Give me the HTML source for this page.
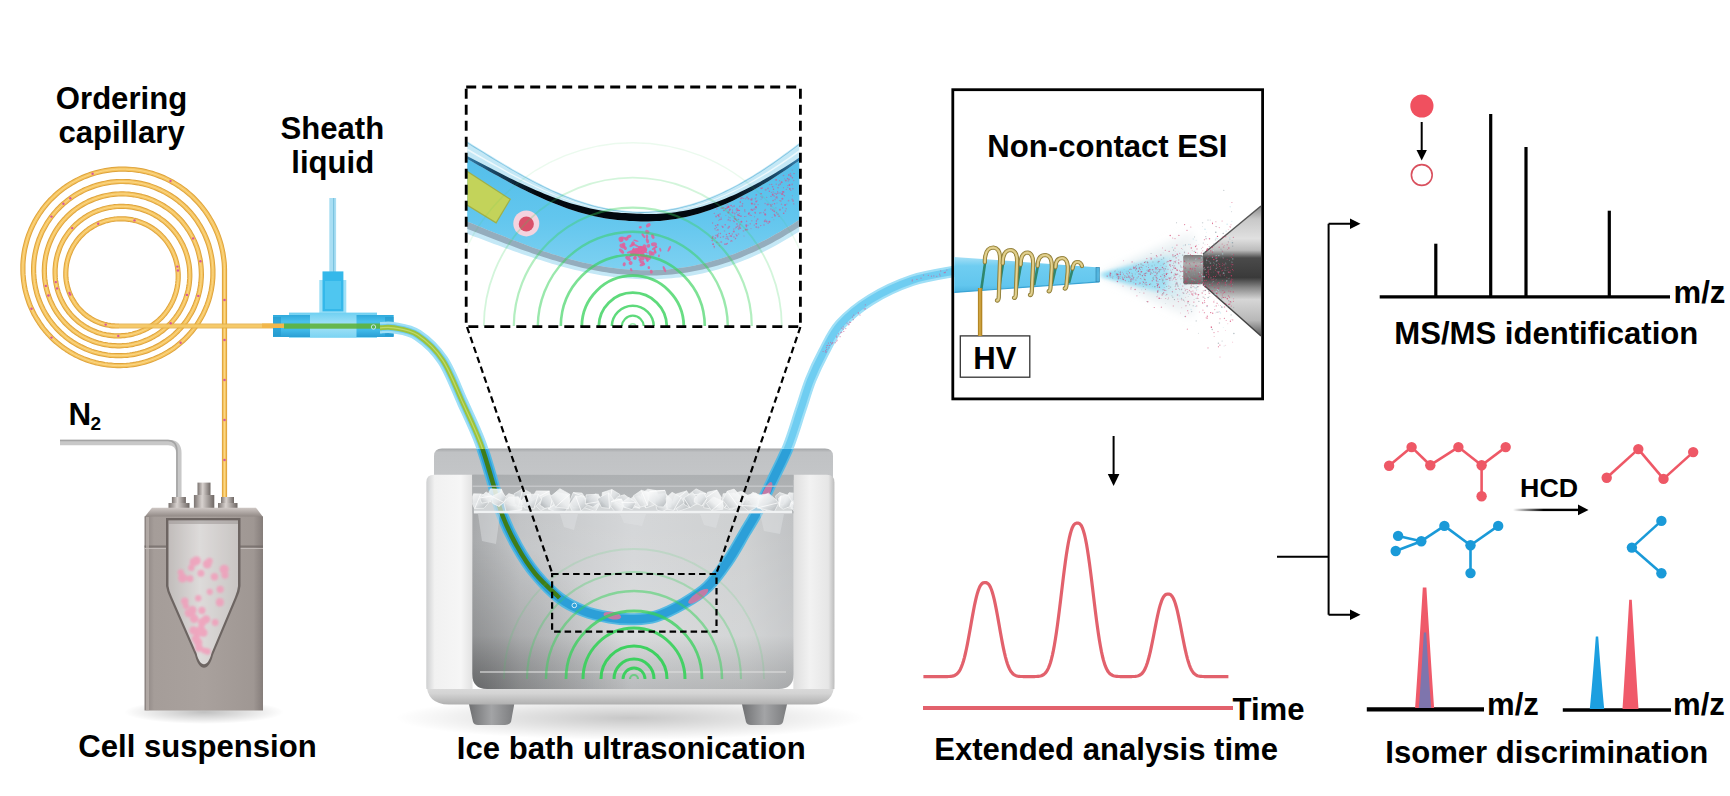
<!DOCTYPE html>
<html><head><meta charset="utf-8"><style>
html,body{margin:0;padding:0;background:#fff;}
svg{display:block;}
</style></head><body>
<svg width="1730" height="796" viewBox="0 0 1730 796">
<rect width="1730" height="796" fill="#fff"/>
<g fill="none" stroke-linejoin="round"><path d="M224.5,505.0 L224.5,300.0 L224.5,269.5 L224.4,266.1 L224.2,262.7 L223.8,259.3 L223.3,255.9 L222.8,252.5 L222.1,249.2 L221.3,245.8 L220.4,242.5 L219.4,239.3 L218.3,236.1 L217.1,232.9 L215.7,229.7 L214.3,226.7 L212.8,223.6 L211.1,220.6 L209.4,217.7 L207.6,214.8 L205.7,212.0 L203.7,209.3 L201.6,206.6 L199.4,204.0 L197.1,201.5 L194.8,199.1 L192.4,196.7 L189.9,194.4 L187.3,192.3 L184.7,190.1 L181.9,188.1 L179.2,186.2 L176.3,184.4 L173.4,182.6 L170.5,181.0 L167.5,179.5 L164.5,178.0 L161.4,176.7 L158.2,175.5 L155.1,174.4 L151.9,173.3 L148.6,172.4 L145.4,171.6 L142.1,170.9 L138.8,170.3 L135.5,169.9 L132.2,169.5 L128.8,169.3 L125.5,169.1 L122.1,169.1 L118.8,169.2 L115.5,169.4 L112.1,169.7 L108.8,170.1 L105.5,170.6 L102.2,171.2 L99.0,172.0 L95.8,172.8 L92.6,173.7 L89.4,174.8 L86.3,176.0 L83.2,177.2 L80.2,178.6 L77.2,180.0 L74.3,181.6 L71.4,183.2 L68.6,185.0 L65.8,186.8 L63.1,188.7 L60.5,190.8 L58.0,192.8 L55.5,195.0 L53.1,197.3 L50.7,199.6 L48.5,202.0 L46.3,204.5 L44.2,207.1 L42.2,209.7 L40.3,212.4 L38.5,215.1 L36.8,217.9 L35.1,220.8 L33.6,223.7 L32.2,226.6 L30.8,229.6 L29.6,232.6 L28.4,235.7 L27.4,238.8 L26.5,242.0 L25.7,245.1 L24.9,248.3 L24.3,251.5 L23.8,254.7 L23.4,258.0 L23.1,261.2 L22.9,264.5 L22.9,267.7 L22.9,271.0 L23.0,274.2 L23.3,277.5 L23.6,280.7 L24.1,283.9 L24.6,287.1 L25.3,290.3 L26.1,293.4 L27.0,296.6 L28.0,299.6 L29.0,302.7 L30.2,305.7 L31.5,308.7 L32.9,311.6 L34.3,314.5 L35.9,317.3 L37.6,320.0 L39.3,322.7 L41.1,325.4 L43.0,328.0 L45.0,330.5 L47.1,332.9 L49.3,335.3 L51.5,337.6 L53.8,339.8 L56.2,342.0 L58.7,344.0 L61.2,346.0 L63.7,347.9 L66.4,349.7 L69.1,351.4 L71.8,353.0 L74.6,354.6 L77.4,356.0 L80.3,357.3 L83.3,358.6 L86.2,359.7 L89.2,360.8 L92.3,361.7 L95.3,362.6 L98.4,363.3 L101.5,363.9 L104.6,364.5 L107.7,364.9 L110.9,365.2 L114.0,365.5 L117.2,365.6 L120.4,365.6 L123.5,365.5 L126.6,365.3 L129.8,365.0 L132.9,364.6 L136.0,364.1 L139.1,363.5 L142.1,362.8 L145.2,361.9 L148.2,361.0 L151.1,360.0 L154.1,358.9 L156.9,357.7 L159.8,356.4 L162.6,355.0 L165.3,353.5 L168.0,352.0 L170.7,350.3 L173.3,348.6 L175.8,346.7 L178.2,344.8 L180.6,342.8 L182.9,340.8 L185.2,338.6 L187.4,336.4 L189.5,334.1 L191.5,331.8 L193.4,329.4 L195.3,326.9 L197.1,324.4 L198.7,321.8 L200.3,319.1 L201.9,316.4 L203.3,313.7 L204.6,310.9 L205.8,308.1 L207.0,305.2 L208.0,302.3 L209.0,299.4 L209.8,296.5 L210.5,293.5 L211.2,290.5 L211.7,287.5 L212.2,284.4 L212.5,281.4 L212.8,278.3 L212.9,275.3 L212.9,272.2 L212.9,269.2 L212.7,266.1 L212.4,263.1 L212.1,260.0 L211.6,257.0 L211.0,254.0 L210.4,251.1 L209.6,248.1 L208.8,245.2 L207.8,242.3 L206.7,239.5 L205.6,236.7 L204.4,233.9 L203.0,231.2 L201.6,228.5 L200.1,225.8 L198.5,223.3 L196.9,220.7 L195.1,218.3 L193.3,215.9 L191.4,213.5 L189.4,211.3 L187.3,209.1 L185.2,206.9 L183.0,204.9 L180.7,202.9 L178.4,201.0 L176.0,199.2 L173.5,197.4 L171.0,195.8 L168.5,194.2 L165.9,192.7 L163.2,191.3 L160.5,190.0 L157.8,188.8 L155.0,187.6 L152.2,186.6 L149.4,185.6 L146.5,184.8 L143.6,184.0 L140.7,183.4 L137.8,182.8 L134.8,182.4 L131.9,182.0 L128.9,181.7 L126.0,181.6 L123.0,181.5 L120.0,181.5 L117.0,181.7 L114.1,181.9 L111.1,182.2 L108.2,182.6 L105.3,183.2 L102.4,183.8 L99.5,184.5 L96.7,185.3 L93.8,186.2 L91.1,187.2 L88.3,188.3 L85.6,189.4 L82.9,190.7 L80.3,192.1 L77.7,193.5 L75.2,195.0 L72.7,196.6 L70.3,198.3 L68.0,200.0 L65.7,201.9 L63.4,203.8 L61.3,205.7 L59.2,207.8 L57.1,209.9 L55.2,212.1 L53.3,214.3 L51.5,216.6 L49.8,219.0 L48.1,221.4 L46.5,223.9 L45.1,226.4 L43.7,228.9 L42.3,231.5 L41.1,234.2 L40.0,236.9 L38.9,239.6 L38.0,242.3 L37.1,245.1 L36.4,247.9 L35.7,250.7 L35.1,253.5 L34.6,256.4 L34.2,259.3 L33.9,262.1 L33.7,265.0 L33.6,267.9 L33.6,270.8 L33.7,273.7 L33.9,276.5 L34.1,279.4 L34.5,282.3 L35.0,285.1 L35.5,287.9 L36.2,290.7 L36.9,293.5 L37.7,296.2 L38.7,299.0 L39.7,301.6 L40.8,304.3 L42.0,306.9 L43.2,309.4 L44.6,311.9 L46.0,314.4 L47.5,316.8 L49.1,319.2 L50.8,321.5 L52.5,323.8 L54.3,325.9 L56.2,328.1 L58.2,330.1 L60.2,332.1 L62.2,334.0 L64.4,335.9 L66.6,337.7 L68.8,339.4 L71.1,341.0 L73.5,342.6 L75.9,344.0 L78.4,345.4 L80.9,346.7 L83.4,347.9 L86.0,349.1 L88.6,350.1 L91.2,351.1 L93.9,352.0 L96.6,352.7 L99.3,353.4 L102.0,354.0 L104.8,354.5 L107.5,355.0 L110.3,355.3 L113.1,355.5 L115.9,355.7 L118.7,355.7 L121.4,355.7 L124.2,355.5 L127.0,355.3 L129.7,355.0 L132.5,354.6 L135.2,354.1 L137.9,353.5 L140.6,352.8 L143.3,352.0 L145.9,351.2 L148.5,350.2 L151.0,349.2 L153.6,348.1 L156.0,346.9 L158.5,345.6 L160.9,344.3 L163.2,342.8 L165.5,341.3 L167.8,339.7 L170.0,338.1 L172.1,336.4 L174.2,334.6 L176.2,332.7 L178.1,330.8 L180.0,328.8 L181.8,326.7 L183.5,324.6 L185.2,322.5 L186.8,320.3 L188.3,318.0 L189.7,315.7 L191.1,313.4 L192.4,311.0 L193.6,308.5 L194.7,306.1 L195.7,303.5 L196.7,301.0 L197.5,298.4 L198.3,295.9 L199.0,293.2 L199.6,290.6 L200.1,288.0 L200.6,285.3 L200.9,282.6 L201.1,279.9 L201.3,277.3 L201.4,274.6 L201.3,271.9 L201.2,269.2 L201.0,266.5 L200.7,263.9 L200.4,261.2 L199.9,258.6 L199.3,256.0 L198.7,253.4 L198.0,250.8 L197.2,248.2 L196.3,245.7 L195.3,243.2 L194.3,240.8 L193.1,238.4 L191.9,236.0 L190.6,233.7 L189.3,231.4 L187.8,229.2 L186.3,227.0 L184.7,224.9 L183.1,222.8 L181.4,220.8 L179.6,218.8 L177.7,216.9 L175.8,215.1 L173.9,213.3 L171.8,211.6 L169.8,210.0 L167.6,208.4 L165.4,207.0 L163.2,205.5 L161.0,204.2 L158.7,203.0 L156.3,201.8 L153.9,200.7 L151.5,199.6 L149.1,198.7 L146.6,197.8 L144.1,197.1 L141.5,196.4 L139.0,195.8 L136.4,195.3 L133.9,194.8 L131.3,194.5 L128.7,194.2 L126.1,194.0 L123.5,193.9 L120.9,193.9 L118.3,194.0 L115.7,194.2 L113.1,194.4 L110.5,194.8 L108.0,195.2 L105.4,195.7 L102.9,196.3 L100.4,197.0 L97.9,197.7 L95.5,198.6 L93.0,199.5 L90.7,200.5 L88.3,201.5 L86.0,202.7 L83.7,203.9 L81.5,205.2 L79.3,206.6 L77.2,208.0 L75.1,209.5 L73.1,211.1 L71.1,212.8 L69.2,214.5 L67.3,216.2 L65.6,218.1 L63.8,219.9 L62.1,221.9 L60.5,223.9 L59.0,225.9 L57.5,228.0 L56.1,230.1 L54.8,232.3 L53.6,234.5 L52.4,236.8 L51.3,239.1 L50.3,241.4 L49.3,243.8 L48.5,246.1 L47.7,248.5 L47.0,251.0 L46.4,253.4 L45.8,255.9 L45.4,258.4 L45.0,260.9 L44.7,263.4 L44.5,265.9 L44.4,268.4 L44.3,270.9 L44.4,273.5 L44.5,276.0 L44.7,278.5 L45.0,281.0 L45.4,283.4 L45.8,285.9 L46.3,288.3 L47.0,290.8 L47.7,293.2 L48.4,295.5 L49.3,297.9 L50.2,300.2 L51.2,302.5 L52.3,304.7 L53.4,306.9 L54.6,309.1 L55.9,311.2 L57.3,313.3 L58.7,315.3 L60.2,317.3 L61.8,319.2 L63.4,321.1 L65.0,322.9 L66.8,324.7 L68.6,326.4 L70.4,328.0 L72.3,329.6 L74.2,331.1 L76.2,332.5 L78.2,333.9 L80.3,335.2 L82.4,336.4 L84.6,337.6 L86.8,338.7 L89.0,339.7 L91.3,340.6 L93.5,341.5 L95.8,342.3 L98.2,343.0 L100.5,343.6 L102.9,344.2 L105.3,344.6 L107.7,345.0 L110.1,345.3 L112.5,345.6 L114.9,345.7 L117.3,345.8 L119.7,345.8 L122.1,345.7 L124.5,345.5 L126.9,345.3 L129.3,345.0 L131.7,344.6 L134.0,344.1 L136.4,343.5 L138.7,342.9 L141.0,342.2 L143.2,341.4 L145.4,340.5 L147.6,339.6 L149.8,338.6 L151.9,337.5 L154.0,336.4 L156.1,335.1 L158.1,333.9 L160.0,332.5 L161.9,331.1 L163.8,329.6 L165.6,328.1 L167.4,326.5 L169.1,324.9 L170.7,323.2 L172.3,321.4 L173.8,319.6 L175.3,317.8 L176.7,315.9 L178.0,314.0 L179.3,312.0 L180.5,310.0 L181.6,307.9 L182.7,305.8 L183.7,303.7 L184.6,301.5 L185.5,299.4 L186.2,297.1 L186.9,294.9 L187.5,292.7 L188.1,290.4 L188.6,288.1 L189.0,285.8 L189.3,283.5 L189.5,281.2 L189.7,278.9 L189.8,276.6 L189.8,274.3 L189.7,271.9 L189.6,269.6 L189.4,267.3 L189.1,265.0 L188.7,262.8 L188.2,260.5 L187.7,258.3 L187.1,256.0 L186.4,253.8 L185.7,251.7 L184.9,249.5 L184.0,247.4 L183.1,245.3 L182.0,243.3 L180.9,241.2 L179.8,239.3 L178.6,237.3 L177.3,235.4 L176.0,233.6 L174.6,231.8 L173.1,230.0 L171.6,228.3 L170.0,226.7 L168.4,225.1 L166.7,223.5 L165.0,222.1 L163.2,220.6 L161.4,219.3 L159.6,218.0 L157.7,216.7 L155.7,215.6 L153.8,214.5 L151.7,213.4 L149.7,212.5 L147.6,211.6 L145.5,210.7 L143.4,210.0 L141.3,209.3 L139.1,208.6 L136.9,208.1 L134.7,207.6 L132.5,207.2 L130.3,206.9 L128.1,206.7 L125.9,206.5 L123.6,206.4 L121.4,206.3 L119.2,206.4 L116.9,206.5 L114.7,206.7 L112.5,207.0 L110.3,207.3 L108.1,207.7 L105.9,208.2 L103.8,208.7 L101.7,209.4 L99.6,210.1 L97.5,210.8 L95.4,211.7 L93.4,212.5 L91.4,213.5 L89.5,214.5 L87.5,215.6 L85.7,216.8 L83.8,218.0 L82.0,219.3 L80.3,220.6 L78.6,222.0 L76.9,223.4 L75.3,224.9 L73.7,226.5 L72.2,228.1 L70.8,229.7 L69.4,231.4 L68.1,233.1 L66.8,234.9 L65.6,236.7 L64.4,238.5 L63.3,240.4 L62.3,242.3 L61.3,244.3 L60.4,246.3 L59.6,248.3 L58.9,250.3 L58.2,252.4 L57.5,254.4 L57.0,256.5 L56.5,258.6 L56.1,260.7 L55.7,262.9 L55.5,265.0 L55.3,267.1 L55.1,269.3 L55.1,271.4 L55.1,273.6 L55.2,275.7 L55.3,277.9 L55.5,280.0 L55.8,282.1 L56.2,284.2 L56.6,286.3 L57.1,288.4 L57.7,290.4 L58.3,292.5 L59.0,294.5 L59.8,296.4 L60.6,298.4 L61.5,300.3 L62.5,302.2 L63.5,304.1 L64.5,305.9 L65.7,307.7 L66.9,309.4 L68.1,311.1 L69.4,312.8 L70.8,314.4 L72.2,315.9 L73.6,317.4 L75.1,318.9 L76.7,320.3 L78.3,321.7 L79.9,323.0 L81.6,324.2 L83.3,325.4 L85.0,326.5 L86.8,327.6 L88.6,328.6 L90.5,329.5 L92.4,330.4 L94.3,331.2 L96.2,332.0 L98.1,332.7 L100.1,333.3 L102.1,333.9 L104.1,334.4 L106.1,334.8 L108.1,335.1 L110.2,335.4 L112.2,335.7 L114.3,335.8 L116.3,335.9 L118.3,335.9 L120.4,335.9 L122.4,335.7 L124.5,335.6 L126.5,335.3 L128.5,335.0 L130.5,334.6 L132.5,334.2 L134.4,333.6 L136.4,333.1 L138.3,332.4 L140.2,331.7 L142.0,330.9 L143.9,330.1 L145.7,329.2 L147.5,328.3 L149.2,327.3 L150.9,326.2 L152.6,325.1 L154.2,323.9 L155.8,322.7 L157.3,321.4 L158.8,320.1 L160.3,318.7 L161.7,317.3 L163.0,315.9 L164.4,314.3 L165.6,312.8 L166.8,311.2 L167.9,309.6 L169.0,307.9 L170.1,306.3 L171.0,304.5 L172.0,302.8 L172.8,301.0 L173.6,299.2 L174.3,297.4 L175.0,295.5 L175.6,293.6 L176.2,291.8 L176.6,289.9 L177.1,287.9 L177.4,286.0 L177.7,284.1 L177.9,282.1 L178.1,280.2 L178.2,278.2 L178.2,276.3 L178.2,274.3 L178.1,272.4 L177.9,270.5 L177.7,268.5 L177.4,266.6 L177.0,264.7 L176.6,262.8 L176.1,261.0 L175.6,259.1 L175.0,257.3 L174.3,255.5 L173.6,253.7 L172.8,251.9 L172.0,250.2 L171.1,248.5 L170.1,246.8 L169.1,245.2 L168.1,243.6 L167.0,242.0 L165.8,240.5 L164.6,239.0 L163.3,237.6 L162.0,236.2 L160.7,234.8 L159.3,233.5 L157.9,232.3 L156.4,231.1 L154.9,229.9 L153.4,228.8 L151.8,227.8 L150.2,226.8 L148.5,225.8 L146.9,224.9 L145.2,224.1 L143.4,223.3 L141.7,222.6 L139.9,222.0 L138.2,221.4 L136.4,220.8 L134.5,220.4 L132.7,219.9 L130.9,219.6 L129.0,219.3 L127.2,219.1 L125.3,218.9 L123.4,218.8 L121.6,218.8 L119.7,218.8 L117.8,218.9 L116.0,219.0 L114.1,219.2 L112.3,219.5 L110.5,219.8 L108.7,220.2 L106.9,220.6 L105.1,221.1 L103.3,221.7 L101.6,222.3 L99.9,223.0 L98.2,223.7 L96.5,224.5 L94.9,225.3 L93.3,226.2 L91.7,227.2 L90.1,228.2 L88.6,229.2 L87.2,230.3 L85.7,231.4 L84.3,232.6 L83.0,233.8 L81.7,235.1 L80.4,236.4 L79.2,237.8 L78.0,239.2 L76.9,240.6 L75.8,242.1 L74.8,243.6 L73.8,245.1 L72.9,246.6 L72.1,248.2 L71.2,249.8 L70.5,251.5 L69.8,253.1 L69.1,254.8 L68.5,256.5 L68.0,258.2 L67.5,259.9 L67.1,261.7 L66.7,263.4 L66.4,265.2 L66.2,267.0 L66.0,268.7 L65.9,270.5 L65.8,272.3 L65.8,274.1 L65.8,275.8 L65.9,277.6 L66.1,279.4 L66.3,281.1 L66.6,282.9 L67.0,284.6 L67.4,286.3 L67.8,288.0 L68.3,289.7 L68.9,291.4 L69.5,293.0 L70.2,294.6 L70.9,296.2 L71.6,297.8 L72.5,299.3 L73.3,300.8 L74.3,302.3 L75.2,303.8 L76.2,305.2 L77.3,306.6 L78.4,307.9 L79.6,309.2 L80.7,310.4 L82.0,311.7 L83.2,312.8 L84.5,314.0 L85.9,315.1 L87.2,316.1 L88.6,317.1 L90.1,318.0 L91.5,318.9 L93.0,319.8 L94.5,320.6 L96.1,321.3 L97.6,322.0 L99.2,322.6 L100.8,323.2 L102.4,323.7 L104.0,324.2 L105.7,324.6 L107.3,325.0 L109.0,325.3 L110.6,325.6 L112.3,325.8 L114.0,325.9 L115.6,326.0 L117.3,326.0 L119.0,326.0" stroke="#dea33c" stroke-width="5.2"/>
<path d="M224.5,505.0 L224.5,300.0 L224.5,269.5 L224.4,266.1 L224.2,262.7 L223.8,259.3 L223.3,255.9 L222.8,252.5 L222.1,249.2 L221.3,245.8 L220.4,242.5 L219.4,239.3 L218.3,236.1 L217.1,232.9 L215.7,229.7 L214.3,226.7 L212.8,223.6 L211.1,220.6 L209.4,217.7 L207.6,214.8 L205.7,212.0 L203.7,209.3 L201.6,206.6 L199.4,204.0 L197.1,201.5 L194.8,199.1 L192.4,196.7 L189.9,194.4 L187.3,192.3 L184.7,190.1 L181.9,188.1 L179.2,186.2 L176.3,184.4 L173.4,182.6 L170.5,181.0 L167.5,179.5 L164.5,178.0 L161.4,176.7 L158.2,175.5 L155.1,174.4 L151.9,173.3 L148.6,172.4 L145.4,171.6 L142.1,170.9 L138.8,170.3 L135.5,169.9 L132.2,169.5 L128.8,169.3 L125.5,169.1 L122.1,169.1 L118.8,169.2 L115.5,169.4 L112.1,169.7 L108.8,170.1 L105.5,170.6 L102.2,171.2 L99.0,172.0 L95.8,172.8 L92.6,173.7 L89.4,174.8 L86.3,176.0 L83.2,177.2 L80.2,178.6 L77.2,180.0 L74.3,181.6 L71.4,183.2 L68.6,185.0 L65.8,186.8 L63.1,188.7 L60.5,190.8 L58.0,192.8 L55.5,195.0 L53.1,197.3 L50.7,199.6 L48.5,202.0 L46.3,204.5 L44.2,207.1 L42.2,209.7 L40.3,212.4 L38.5,215.1 L36.8,217.9 L35.1,220.8 L33.6,223.7 L32.2,226.6 L30.8,229.6 L29.6,232.6 L28.4,235.7 L27.4,238.8 L26.5,242.0 L25.7,245.1 L24.9,248.3 L24.3,251.5 L23.8,254.7 L23.4,258.0 L23.1,261.2 L22.9,264.5 L22.9,267.7 L22.9,271.0 L23.0,274.2 L23.3,277.5 L23.6,280.7 L24.1,283.9 L24.6,287.1 L25.3,290.3 L26.1,293.4 L27.0,296.6 L28.0,299.6 L29.0,302.7 L30.2,305.7 L31.5,308.7 L32.9,311.6 L34.3,314.5 L35.9,317.3 L37.6,320.0 L39.3,322.7 L41.1,325.4 L43.0,328.0 L45.0,330.5 L47.1,332.9 L49.3,335.3 L51.5,337.6 L53.8,339.8 L56.2,342.0 L58.7,344.0 L61.2,346.0 L63.7,347.9 L66.4,349.7 L69.1,351.4 L71.8,353.0 L74.6,354.6 L77.4,356.0 L80.3,357.3 L83.3,358.6 L86.2,359.7 L89.2,360.8 L92.3,361.7 L95.3,362.6 L98.4,363.3 L101.5,363.9 L104.6,364.5 L107.7,364.9 L110.9,365.2 L114.0,365.5 L117.2,365.6 L120.4,365.6 L123.5,365.5 L126.6,365.3 L129.8,365.0 L132.9,364.6 L136.0,364.1 L139.1,363.5 L142.1,362.8 L145.2,361.9 L148.2,361.0 L151.1,360.0 L154.1,358.9 L156.9,357.7 L159.8,356.4 L162.6,355.0 L165.3,353.5 L168.0,352.0 L170.7,350.3 L173.3,348.6 L175.8,346.7 L178.2,344.8 L180.6,342.8 L182.9,340.8 L185.2,338.6 L187.4,336.4 L189.5,334.1 L191.5,331.8 L193.4,329.4 L195.3,326.9 L197.1,324.4 L198.7,321.8 L200.3,319.1 L201.9,316.4 L203.3,313.7 L204.6,310.9 L205.8,308.1 L207.0,305.2 L208.0,302.3 L209.0,299.4 L209.8,296.5 L210.5,293.5 L211.2,290.5 L211.7,287.5 L212.2,284.4 L212.5,281.4 L212.8,278.3 L212.9,275.3 L212.9,272.2 L212.9,269.2 L212.7,266.1 L212.4,263.1 L212.1,260.0 L211.6,257.0 L211.0,254.0 L210.4,251.1 L209.6,248.1 L208.8,245.2 L207.8,242.3 L206.7,239.5 L205.6,236.7 L204.4,233.9 L203.0,231.2 L201.6,228.5 L200.1,225.8 L198.5,223.3 L196.9,220.7 L195.1,218.3 L193.3,215.9 L191.4,213.5 L189.4,211.3 L187.3,209.1 L185.2,206.9 L183.0,204.9 L180.7,202.9 L178.4,201.0 L176.0,199.2 L173.5,197.4 L171.0,195.8 L168.5,194.2 L165.9,192.7 L163.2,191.3 L160.5,190.0 L157.8,188.8 L155.0,187.6 L152.2,186.6 L149.4,185.6 L146.5,184.8 L143.6,184.0 L140.7,183.4 L137.8,182.8 L134.8,182.4 L131.9,182.0 L128.9,181.7 L126.0,181.6 L123.0,181.5 L120.0,181.5 L117.0,181.7 L114.1,181.9 L111.1,182.2 L108.2,182.6 L105.3,183.2 L102.4,183.8 L99.5,184.5 L96.7,185.3 L93.8,186.2 L91.1,187.2 L88.3,188.3 L85.6,189.4 L82.9,190.7 L80.3,192.1 L77.7,193.5 L75.2,195.0 L72.7,196.6 L70.3,198.3 L68.0,200.0 L65.7,201.9 L63.4,203.8 L61.3,205.7 L59.2,207.8 L57.1,209.9 L55.2,212.1 L53.3,214.3 L51.5,216.6 L49.8,219.0 L48.1,221.4 L46.5,223.9 L45.1,226.4 L43.7,228.9 L42.3,231.5 L41.1,234.2 L40.0,236.9 L38.9,239.6 L38.0,242.3 L37.1,245.1 L36.4,247.9 L35.7,250.7 L35.1,253.5 L34.6,256.4 L34.2,259.3 L33.9,262.1 L33.7,265.0 L33.6,267.9 L33.6,270.8 L33.7,273.7 L33.9,276.5 L34.1,279.4 L34.5,282.3 L35.0,285.1 L35.5,287.9 L36.2,290.7 L36.9,293.5 L37.7,296.2 L38.7,299.0 L39.7,301.6 L40.8,304.3 L42.0,306.9 L43.2,309.4 L44.6,311.9 L46.0,314.4 L47.5,316.8 L49.1,319.2 L50.8,321.5 L52.5,323.8 L54.3,325.9 L56.2,328.1 L58.2,330.1 L60.2,332.1 L62.2,334.0 L64.4,335.9 L66.6,337.7 L68.8,339.4 L71.1,341.0 L73.5,342.6 L75.9,344.0 L78.4,345.4 L80.9,346.7 L83.4,347.9 L86.0,349.1 L88.6,350.1 L91.2,351.1 L93.9,352.0 L96.6,352.7 L99.3,353.4 L102.0,354.0 L104.8,354.5 L107.5,355.0 L110.3,355.3 L113.1,355.5 L115.9,355.7 L118.7,355.7 L121.4,355.7 L124.2,355.5 L127.0,355.3 L129.7,355.0 L132.5,354.6 L135.2,354.1 L137.9,353.5 L140.6,352.8 L143.3,352.0 L145.9,351.2 L148.5,350.2 L151.0,349.2 L153.6,348.1 L156.0,346.9 L158.5,345.6 L160.9,344.3 L163.2,342.8 L165.5,341.3 L167.8,339.7 L170.0,338.1 L172.1,336.4 L174.2,334.6 L176.2,332.7 L178.1,330.8 L180.0,328.8 L181.8,326.7 L183.5,324.6 L185.2,322.5 L186.8,320.3 L188.3,318.0 L189.7,315.7 L191.1,313.4 L192.4,311.0 L193.6,308.5 L194.7,306.1 L195.7,303.5 L196.7,301.0 L197.5,298.4 L198.3,295.9 L199.0,293.2 L199.6,290.6 L200.1,288.0 L200.6,285.3 L200.9,282.6 L201.1,279.9 L201.3,277.3 L201.4,274.6 L201.3,271.9 L201.2,269.2 L201.0,266.5 L200.7,263.9 L200.4,261.2 L199.9,258.6 L199.3,256.0 L198.7,253.4 L198.0,250.8 L197.2,248.2 L196.3,245.7 L195.3,243.2 L194.3,240.8 L193.1,238.4 L191.9,236.0 L190.6,233.7 L189.3,231.4 L187.8,229.2 L186.3,227.0 L184.7,224.9 L183.1,222.8 L181.4,220.8 L179.6,218.8 L177.7,216.9 L175.8,215.1 L173.9,213.3 L171.8,211.6 L169.8,210.0 L167.6,208.4 L165.4,207.0 L163.2,205.5 L161.0,204.2 L158.7,203.0 L156.3,201.8 L153.9,200.7 L151.5,199.6 L149.1,198.7 L146.6,197.8 L144.1,197.1 L141.5,196.4 L139.0,195.8 L136.4,195.3 L133.9,194.8 L131.3,194.5 L128.7,194.2 L126.1,194.0 L123.5,193.9 L120.9,193.9 L118.3,194.0 L115.7,194.2 L113.1,194.4 L110.5,194.8 L108.0,195.2 L105.4,195.7 L102.9,196.3 L100.4,197.0 L97.9,197.7 L95.5,198.6 L93.0,199.5 L90.7,200.5 L88.3,201.5 L86.0,202.7 L83.7,203.9 L81.5,205.2 L79.3,206.6 L77.2,208.0 L75.1,209.5 L73.1,211.1 L71.1,212.8 L69.2,214.5 L67.3,216.2 L65.6,218.1 L63.8,219.9 L62.1,221.9 L60.5,223.9 L59.0,225.9 L57.5,228.0 L56.1,230.1 L54.8,232.3 L53.6,234.5 L52.4,236.8 L51.3,239.1 L50.3,241.4 L49.3,243.8 L48.5,246.1 L47.7,248.5 L47.0,251.0 L46.4,253.4 L45.8,255.9 L45.4,258.4 L45.0,260.9 L44.7,263.4 L44.5,265.9 L44.4,268.4 L44.3,270.9 L44.4,273.5 L44.5,276.0 L44.7,278.5 L45.0,281.0 L45.4,283.4 L45.8,285.9 L46.3,288.3 L47.0,290.8 L47.7,293.2 L48.4,295.5 L49.3,297.9 L50.2,300.2 L51.2,302.5 L52.3,304.7 L53.4,306.9 L54.6,309.1 L55.9,311.2 L57.3,313.3 L58.7,315.3 L60.2,317.3 L61.8,319.2 L63.4,321.1 L65.0,322.9 L66.8,324.7 L68.6,326.4 L70.4,328.0 L72.3,329.6 L74.2,331.1 L76.2,332.5 L78.2,333.9 L80.3,335.2 L82.4,336.4 L84.6,337.6 L86.8,338.7 L89.0,339.7 L91.3,340.6 L93.5,341.5 L95.8,342.3 L98.2,343.0 L100.5,343.6 L102.9,344.2 L105.3,344.6 L107.7,345.0 L110.1,345.3 L112.5,345.6 L114.9,345.7 L117.3,345.8 L119.7,345.8 L122.1,345.7 L124.5,345.5 L126.9,345.3 L129.3,345.0 L131.7,344.6 L134.0,344.1 L136.4,343.5 L138.7,342.9 L141.0,342.2 L143.2,341.4 L145.4,340.5 L147.6,339.6 L149.8,338.6 L151.9,337.5 L154.0,336.4 L156.1,335.1 L158.1,333.9 L160.0,332.5 L161.9,331.1 L163.8,329.6 L165.6,328.1 L167.4,326.5 L169.1,324.9 L170.7,323.2 L172.3,321.4 L173.8,319.6 L175.3,317.8 L176.7,315.9 L178.0,314.0 L179.3,312.0 L180.5,310.0 L181.6,307.9 L182.7,305.8 L183.7,303.7 L184.6,301.5 L185.5,299.4 L186.2,297.1 L186.9,294.9 L187.5,292.7 L188.1,290.4 L188.6,288.1 L189.0,285.8 L189.3,283.5 L189.5,281.2 L189.7,278.9 L189.8,276.6 L189.8,274.3 L189.7,271.9 L189.6,269.6 L189.4,267.3 L189.1,265.0 L188.7,262.8 L188.2,260.5 L187.7,258.3 L187.1,256.0 L186.4,253.8 L185.7,251.7 L184.9,249.5 L184.0,247.4 L183.1,245.3 L182.0,243.3 L180.9,241.2 L179.8,239.3 L178.6,237.3 L177.3,235.4 L176.0,233.6 L174.6,231.8 L173.1,230.0 L171.6,228.3 L170.0,226.7 L168.4,225.1 L166.7,223.5 L165.0,222.1 L163.2,220.6 L161.4,219.3 L159.6,218.0 L157.7,216.7 L155.7,215.6 L153.8,214.5 L151.7,213.4 L149.7,212.5 L147.6,211.6 L145.5,210.7 L143.4,210.0 L141.3,209.3 L139.1,208.6 L136.9,208.1 L134.7,207.6 L132.5,207.2 L130.3,206.9 L128.1,206.7 L125.9,206.5 L123.6,206.4 L121.4,206.3 L119.2,206.4 L116.9,206.5 L114.7,206.7 L112.5,207.0 L110.3,207.3 L108.1,207.7 L105.9,208.2 L103.8,208.7 L101.7,209.4 L99.6,210.1 L97.5,210.8 L95.4,211.7 L93.4,212.5 L91.4,213.5 L89.5,214.5 L87.5,215.6 L85.7,216.8 L83.8,218.0 L82.0,219.3 L80.3,220.6 L78.6,222.0 L76.9,223.4 L75.3,224.9 L73.7,226.5 L72.2,228.1 L70.8,229.7 L69.4,231.4 L68.1,233.1 L66.8,234.9 L65.6,236.7 L64.4,238.5 L63.3,240.4 L62.3,242.3 L61.3,244.3 L60.4,246.3 L59.6,248.3 L58.9,250.3 L58.2,252.4 L57.5,254.4 L57.0,256.5 L56.5,258.6 L56.1,260.7 L55.7,262.9 L55.5,265.0 L55.3,267.1 L55.1,269.3 L55.1,271.4 L55.1,273.6 L55.2,275.7 L55.3,277.9 L55.5,280.0 L55.8,282.1 L56.2,284.2 L56.6,286.3 L57.1,288.4 L57.7,290.4 L58.3,292.5 L59.0,294.5 L59.8,296.4 L60.6,298.4 L61.5,300.3 L62.5,302.2 L63.5,304.1 L64.5,305.9 L65.7,307.7 L66.9,309.4 L68.1,311.1 L69.4,312.8 L70.8,314.4 L72.2,315.9 L73.6,317.4 L75.1,318.9 L76.7,320.3 L78.3,321.7 L79.9,323.0 L81.6,324.2 L83.3,325.4 L85.0,326.5 L86.8,327.6 L88.6,328.6 L90.5,329.5 L92.4,330.4 L94.3,331.2 L96.2,332.0 L98.1,332.7 L100.1,333.3 L102.1,333.9 L104.1,334.4 L106.1,334.8 L108.1,335.1 L110.2,335.4 L112.2,335.7 L114.3,335.8 L116.3,335.9 L118.3,335.9 L120.4,335.9 L122.4,335.7 L124.5,335.6 L126.5,335.3 L128.5,335.0 L130.5,334.6 L132.5,334.2 L134.4,333.6 L136.4,333.1 L138.3,332.4 L140.2,331.7 L142.0,330.9 L143.9,330.1 L145.7,329.2 L147.5,328.3 L149.2,327.3 L150.9,326.2 L152.6,325.1 L154.2,323.9 L155.8,322.7 L157.3,321.4 L158.8,320.1 L160.3,318.7 L161.7,317.3 L163.0,315.9 L164.4,314.3 L165.6,312.8 L166.8,311.2 L167.9,309.6 L169.0,307.9 L170.1,306.3 L171.0,304.5 L172.0,302.8 L172.8,301.0 L173.6,299.2 L174.3,297.4 L175.0,295.5 L175.6,293.6 L176.2,291.8 L176.6,289.9 L177.1,287.9 L177.4,286.0 L177.7,284.1 L177.9,282.1 L178.1,280.2 L178.2,278.2 L178.2,276.3 L178.2,274.3 L178.1,272.4 L177.9,270.5 L177.7,268.5 L177.4,266.6 L177.0,264.7 L176.6,262.8 L176.1,261.0 L175.6,259.1 L175.0,257.3 L174.3,255.5 L173.6,253.7 L172.8,251.9 L172.0,250.2 L171.1,248.5 L170.1,246.8 L169.1,245.2 L168.1,243.6 L167.0,242.0 L165.8,240.5 L164.6,239.0 L163.3,237.6 L162.0,236.2 L160.7,234.8 L159.3,233.5 L157.9,232.3 L156.4,231.1 L154.9,229.9 L153.4,228.8 L151.8,227.8 L150.2,226.8 L148.5,225.8 L146.9,224.9 L145.2,224.1 L143.4,223.3 L141.7,222.6 L139.9,222.0 L138.2,221.4 L136.4,220.8 L134.5,220.4 L132.7,219.9 L130.9,219.6 L129.0,219.3 L127.2,219.1 L125.3,218.9 L123.4,218.8 L121.6,218.8 L119.7,218.8 L117.8,218.9 L116.0,219.0 L114.1,219.2 L112.3,219.5 L110.5,219.8 L108.7,220.2 L106.9,220.6 L105.1,221.1 L103.3,221.7 L101.6,222.3 L99.9,223.0 L98.2,223.7 L96.5,224.5 L94.9,225.3 L93.3,226.2 L91.7,227.2 L90.1,228.2 L88.6,229.2 L87.2,230.3 L85.7,231.4 L84.3,232.6 L83.0,233.8 L81.7,235.1 L80.4,236.4 L79.2,237.8 L78.0,239.2 L76.9,240.6 L75.8,242.1 L74.8,243.6 L73.8,245.1 L72.9,246.6 L72.1,248.2 L71.2,249.8 L70.5,251.5 L69.8,253.1 L69.1,254.8 L68.5,256.5 L68.0,258.2 L67.5,259.9 L67.1,261.7 L66.7,263.4 L66.4,265.2 L66.2,267.0 L66.0,268.7 L65.9,270.5 L65.8,272.3 L65.8,274.1 L65.8,275.8 L65.9,277.6 L66.1,279.4 L66.3,281.1 L66.6,282.9 L67.0,284.6 L67.4,286.3 L67.8,288.0 L68.3,289.7 L68.9,291.4 L69.5,293.0 L70.2,294.6 L70.9,296.2 L71.6,297.8 L72.5,299.3 L73.3,300.8 L74.3,302.3 L75.2,303.8 L76.2,305.2 L77.3,306.6 L78.4,307.9 L79.6,309.2 L80.7,310.4 L82.0,311.7 L83.2,312.8 L84.5,314.0 L85.9,315.1 L87.2,316.1 L88.6,317.1 L90.1,318.0 L91.5,318.9 L93.0,319.8 L94.5,320.6 L96.1,321.3 L97.6,322.0 L99.2,322.6 L100.8,323.2 L102.4,323.7 L104.0,324.2 L105.7,324.6 L107.3,325.0 L109.0,325.3 L110.6,325.6 L112.3,325.8 L114.0,325.9 L115.6,326.0 L117.3,326.0 L119.0,326.0" stroke="#f6c560" stroke-width="3.3"/>
<path d="M224.5,505.0 L224.5,300.0 L224.5,269.5 L224.4,266.1 L224.2,262.7 L223.8,259.3 L223.3,255.9 L222.8,252.5 L222.1,249.2 L221.3,245.8 L220.4,242.5 L219.4,239.3 L218.3,236.1 L217.1,232.9 L215.7,229.7 L214.3,226.7 L212.8,223.6 L211.1,220.6 L209.4,217.7 L207.6,214.8 L205.7,212.0 L203.7,209.3 L201.6,206.6 L199.4,204.0 L197.1,201.5 L194.8,199.1 L192.4,196.7 L189.9,194.4 L187.3,192.3 L184.7,190.1 L181.9,188.1 L179.2,186.2 L176.3,184.4 L173.4,182.6 L170.5,181.0 L167.5,179.5 L164.5,178.0 L161.4,176.7 L158.2,175.5 L155.1,174.4 L151.9,173.3 L148.6,172.4 L145.4,171.6 L142.1,170.9 L138.8,170.3 L135.5,169.9 L132.2,169.5 L128.8,169.3 L125.5,169.1 L122.1,169.1 L118.8,169.2 L115.5,169.4 L112.1,169.7 L108.8,170.1 L105.5,170.6 L102.2,171.2 L99.0,172.0 L95.8,172.8 L92.6,173.7 L89.4,174.8 L86.3,176.0 L83.2,177.2 L80.2,178.6 L77.2,180.0 L74.3,181.6 L71.4,183.2 L68.6,185.0 L65.8,186.8 L63.1,188.7 L60.5,190.8 L58.0,192.8 L55.5,195.0 L53.1,197.3 L50.7,199.6 L48.5,202.0 L46.3,204.5 L44.2,207.1 L42.2,209.7 L40.3,212.4 L38.5,215.1 L36.8,217.9 L35.1,220.8 L33.6,223.7 L32.2,226.6 L30.8,229.6 L29.6,232.6 L28.4,235.7 L27.4,238.8 L26.5,242.0 L25.7,245.1 L24.9,248.3 L24.3,251.5 L23.8,254.7 L23.4,258.0 L23.1,261.2 L22.9,264.5 L22.9,267.7 L22.9,271.0 L23.0,274.2 L23.3,277.5 L23.6,280.7 L24.1,283.9 L24.6,287.1 L25.3,290.3 L26.1,293.4 L27.0,296.6 L28.0,299.6 L29.0,302.7 L30.2,305.7 L31.5,308.7 L32.9,311.6 L34.3,314.5 L35.9,317.3 L37.6,320.0 L39.3,322.7 L41.1,325.4 L43.0,328.0 L45.0,330.5 L47.1,332.9 L49.3,335.3 L51.5,337.6 L53.8,339.8 L56.2,342.0 L58.7,344.0 L61.2,346.0 L63.7,347.9 L66.4,349.7 L69.1,351.4 L71.8,353.0 L74.6,354.6 L77.4,356.0 L80.3,357.3 L83.3,358.6 L86.2,359.7 L89.2,360.8 L92.3,361.7 L95.3,362.6 L98.4,363.3 L101.5,363.9 L104.6,364.5 L107.7,364.9 L110.9,365.2 L114.0,365.5 L117.2,365.6 L120.4,365.6 L123.5,365.5 L126.6,365.3 L129.8,365.0 L132.9,364.6 L136.0,364.1 L139.1,363.5 L142.1,362.8 L145.2,361.9 L148.2,361.0 L151.1,360.0 L154.1,358.9 L156.9,357.7 L159.8,356.4 L162.6,355.0 L165.3,353.5 L168.0,352.0 L170.7,350.3 L173.3,348.6 L175.8,346.7 L178.2,344.8 L180.6,342.8 L182.9,340.8 L185.2,338.6 L187.4,336.4 L189.5,334.1 L191.5,331.8 L193.4,329.4 L195.3,326.9 L197.1,324.4 L198.7,321.8 L200.3,319.1 L201.9,316.4 L203.3,313.7 L204.6,310.9 L205.8,308.1 L207.0,305.2 L208.0,302.3 L209.0,299.4 L209.8,296.5 L210.5,293.5 L211.2,290.5 L211.7,287.5 L212.2,284.4 L212.5,281.4 L212.8,278.3 L212.9,275.3 L212.9,272.2 L212.9,269.2 L212.7,266.1 L212.4,263.1 L212.1,260.0 L211.6,257.0 L211.0,254.0 L210.4,251.1 L209.6,248.1 L208.8,245.2 L207.8,242.3 L206.7,239.5 L205.6,236.7 L204.4,233.9 L203.0,231.2 L201.6,228.5 L200.1,225.8 L198.5,223.3 L196.9,220.7 L195.1,218.3 L193.3,215.9 L191.4,213.5 L189.4,211.3 L187.3,209.1 L185.2,206.9 L183.0,204.9 L180.7,202.9 L178.4,201.0 L176.0,199.2 L173.5,197.4 L171.0,195.8 L168.5,194.2 L165.9,192.7 L163.2,191.3 L160.5,190.0 L157.8,188.8 L155.0,187.6 L152.2,186.6 L149.4,185.6 L146.5,184.8 L143.6,184.0 L140.7,183.4 L137.8,182.8 L134.8,182.4 L131.9,182.0 L128.9,181.7 L126.0,181.6 L123.0,181.5 L120.0,181.5 L117.0,181.7 L114.1,181.9 L111.1,182.2 L108.2,182.6 L105.3,183.2 L102.4,183.8 L99.5,184.5 L96.7,185.3 L93.8,186.2 L91.1,187.2 L88.3,188.3 L85.6,189.4 L82.9,190.7 L80.3,192.1 L77.7,193.5 L75.2,195.0 L72.7,196.6 L70.3,198.3 L68.0,200.0 L65.7,201.9 L63.4,203.8 L61.3,205.7 L59.2,207.8 L57.1,209.9 L55.2,212.1 L53.3,214.3 L51.5,216.6 L49.8,219.0 L48.1,221.4 L46.5,223.9 L45.1,226.4 L43.7,228.9 L42.3,231.5 L41.1,234.2 L40.0,236.9 L38.9,239.6 L38.0,242.3 L37.1,245.1 L36.4,247.9 L35.7,250.7 L35.1,253.5 L34.6,256.4 L34.2,259.3 L33.9,262.1 L33.7,265.0 L33.6,267.9 L33.6,270.8 L33.7,273.7 L33.9,276.5 L34.1,279.4 L34.5,282.3 L35.0,285.1 L35.5,287.9 L36.2,290.7 L36.9,293.5 L37.7,296.2 L38.7,299.0 L39.7,301.6 L40.8,304.3 L42.0,306.9 L43.2,309.4 L44.6,311.9 L46.0,314.4 L47.5,316.8 L49.1,319.2 L50.8,321.5 L52.5,323.8 L54.3,325.9 L56.2,328.1 L58.2,330.1 L60.2,332.1 L62.2,334.0 L64.4,335.9 L66.6,337.7 L68.8,339.4 L71.1,341.0 L73.5,342.6 L75.9,344.0 L78.4,345.4 L80.9,346.7 L83.4,347.9 L86.0,349.1 L88.6,350.1 L91.2,351.1 L93.9,352.0 L96.6,352.7 L99.3,353.4 L102.0,354.0 L104.8,354.5 L107.5,355.0 L110.3,355.3 L113.1,355.5 L115.9,355.7 L118.7,355.7 L121.4,355.7 L124.2,355.5 L127.0,355.3 L129.7,355.0 L132.5,354.6 L135.2,354.1 L137.9,353.5 L140.6,352.8 L143.3,352.0 L145.9,351.2 L148.5,350.2 L151.0,349.2 L153.6,348.1 L156.0,346.9 L158.5,345.6 L160.9,344.3 L163.2,342.8 L165.5,341.3 L167.8,339.7 L170.0,338.1 L172.1,336.4 L174.2,334.6 L176.2,332.7 L178.1,330.8 L180.0,328.8 L181.8,326.7 L183.5,324.6 L185.2,322.5 L186.8,320.3 L188.3,318.0 L189.7,315.7 L191.1,313.4 L192.4,311.0 L193.6,308.5 L194.7,306.1 L195.7,303.5 L196.7,301.0 L197.5,298.4 L198.3,295.9 L199.0,293.2 L199.6,290.6 L200.1,288.0 L200.6,285.3 L200.9,282.6 L201.1,279.9 L201.3,277.3 L201.4,274.6 L201.3,271.9 L201.2,269.2 L201.0,266.5 L200.7,263.9 L200.4,261.2 L199.9,258.6 L199.3,256.0 L198.7,253.4 L198.0,250.8 L197.2,248.2 L196.3,245.7 L195.3,243.2 L194.3,240.8 L193.1,238.4 L191.9,236.0 L190.6,233.7 L189.3,231.4 L187.8,229.2 L186.3,227.0 L184.7,224.9 L183.1,222.8 L181.4,220.8 L179.6,218.8 L177.7,216.9 L175.8,215.1 L173.9,213.3 L171.8,211.6 L169.8,210.0 L167.6,208.4 L165.4,207.0 L163.2,205.5 L161.0,204.2 L158.7,203.0 L156.3,201.8 L153.9,200.7 L151.5,199.6 L149.1,198.7 L146.6,197.8 L144.1,197.1 L141.5,196.4 L139.0,195.8 L136.4,195.3 L133.9,194.8 L131.3,194.5 L128.7,194.2 L126.1,194.0 L123.5,193.9 L120.9,193.9 L118.3,194.0 L115.7,194.2 L113.1,194.4 L110.5,194.8 L108.0,195.2 L105.4,195.7 L102.9,196.3 L100.4,197.0 L97.9,197.7 L95.5,198.6 L93.0,199.5 L90.7,200.5 L88.3,201.5 L86.0,202.7 L83.7,203.9 L81.5,205.2 L79.3,206.6 L77.2,208.0 L75.1,209.5 L73.1,211.1 L71.1,212.8 L69.2,214.5 L67.3,216.2 L65.6,218.1 L63.8,219.9 L62.1,221.9 L60.5,223.9 L59.0,225.9 L57.5,228.0 L56.1,230.1 L54.8,232.3 L53.6,234.5 L52.4,236.8 L51.3,239.1 L50.3,241.4 L49.3,243.8 L48.5,246.1 L47.7,248.5 L47.0,251.0 L46.4,253.4 L45.8,255.9 L45.4,258.4 L45.0,260.9 L44.7,263.4 L44.5,265.9 L44.4,268.4 L44.3,270.9 L44.4,273.5 L44.5,276.0 L44.7,278.5 L45.0,281.0 L45.4,283.4 L45.8,285.9 L46.3,288.3 L47.0,290.8 L47.7,293.2 L48.4,295.5 L49.3,297.9 L50.2,300.2 L51.2,302.5 L52.3,304.7 L53.4,306.9 L54.6,309.1 L55.9,311.2 L57.3,313.3 L58.7,315.3 L60.2,317.3 L61.8,319.2 L63.4,321.1 L65.0,322.9 L66.8,324.7 L68.6,326.4 L70.4,328.0 L72.3,329.6 L74.2,331.1 L76.2,332.5 L78.2,333.9 L80.3,335.2 L82.4,336.4 L84.6,337.6 L86.8,338.7 L89.0,339.7 L91.3,340.6 L93.5,341.5 L95.8,342.3 L98.2,343.0 L100.5,343.6 L102.9,344.2 L105.3,344.6 L107.7,345.0 L110.1,345.3 L112.5,345.6 L114.9,345.7 L117.3,345.8 L119.7,345.8 L122.1,345.7 L124.5,345.5 L126.9,345.3 L129.3,345.0 L131.7,344.6 L134.0,344.1 L136.4,343.5 L138.7,342.9 L141.0,342.2 L143.2,341.4 L145.4,340.5 L147.6,339.6 L149.8,338.6 L151.9,337.5 L154.0,336.4 L156.1,335.1 L158.1,333.9 L160.0,332.5 L161.9,331.1 L163.8,329.6 L165.6,328.1 L167.4,326.5 L169.1,324.9 L170.7,323.2 L172.3,321.4 L173.8,319.6 L175.3,317.8 L176.7,315.9 L178.0,314.0 L179.3,312.0 L180.5,310.0 L181.6,307.9 L182.7,305.8 L183.7,303.7 L184.6,301.5 L185.5,299.4 L186.2,297.1 L186.9,294.9 L187.5,292.7 L188.1,290.4 L188.6,288.1 L189.0,285.8 L189.3,283.5 L189.5,281.2 L189.7,278.9 L189.8,276.6 L189.8,274.3 L189.7,271.9 L189.6,269.6 L189.4,267.3 L189.1,265.0 L188.7,262.8 L188.2,260.5 L187.7,258.3 L187.1,256.0 L186.4,253.8 L185.7,251.7 L184.9,249.5 L184.0,247.4 L183.1,245.3 L182.0,243.3 L180.9,241.2 L179.8,239.3 L178.6,237.3 L177.3,235.4 L176.0,233.6 L174.6,231.8 L173.1,230.0 L171.6,228.3 L170.0,226.7 L168.4,225.1 L166.7,223.5 L165.0,222.1 L163.2,220.6 L161.4,219.3 L159.6,218.0 L157.7,216.7 L155.7,215.6 L153.8,214.5 L151.7,213.4 L149.7,212.5 L147.6,211.6 L145.5,210.7 L143.4,210.0 L141.3,209.3 L139.1,208.6 L136.9,208.1 L134.7,207.6 L132.5,207.2 L130.3,206.9 L128.1,206.7 L125.9,206.5 L123.6,206.4 L121.4,206.3 L119.2,206.4 L116.9,206.5 L114.7,206.7 L112.5,207.0 L110.3,207.3 L108.1,207.7 L105.9,208.2 L103.8,208.7 L101.7,209.4 L99.6,210.1 L97.5,210.8 L95.4,211.7 L93.4,212.5 L91.4,213.5 L89.5,214.5 L87.5,215.6 L85.7,216.8 L83.8,218.0 L82.0,219.3 L80.3,220.6 L78.6,222.0 L76.9,223.4 L75.3,224.9 L73.7,226.5 L72.2,228.1 L70.8,229.7 L69.4,231.4 L68.1,233.1 L66.8,234.9 L65.6,236.7 L64.4,238.5 L63.3,240.4 L62.3,242.3 L61.3,244.3 L60.4,246.3 L59.6,248.3 L58.9,250.3 L58.2,252.4 L57.5,254.4 L57.0,256.5 L56.5,258.6 L56.1,260.7 L55.7,262.9 L55.5,265.0 L55.3,267.1 L55.1,269.3 L55.1,271.4 L55.1,273.6 L55.2,275.7 L55.3,277.9 L55.5,280.0 L55.8,282.1 L56.2,284.2 L56.6,286.3 L57.1,288.4 L57.7,290.4 L58.3,292.5 L59.0,294.5 L59.8,296.4 L60.6,298.4 L61.5,300.3 L62.5,302.2 L63.5,304.1 L64.5,305.9 L65.7,307.7 L66.9,309.4 L68.1,311.1 L69.4,312.8 L70.8,314.4 L72.2,315.9 L73.6,317.4 L75.1,318.9 L76.7,320.3 L78.3,321.7 L79.9,323.0 L81.6,324.2 L83.3,325.4 L85.0,326.5 L86.8,327.6 L88.6,328.6 L90.5,329.5 L92.4,330.4 L94.3,331.2 L96.2,332.0 L98.1,332.7 L100.1,333.3 L102.1,333.9 L104.1,334.4 L106.1,334.8 L108.1,335.1 L110.2,335.4 L112.2,335.7 L114.3,335.8 L116.3,335.9 L118.3,335.9 L120.4,335.9 L122.4,335.7 L124.5,335.6 L126.5,335.3 L128.5,335.0 L130.5,334.6 L132.5,334.2 L134.4,333.6 L136.4,333.1 L138.3,332.4 L140.2,331.7 L142.0,330.9 L143.9,330.1 L145.7,329.2 L147.5,328.3 L149.2,327.3 L150.9,326.2 L152.6,325.1 L154.2,323.9 L155.8,322.7 L157.3,321.4 L158.8,320.1 L160.3,318.7 L161.7,317.3 L163.0,315.9 L164.4,314.3 L165.6,312.8 L166.8,311.2 L167.9,309.6 L169.0,307.9 L170.1,306.3 L171.0,304.5 L172.0,302.8 L172.8,301.0 L173.6,299.2 L174.3,297.4 L175.0,295.5 L175.6,293.6 L176.2,291.8 L176.6,289.9 L177.1,287.9 L177.4,286.0 L177.7,284.1 L177.9,282.1 L178.1,280.2 L178.2,278.2 L178.2,276.3 L178.2,274.3 L178.1,272.4 L177.9,270.5 L177.7,268.5 L177.4,266.6 L177.0,264.7 L176.6,262.8 L176.1,261.0 L175.6,259.1 L175.0,257.3 L174.3,255.5 L173.6,253.7 L172.8,251.9 L172.0,250.2 L171.1,248.5 L170.1,246.8 L169.1,245.2 L168.1,243.6 L167.0,242.0 L165.8,240.5 L164.6,239.0 L163.3,237.6 L162.0,236.2 L160.7,234.8 L159.3,233.5 L157.9,232.3 L156.4,231.1 L154.9,229.9 L153.4,228.8 L151.8,227.8 L150.2,226.8 L148.5,225.8 L146.9,224.9 L145.2,224.1 L143.4,223.3 L141.7,222.6 L139.9,222.0 L138.2,221.4 L136.4,220.8 L134.5,220.4 L132.7,219.9 L130.9,219.6 L129.0,219.3 L127.2,219.1 L125.3,218.9 L123.4,218.8 L121.6,218.8 L119.7,218.8 L117.8,218.9 L116.0,219.0 L114.1,219.2 L112.3,219.5 L110.5,219.8 L108.7,220.2 L106.9,220.6 L105.1,221.1 L103.3,221.7 L101.6,222.3 L99.9,223.0 L98.2,223.7 L96.5,224.5 L94.9,225.3 L93.3,226.2 L91.7,227.2 L90.1,228.2 L88.6,229.2 L87.2,230.3 L85.7,231.4 L84.3,232.6 L83.0,233.8 L81.7,235.1 L80.4,236.4 L79.2,237.8 L78.0,239.2 L76.9,240.6 L75.8,242.1 L74.8,243.6 L73.8,245.1 L72.9,246.6 L72.1,248.2 L71.2,249.8 L70.5,251.5 L69.8,253.1 L69.1,254.8 L68.5,256.5 L68.0,258.2 L67.5,259.9 L67.1,261.7 L66.7,263.4 L66.4,265.2 L66.2,267.0 L66.0,268.7 L65.9,270.5 L65.8,272.3 L65.8,274.1 L65.8,275.8 L65.9,277.6 L66.1,279.4 L66.3,281.1 L66.6,282.9 L67.0,284.6 L67.4,286.3 L67.8,288.0 L68.3,289.7 L68.9,291.4 L69.5,293.0 L70.2,294.6 L70.9,296.2 L71.6,297.8 L72.5,299.3 L73.3,300.8 L74.3,302.3 L75.2,303.8 L76.2,305.2 L77.3,306.6 L78.4,307.9 L79.6,309.2 L80.7,310.4 L82.0,311.7 L83.2,312.8 L84.5,314.0 L85.9,315.1 L87.2,316.1 L88.6,317.1 L90.1,318.0 L91.5,318.9 L93.0,319.8 L94.5,320.6 L96.1,321.3 L97.6,322.0 L99.2,322.6 L100.8,323.2 L102.4,323.7 L104.0,324.2 L105.7,324.6 L107.3,325.0 L109.0,325.3 L110.6,325.6 L112.3,325.8 L114.0,325.9 L115.6,326.0 L117.3,326.0 L119.0,326.0" stroke="#fde3a2" stroke-width="1" opacity="0.6"/>
<path d="M119.0,326.0 L149.0,326.0 L290.0,326.0" stroke="#e2ae48" stroke-width="5" opacity="0.85"/>
<path d="M119.0,326.0 L149.0,326.0 L290.0,326.0" stroke="#f8cc6a" stroke-width="3.2" opacity="0.85"/></g>
<circle cx="170.5" cy="181.0" r="1.2" fill="#d8589a"/>
<circle cx="92.6" cy="173.7" r="1.2" fill="#d8589a"/>
<circle cx="31.5" cy="308.7" r="1.2" fill="#d8589a"/>
<circle cx="51.5" cy="337.6" r="1.2" fill="#d8589a"/>
<circle cx="180.6" cy="342.8" r="1.2" fill="#d8589a"/>
<circle cx="70.3" cy="198.3" r="1.2" fill="#d8589a"/>
<circle cx="63.4" cy="203.8" r="1.2" fill="#d8589a"/>
<circle cx="51.5" cy="216.6" r="1.2" fill="#d8589a"/>
<circle cx="198.3" cy="295.9" r="1.2" fill="#d8589a"/>
<circle cx="200.4" cy="261.2" r="1.2" fill="#d8589a"/>
<circle cx="193.1" cy="238.4" r="1.2" fill="#d8589a"/>
<circle cx="45.8" cy="285.9" r="1.2" fill="#d8589a"/>
<circle cx="48.4" cy="295.5" r="1.2" fill="#d8589a"/>
<circle cx="170.7" cy="323.2" r="1.2" fill="#d8589a"/>
<circle cx="186.9" cy="294.9" r="1.2" fill="#d8589a"/>
<circle cx="72.2" cy="228.1" r="1.2" fill="#d8589a"/>
<circle cx="55.8" cy="282.1" r="1.2" fill="#d8589a"/>
<circle cx="57.1" cy="288.4" r="1.2" fill="#d8589a"/>
<circle cx="118.3" cy="335.9" r="1.2" fill="#d8589a"/>
<circle cx="177.9" cy="270.5" r="1.2" fill="#d8589a"/>
<circle cx="177.4" cy="266.6" r="1.2" fill="#d8589a"/>
<circle cx="134.5" cy="220.4" r="1.2" fill="#d8589a"/>
<circle cx="98.2" cy="223.7" r="1.2" fill="#d8589a"/>
<circle cx="69.5" cy="293.0" r="1.2" fill="#d8589a"/>
<circle cx="70.2" cy="294.6" r="1.2" fill="#d8589a"/>
<circle cx="105.7" cy="324.6" r="1.2" fill="#d8589a"/>
<circle cx="224.5" cy="300" r="1.3" fill="#d85a9a"/>
<circle cx="224.5" cy="340" r="1.3" fill="#d85a9a"/>
<circle cx="224.5" cy="380" r="1.3" fill="#d85a9a"/>
<circle cx="224.5" cy="420" r="1.3" fill="#d85a9a"/>
<circle cx="224.5" cy="460" r="1.3" fill="#d85a9a"/>
<circle cx="224.5" cy="500" r="1.3" fill="#d85a9a"/>
<defs><linearGradient id="teeh" x1="0" y1="0" x2="0" y2="1"><stop offset="0" stop-color="#6fd0f2"/><stop offset="0.5" stop-color="#a6e3f7"/><stop offset="1" stop-color="#7ad3f2"/></linearGradient>
<linearGradient id="teeend" x1="0" y1="0" x2="0" y2="1"><stop offset="0" stop-color="#2fa9dc"/><stop offset="0.3" stop-color="#49c0ec"/><stop offset="0.7" stop-color="#3fb8e8"/><stop offset="1" stop-color="#2a9fd4"/></linearGradient></defs>
<rect x="329.3" y="198" width="6.8" height="76" fill="#a9def3"/>
<rect x="333" y="198" width="1.2" height="76" fill="#7cc4e0"/>
<rect x="319.3" y="280" width="27" height="34" fill="#9ee0f7"/>
<rect x="322.5" y="271.4" width="20.9" height="40" fill="#35b8ea"/>
<rect x="325" y="281" width="16" height="28" fill="#4fc6f0"/>
<rect x="289" y="312.6" width="88" height="25.2" fill="url(#teeh)"/>
<rect x="273" y="315" width="37" height="22" fill="url(#teeend)"/>
<rect x="356.5" y="315" width="37.2" height="22" fill="url(#teeend)"/>
<rect x="273" y="317" width="8" height="19" fill="#1f96cc" opacity="0.6"/>
<rect x="385" y="317" width="8.7" height="19" fill="#1f96cc" opacity="0.6"/>
<rect x="262" y="323.5" width="22" height="4.5" fill="#f2b74a"/>
<rect x="284" y="323.5" width="110" height="5.2" fill="#5fb33a" opacity="0.9"/>
<circle cx="373.5" cy="327" r="2.2" fill="none" stroke="#cfeaf5" stroke-width="0.9"/>
<defs><linearGradient id="vblk" x1="0" y1="0" x2="1" y2="0"><stop offset="0" stop-color="#8a827f"/><stop offset="0.08" stop-color="#a59d99"/><stop offset="0.5" stop-color="#a9a19d"/><stop offset="0.92" stop-color="#9f9793"/><stop offset="1" stop-color="#857d7a"/></linearGradient>
<linearGradient id="vtop" x1="0" y1="0" x2="0" y2="1"><stop offset="0" stop-color="#cfc8c5"/><stop offset="1" stop-color="#8e8682"/></linearGradient>
<linearGradient id="vwin" x1="0" y1="0" x2="1" y2="0"><stop offset="0" stop-color="#b9b4b2"/><stop offset="0.45" stop-color="#d9d6d5"/><stop offset="1" stop-color="#c2bebc"/></linearGradient>
<radialGradient id="vsh" cx="0.5" cy="0.5" r="0.5"><stop offset="0" stop-color="#000" stop-opacity="0.25"/><stop offset="1" stop-color="#000" stop-opacity="0"/></radialGradient>
<linearGradient id="fit" x1="0" y1="0" x2="1" y2="0"><stop offset="0" stop-color="#7a7370"/><stop offset="0.4" stop-color="#d8d2cf"/><stop offset="1" stop-color="#6e6764"/></linearGradient>
<linearGradient id="n2g" x1="0" y1="0" x2="0" y2="1"><stop offset="0" stop-color="#a3a3a3"/><stop offset="1" stop-color="#d6d6d6"/></linearGradient></defs>
<ellipse cx="204" cy="712" rx="80" ry="12" fill="url(#vsh)"/>
<path d="M60,442.5 H168 Q178.8,442.5 178.8,453 V505" fill="none" stroke="#c8c8c8" stroke-width="5.5"/>
<path d="M60,440.5 H168 Q177,440.5 177,452 V505" fill="none" stroke="#a4a4a4" stroke-width="1.6"/>
<rect x="171.9" y="497" width="14" height="12" fill="url(#fit)"/>
<rect x="168.5" y="503" width="21" height="6" fill="url(#fit)"/>
<rect x="197.5" y="482.6" width="13" height="16" fill="url(#fit)"/>
<rect x="193.9" y="495" width="20.4" height="14" fill="url(#fit)"/>
<rect x="221" y="497" width="13" height="12" fill="url(#fit)"/>
<rect x="218" y="503" width="19.5" height="6" fill="url(#fit)"/>
<polygon points="144.5,517 152,507.7 256,507.7 263,517" fill="url(#vtop)"/>
<rect x="144.5" y="516.5" width="118.5" height="194" fill="url(#vblk)"/>
<rect x="144.5" y="545.5" width="118.5" height="2" fill="#6f6865" opacity="0.7"/>
<rect x="144.5" y="548" width="118.5" height="1" fill="#c8c2bf" opacity="0.8"/>
<path d="M166,518 H240.5 V586 Q240,592 237,598 L213,655 C209,672 199,672 195,655 L170,598 Q167,592 166,586 Z" fill="#6d6562"/>
<path d="M168.5,520.5 H238 V586 Q237.5,591 235,597 L211.5,653 C208,668 200,668 196.5,653 L172,597 Q169,591 168.5,586 Z" fill="url(#vwin)"/>
<rect x="168.5" y="520.5" width="69.5" height="3.5" fill="#8f8987" opacity="0.55"/>
<defs><filter id="pblur" x="-50%" y="-50%" width="200%" height="200%"><feGaussianBlur stdDeviation="0.9"/></filter></defs>
<g fill="#f28db0" opacity="0.8" filter="url(#pblur)">
<circle cx="198.3" cy="598.3" r="3.2"/>
<circle cx="195.7" cy="638.7" r="3.8"/>
<circle cx="197.7" cy="641.8" r="3.9"/>
<circle cx="189.0" cy="613.7" r="3.6"/>
<circle cx="202.2" cy="622.3" r="4.2"/>
<circle cx="191.3" cy="567.7" r="3.2"/>
<circle cx="219.8" cy="602.6" r="3.9"/>
<circle cx="201.0" cy="629.4" r="4.2"/>
<circle cx="193.8" cy="562.2" r="4.1"/>
<circle cx="201.6" cy="624.6" r="3.1"/>
<circle cx="190.0" cy="578.7" r="3.4"/>
<circle cx="197.6" cy="633.0" r="4.4"/>
<circle cx="196.8" cy="639.9" r="3.6"/>
<circle cx="184.7" cy="601.2" r="3.7"/>
<circle cx="198.3" cy="642.6" r="4.0"/>
<circle cx="207.2" cy="564.1" r="4.4"/>
<circle cx="180.7" cy="572.3" r="3.1"/>
<circle cx="185.9" cy="606.0" r="3.1"/>
<circle cx="219.9" cy="601.7" r="3.7"/>
<circle cx="209.8" cy="591.8" r="3.1"/>
<circle cx="192.4" cy="610.0" r="4.0"/>
<circle cx="199.0" cy="647.8" r="3.9"/>
<circle cx="192.2" cy="612.6" r="3.4"/>
<circle cx="207.4" cy="651.5" r="3.2"/>
<circle cx="215.2" cy="622.5" r="3.4"/>
<circle cx="188.9" cy="613.1" r="3.6"/>
<circle cx="206.0" cy="619.4" r="4.2"/>
<circle cx="196.4" cy="560.7" r="4.4"/>
<circle cx="201.9" cy="610.4" r="3.6"/>
<circle cx="204.1" cy="650.6" r="3.0"/>
<circle cx="200.1" cy="631.9" r="3.7"/>
<circle cx="200.9" cy="573.3" r="3.5"/>
<circle cx="209.5" cy="560.9" r="3.2"/>
<circle cx="193.5" cy="630.4" r="4.2"/>
<circle cx="203.4" cy="632.8" r="4.1"/>
<circle cx="214.5" cy="576.8" r="3.7"/>
<circle cx="225.0" cy="575.1" r="3.6"/>
<circle cx="220.2" cy="589.3" r="3.6"/>
<circle cx="194.2" cy="618.8" r="4.3"/>
<circle cx="182.6" cy="577.9" r="4.6"/>
<circle cx="224.2" cy="569.3" r="4.6"/>
<circle cx="187.8" cy="612.7" r="3.1"/>
</g>
<path d="M168.5,520.5 H238 V586 Q237.5,591 235,597 L211.5,653 C208,668 200,668 196.5,653 L172,597 Q169,591 168.5,586 Z" fill="#ffffff" opacity="0.12"/>
<rect x="146" y="517" width="3" height="193" fill="#c4bcb8" opacity="0.6"/>
<defs>
<radialGradient id="bshadow" cx="0.5" cy="0.5" r="0.5"><stop offset="0" stop-color="#000" stop-opacity="0.22"/><stop offset="1" stop-color="#000" stop-opacity="0"/></radialGradient>
<linearGradient id="backrim" x1="0" y1="0" x2="0" y2="1"><stop offset="0" stop-color="#a4a6a8"/><stop offset="0.12" stop-color="#c0c2c4"/><stop offset="1" stop-color="#c4c6c8"/></linearGradient>
<linearGradient id="basinH" x1="0" y1="0" x2="1" y2="0"><stop offset="0" stop-color="#a2a4a6"/><stop offset="0.15" stop-color="#c0c2c4"/><stop offset="0.5" stop-color="#d3d5d7"/><stop offset="0.85" stop-color="#cccecf"/><stop offset="1" stop-color="#bec0c2"/></linearGradient><radialGradient id="blc" cx="480" cy="690" r="150" gradientUnits="userSpaceOnUse"><stop offset="0" stop-color="#000" stop-opacity="0.28"/><stop offset="1" stop-color="#000" stop-opacity="0"/></radialGradient>
<linearGradient id="basinV" x1="0" y1="0" x2="0" y2="1"><stop offset="0" stop-color="#fff" stop-opacity="0"/><stop offset="0.75" stop-color="#fff" stop-opacity="0.15"/><stop offset="1" stop-color="#000" stop-opacity="0.12"/></linearGradient>
<linearGradient id="wallL" x1="0" y1="0" x2="1" y2="0"><stop offset="0" stop-color="#cfd0d1"/><stop offset="0.18" stop-color="#f1f1f1"/><stop offset="0.75" stop-color="#f6f6f6"/><stop offset="1" stop-color="#e2e2e2"/></linearGradient>
<linearGradient id="wallR" x1="0" y1="0" x2="1" y2="0"><stop offset="0" stop-color="#dedede"/><stop offset="0.4" stop-color="#f2f2f2"/><stop offset="0.85" stop-color="#e6e6e6"/><stop offset="1" stop-color="#bdbdbd"/></linearGradient>
<linearGradient id="lip" x1="0" y1="0" x2="0" y2="1"><stop offset="0" stop-color="#f4f4f4"/><stop offset="0.85" stop-color="#ededed"/><stop offset="0.95" stop-color="#d4d4d4"/><stop offset="1" stop-color="#b0b0b0"/></linearGradient>
<linearGradient id="foot" x1="0" y1="0" x2="1" y2="0"><stop offset="0" stop-color="#6d6e70"/><stop offset="0.5" stop-color="#a3a4a6"/><stop offset="1" stop-color="#7a7b7d"/></linearGradient>
<linearGradient id="abovew" x1="0" y1="0" x2="0" y2="1"><stop offset="0" stop-color="#a9acae"/><stop offset="1" stop-color="#b4b7b9"/></linearGradient>
</defs>
<ellipse cx="630" cy="718" rx="235" ry="22" fill="url(#bshadow)"/>
<path d="M468,700 L515,700 L511,722 Q509,725 505,725 L478,725 Q474,725 473,722 Z" fill="url(#foot)"/>
<path d="M741,700 L788,700 L783,722 Q782,725 778,725 L751,725 Q747,725 746,722 Z" fill="url(#foot)"/>
<path d="M434,456 Q434,448.5 442,448.5 L825,448.5 Q833,448.5 833,456 L833,480 L434,480 Z" fill="url(#backrim)"/>
<path d="M426.4,482 L472.3,482 L472.3,689 L793.6,689 L793.6,482 L834.4,482 L834.4,682 Q834.4,704.5 812,704.5 L449,704.5 Q426.4,704.5 426.4,682 Z" fill="url(#lip)"/>
<path d="M434,474.8 L472.3,474.8 L472.3,689 L426.4,689 L426.4,482 Q426.4,474.8 434,474.8 Z" fill="url(#wallL)"/>
<path d="M793.6,474.8 L827,474.8 Q834.4,474.8 834.4,482 L834.4,689 L793.6,689 Z" fill="url(#wallR)"/>
<path d="M472.3,474.8 L793.6,474.8 L793.6,674 Q793.6,689 778.6,689 L487.3,689 Q472.3,689 472.3,674 Z" fill="url(#basinH)"/>
<path d="M472.3,474.8 L793.6,474.8 L793.6,674 Q793.6,689 778.6,689 L487.3,689 Q472.3,689 472.3,674 Z" fill="url(#basinV)"/>
<path d="M472.3,474.8 L793.6,474.8 L793.6,674 Q793.6,689 778.6,689 L487.3,689 Q472.3,689 472.3,674 Z" fill="url(#blc)"/>
<rect x="472.3" y="474.8" width="321.3" height="38.5" fill="url(#abovew)" opacity="0.9"/>
<path d="M480,672 L786,672" stroke="#dcdcdc" stroke-width="2" opacity="0.6"/>
<defs><clipPath id="water"><rect x="434" y="449" width="399" height="240"/></clipPath>
<clipPath id="air"><path d="M0,0 H1730 V449 H0 Z M0,689 H1730 V796 H0 Z M0,0 H434 V796 H0 Z M833,0 H1730 V796 H833Z"/></clipPath></defs>
<g clip-path="url(#air)"><path d="M380.0,327.8 C382.3,327.8 387.7,326.6 394.0,327.8 C400.3,329.0 409.6,329.7 417.7,335.1 C425.8,340.5 435.3,349.0 442.8,360.3 C450.3,371.6 456.6,389.2 462.9,403.0 C469.2,416.8 475.5,429.8 480.5,443.2 C485.5,456.6 489.4,471.5 493.0,483.4 C496.6,495.3 498.2,504.3 502.2,514.8 C506.2,525.3 511.4,536.3 517.0,546.2 C522.5,556.1 528.4,565.4 535.5,574.0 C542.6,582.6 551.5,591.8 559.5,598.0 C567.5,604.2 575.3,607.8 583.6,611.0 C591.9,614.2 601.2,616.1 609.5,617.5 C617.8,618.9 625.8,619.5 633.5,619.3 C641.2,619.1 647.4,619.1 655.7,616.5 C664.0,613.9 674.9,608.5 683.5,603.6 C692.1,598.7 700.1,594.0 707.5,586.9 C714.9,579.8 721.7,569.9 727.9,561.0 C734.1,552.1 739.6,541.6 744.5,533.3 C749.4,525.0 752.9,519.9 757.5,511.1 C762.1,502.3 767.2,491.3 772.4,480.5 C777.5,469.7 783.7,458.0 788.4,446.3 C793.1,434.6 796.8,421.2 800.5,410.2 C804.2,399.1 806.8,389.6 810.6,380.0 C814.5,370.4 818.7,361.5 823.6,352.3 C828.5,343.1 832.4,333.4 840.2,324.6 C848.0,315.9 858.6,307.2 870.6,299.8 C882.6,292.4 897.8,285.2 912.0,280.4 C926.2,275.6 948.7,272.6 956.0,271.0" fill="none" stroke="#9fdff6" stroke-width="11.5" stroke-linecap="butt"/>
<path d="M380.0,327.8 C382.3,327.8 387.7,326.6 394.0,327.8 C400.3,329.0 409.6,329.7 417.7,335.1 C425.8,340.5 435.3,349.0 442.8,360.3 C450.3,371.6 456.6,389.2 462.9,403.0 C469.2,416.8 475.5,429.8 480.5,443.2 C485.5,456.6 489.4,471.5 493.0,483.4 C496.6,495.3 498.2,504.3 502.2,514.8 C506.2,525.3 511.4,536.3 517.0,546.2 C522.5,556.1 528.4,565.4 535.5,574.0 C542.6,582.6 551.5,591.8 559.5,598.0 C567.5,604.2 575.3,607.8 583.6,611.0 C591.9,614.2 601.2,616.1 609.5,617.5 C617.8,618.9 625.8,619.5 633.5,619.3 C641.2,619.1 647.4,619.1 655.7,616.5 C664.0,613.9 674.9,608.5 683.5,603.6 C692.1,598.7 700.1,594.0 707.5,586.9 C714.9,579.8 721.7,569.9 727.9,561.0 C734.1,552.1 739.6,541.6 744.5,533.3 C749.4,525.0 752.9,519.9 757.5,511.1 C762.1,502.3 767.2,491.3 772.4,480.5 C777.5,469.7 783.7,458.0 788.4,446.3 C793.1,434.6 796.8,421.2 800.5,410.2 C804.2,399.1 806.8,389.6 810.6,380.0 C814.5,370.4 818.7,361.5 823.6,352.3 C828.5,343.1 832.4,333.4 840.2,324.6 C848.0,315.9 858.6,307.2 870.6,299.8 C882.6,292.4 897.8,285.2 912.0,280.4 C926.2,275.6 948.7,272.6 956.0,271.0" fill="none" stroke="#6fcdf1" stroke-width="7"/>
<path d="M380.0,327.8 C382.3,327.8 387.7,326.6 394.0,327.8 C400.3,329.0 409.6,329.7 417.7,335.1 C425.8,340.5 435.3,349.0 442.8,360.3 C450.3,371.6 456.6,389.2 462.9,403.0 C469.2,416.8 475.5,429.8 480.5,443.2 C485.5,456.6 489.4,471.5 493.0,483.4 C496.6,495.3 498.2,504.3 502.2,514.8 C506.2,525.3 511.4,536.3 517.0,546.2 C522.5,556.1 528.4,565.4 535.5,574.0 C542.6,582.6 555.5,594.0 559.5,598.0" fill="none" stroke="#9cc23e" stroke-width="5"/>
<path d="M380.0,327.8 C382.3,327.8 387.7,326.6 394.0,327.8 C400.3,329.0 409.6,329.7 417.7,335.1 C425.8,340.5 435.3,349.0 442.8,360.3 C450.3,371.6 456.6,389.2 462.9,403.0 C469.2,416.8 475.5,429.8 480.5,443.2 C485.5,456.6 489.4,471.5 493.0,483.4 C496.6,495.3 498.2,504.3 502.2,514.8 C506.2,525.3 511.4,536.3 517.0,546.2 C522.5,556.1 528.4,565.4 535.5,574.0 C542.6,582.6 555.5,594.0 559.5,598.0" fill="none" stroke="#c8e070" stroke-width="1.2" opacity="0.8"/></g>
<g clip-path="url(#water)"><path d="M380.0,327.8 C382.3,327.8 387.7,326.6 394.0,327.8 C400.3,329.0 409.6,329.7 417.7,335.1 C425.8,340.5 435.3,349.0 442.8,360.3 C450.3,371.6 456.6,389.2 462.9,403.0 C469.2,416.8 475.5,429.8 480.5,443.2 C485.5,456.6 489.4,471.5 493.0,483.4 C496.6,495.3 498.2,504.3 502.2,514.8 C506.2,525.3 511.4,536.3 517.0,546.2 C522.5,556.1 528.4,565.4 535.5,574.0 C542.6,582.6 551.5,591.8 559.5,598.0 C567.5,604.2 575.3,607.8 583.6,611.0 C591.9,614.2 601.2,616.1 609.5,617.5 C617.8,618.9 625.8,619.5 633.5,619.3 C641.2,619.1 647.4,619.1 655.7,616.5 C664.0,613.9 674.9,608.5 683.5,603.6 C692.1,598.7 700.1,594.0 707.5,586.9 C714.9,579.8 721.7,569.9 727.9,561.0 C734.1,552.1 739.6,541.6 744.5,533.3 C749.4,525.0 752.9,519.9 757.5,511.1 C762.1,502.3 767.2,491.3 772.4,480.5 C777.5,469.7 783.7,458.0 788.4,446.3 C793.1,434.6 796.8,421.2 800.5,410.2 C804.2,399.1 806.8,389.6 810.6,380.0 C814.5,370.4 818.7,361.5 823.6,352.3 C828.5,343.1 832.4,333.4 840.2,324.6 C848.0,315.9 858.6,307.2 870.6,299.8 C882.6,292.4 897.8,285.2 912.0,280.4 C926.2,275.6 948.7,272.6 956.0,271.0" fill="none" stroke="#55b9e2" stroke-width="12"/>
<path d="M380.0,327.8 C382.3,327.8 387.7,326.6 394.0,327.8 C400.3,329.0 409.6,329.7 417.7,335.1 C425.8,340.5 435.3,349.0 442.8,360.3 C450.3,371.6 456.6,389.2 462.9,403.0 C469.2,416.8 475.5,429.8 480.5,443.2 C485.5,456.6 489.4,471.5 493.0,483.4 C496.6,495.3 498.2,504.3 502.2,514.8 C506.2,525.3 511.4,536.3 517.0,546.2 C522.5,556.1 528.4,565.4 535.5,574.0 C542.6,582.6 551.5,591.8 559.5,598.0 C567.5,604.2 575.3,607.8 583.6,611.0 C591.9,614.2 601.2,616.1 609.5,617.5 C617.8,618.9 625.8,619.5 633.5,619.3 C641.2,619.1 647.4,619.1 655.7,616.5 C664.0,613.9 674.9,608.5 683.5,603.6 C692.1,598.7 700.1,594.0 707.5,586.9 C714.9,579.8 721.7,569.9 727.9,561.0 C734.1,552.1 739.6,541.6 744.5,533.3 C749.4,525.0 752.9,519.9 757.5,511.1 C762.1,502.3 767.2,491.3 772.4,480.5 C777.5,469.7 783.7,458.0 788.4,446.3 C793.1,434.6 796.8,421.2 800.5,410.2 C804.2,399.1 806.8,389.6 810.6,380.0 C814.5,370.4 818.7,361.5 823.6,352.3 C828.5,343.1 832.4,333.4 840.2,324.6 C848.0,315.9 858.6,307.2 870.6,299.8 C882.6,292.4 897.8,285.2 912.0,280.4 C926.2,275.6 948.7,272.6 956.0,271.0" fill="none" stroke="#2c9fd8" stroke-width="8.5"/>
<path d="M380.0,327.8 C382.3,327.8 387.7,326.6 394.0,327.8 C400.3,329.0 409.6,329.7 417.7,335.1 C425.8,340.5 435.3,349.0 442.8,360.3 C450.3,371.6 456.6,389.2 462.9,403.0 C469.2,416.8 475.5,429.8 480.5,443.2 C485.5,456.6 489.4,471.5 493.0,483.4 C496.6,495.3 498.2,504.3 502.2,514.8 C506.2,525.3 511.4,536.3 517.0,546.2 C522.5,556.1 528.4,565.4 535.5,574.0 C542.6,582.6 555.5,594.0 559.5,598.0" fill="none" stroke="#3f7d18" stroke-width="4.5"/></g>
<ellipse cx="612.3" cy="615.6" rx="9" ry="3.6" transform="rotate(10,612.3,615.6)" fill="#e8709a" opacity="0.8"/>
<ellipse cx="698.3" cy="596.2" rx="12" ry="3.6" transform="rotate(-35,698.3,596.2)" fill="#e8709a" opacity="0.8"/>
<ellipse cx="766" cy="494" rx="13" ry="3.6" transform="rotate(-65,766,494)" fill="#e8709a" opacity="0.8"/>
<circle cx="574.3" cy="605.4" r="2.3" fill="none" stroke="#d8eef8" stroke-width="1"/>
<circle cx="849.0" cy="324.2" r="0.6" fill="#c8609a" opacity="0.7"/>
<circle cx="936.8" cy="276.3" r="0.6" fill="#c8609a" opacity="0.7"/>
<circle cx="832.0" cy="343.5" r="0.6" fill="#c8609a" opacity="0.7"/>
<circle cx="864.3" cy="308.9" r="0.6" fill="#c8609a" opacity="0.7"/>
<circle cx="849.7" cy="322.2" r="0.6" fill="#c8609a" opacity="0.7"/>
<circle cx="826.8" cy="349.4" r="0.6" fill="#c8609a" opacity="0.7"/>
<circle cx="944.2" cy="272.7" r="0.6" fill="#c8609a" opacity="0.7"/>
<circle cx="850.6" cy="322.5" r="0.6" fill="#c8609a" opacity="0.7"/>
<circle cx="837.2" cy="340.1" r="0.6" fill="#c8609a" opacity="0.7"/>
<circle cx="827.8" cy="345.3" r="0.6" fill="#c8609a" opacity="0.7"/>
<circle cx="823.1" cy="351.5" r="0.6" fill="#c8609a" opacity="0.7"/>
<circle cx="829.6" cy="345.4" r="0.6" fill="#c8609a" opacity="0.7"/>
<circle cx="853.7" cy="315.2" r="0.6" fill="#c8609a" opacity="0.7"/>
<circle cx="826.9" cy="345.5" r="0.6" fill="#c8609a" opacity="0.7"/>
<circle cx="832.8" cy="342.5" r="0.6" fill="#c8609a" opacity="0.7"/>
<circle cx="843.8" cy="331.4" r="0.6" fill="#c8609a" opacity="0.7"/>
<circle cx="836.6" cy="337.1" r="0.6" fill="#c8609a" opacity="0.7"/>
<circle cx="858.1" cy="313.0" r="0.6" fill="#c8609a" opacity="0.7"/>
<circle cx="845.8" cy="328.6" r="0.6" fill="#c8609a" opacity="0.7"/>
<circle cx="853.3" cy="319.7" r="0.6" fill="#c8609a" opacity="0.7"/>
<circle cx="825.4" cy="351.9" r="0.6" fill="#c8609a" opacity="0.7"/>
<circle cx="843.2" cy="329.2" r="0.6" fill="#c8609a" opacity="0.7"/>
<circle cx="945.3" cy="272.1" r="0.6" fill="#c8609a" opacity="0.7"/>
<circle cx="825.7" cy="350.5" r="0.6" fill="#c8609a" opacity="0.7"/>
<circle cx="828.9" cy="347.9" r="0.6" fill="#c8609a" opacity="0.7"/>
<circle cx="836.7" cy="341.1" r="0.6" fill="#c8609a" opacity="0.7"/>
<circle cx="860.0" cy="315.1" r="0.6" fill="#c8609a" opacity="0.7"/>
<circle cx="945.0" cy="272.7" r="0.6" fill="#c8609a" opacity="0.7"/>
<circle cx="931.4" cy="276.2" r="0.6" fill="#c8609a" opacity="0.7"/>
<circle cx="852.5" cy="317.1" r="0.6" fill="#c8609a" opacity="0.7"/>
<circle cx="847.1" cy="323.2" r="0.6" fill="#c8609a" opacity="0.7"/>
<circle cx="865.5" cy="308.8" r="0.6" fill="#c8609a" opacity="0.7"/>
<circle cx="933.8" cy="275.9" r="0.6" fill="#c8609a" opacity="0.7"/>
<circle cx="912.3" cy="279.9" r="0.6" fill="#c8609a" opacity="0.7"/>
<circle cx="946.8" cy="270.0" r="0.6" fill="#c8609a" opacity="0.7"/>
<circle cx="826.4" cy="351.9" r="0.6" fill="#c8609a" opacity="0.7"/>
<circle cx="832.7" cy="343.0" r="0.6" fill="#c8609a" opacity="0.7"/>
<circle cx="940.1" cy="275.8" r="0.6" fill="#c8609a" opacity="0.7"/>
<circle cx="940.7" cy="270.9" r="0.6" fill="#c8609a" opacity="0.7"/>
<circle cx="912.2" cy="280.9" r="0.6" fill="#c8609a" opacity="0.7"/>
<circle cx="836.8" cy="336.1" r="0.6" fill="#c8609a" opacity="0.7"/>
<circle cx="843.4" cy="326.8" r="0.6" fill="#c8609a" opacity="0.7"/>
<circle cx="830.6" cy="342.3" r="0.6" fill="#c8609a" opacity="0.7"/>
<circle cx="916.9" cy="279.4" r="0.6" fill="#c8609a" opacity="0.7"/>
<circle cx="842.0" cy="328.2" r="0.6" fill="#c8609a" opacity="0.7"/>
<circle cx="826.4" cy="347.3" r="0.6" fill="#c8609a" opacity="0.7"/>
<circle cx="923.6" cy="275.1" r="0.6" fill="#c8609a" opacity="0.7"/>
<circle cx="841.7" cy="332.2" r="0.6" fill="#c8609a" opacity="0.7"/>
<circle cx="831.7" cy="344.1" r="0.6" fill="#c8609a" opacity="0.7"/>
<circle cx="840.1" cy="336.7" r="0.6" fill="#c8609a" opacity="0.7"/>
<circle cx="865.3" cy="304.8" r="0.6" fill="#c8609a" opacity="0.7"/>
<circle cx="921.0" cy="278.2" r="0.6" fill="#c8609a" opacity="0.7"/>
<circle cx="858.5" cy="312.9" r="0.6" fill="#c8609a" opacity="0.7"/>
<circle cx="848.8" cy="324.8" r="0.6" fill="#c8609a" opacity="0.7"/>
<circle cx="928.3" cy="275.3" r="0.6" fill="#c8609a" opacity="0.7"/>
<circle cx="939.7" cy="274.2" r="0.6" fill="#c8609a" opacity="0.7"/>
<circle cx="835.3" cy="342.7" r="0.6" fill="#c8609a" opacity="0.7"/>
<circle cx="840.8" cy="332.7" r="0.6" fill="#c8609a" opacity="0.7"/>
<circle cx="828.4" cy="343.1" r="0.6" fill="#c8609a" opacity="0.7"/>
<circle cx="838.5" cy="333.8" r="0.6" fill="#c8609a" opacity="0.7"/>
<defs><clipPath id="iceclip"><rect x="472.3" y="470" width="321.3" height="43"/></clipPath>
<linearGradient id="ig1" x1="0" y1="0" x2="1" y2="1"><stop offset="0" stop-color="#ffffff"/><stop offset="0.5" stop-color="#e4e7e9"/><stop offset="1" stop-color="#a9aeb1"/></linearGradient>
<linearGradient id="ig2" x1="1" y1="0" x2="0" y2="1"><stop offset="0" stop-color="#fbfcfc"/><stop offset="0.6" stop-color="#cfd3d6"/><stop offset="1" stop-color="#9ca1a4"/></linearGradient>
<linearGradient id="ig3" x1="0" y1="1" x2="1" y2="0"><stop offset="0" stop-color="#b6babd"/><stop offset="0.5" stop-color="#eef0f1"/><stop offset="1" stop-color="#ffffff"/></linearGradient>
</defs><g clip-path="url(#iceclip)">
<rect x="472.3" y="485.5" width="321.3" height="1.5" fill="#c9cbcd" opacity="0.8"/>
<path d="M474,513 L474,503 Q520,497 560,505 Q600,499 640,505 Q690,498 730,504 Q765,499 792,502 L792,513 Z" fill="#dfe2e4" opacity="0.7"/>
<polygon points="474.7,508.6 470.9,501.1 473.5,493.8 480.7,493.9 489.9,496.6 488.4,503.1 484.1,508.2" fill="url(#ig1)" fill-opacity="0.88" stroke="#f7f8f9" stroke-width="0.7" stroke-opacity="0.9"/>
<line x1="474.7" y1="508.6" x2="480.7" y2="493.9" stroke="#ffffff" stroke-width="0.9" opacity="0.8"/>
<polygon points="501.4,489.2 506.3,499.9 499.1,506.4 486.4,499.2 490.4,488.8" fill="url(#ig3)" fill-opacity="0.88" stroke="#f7f8f9" stroke-width="0.7" stroke-opacity="0.9"/>
<line x1="501.4" y1="489.2" x2="499.1" y2="506.4" stroke="#ffffff" stroke-width="0.9" opacity="0.8"/>
<polygon points="505.4,496.8 508.8,493.6 518.5,496.6 517.8,501.7 515.4,506.0 508.3,505.2 504.9,502.8" fill="url(#ig3)" fill-opacity="0.88" stroke="#f7f8f9" stroke-width="0.7" stroke-opacity="0.9"/>
<line x1="515.4" y1="506.0" x2="504.9" y2="502.8" stroke="#ffffff" stroke-width="0.9" opacity="0.8"/>
<polygon points="531.6,501.0 529.8,506.9 518.3,506.5 514.4,503.2 514.1,493.8 522.9,488.7 530.6,492.9" fill="url(#ig2)" fill-opacity="0.88" stroke="#f7f8f9" stroke-width="0.7" stroke-opacity="0.9"/>
<line x1="518.3" y1="506.5" x2="522.9" y2="488.7" stroke="#ffffff" stroke-width="0.9" opacity="0.8"/>
<polygon points="530.4,501.1 536.2,490.9 549.3,491.0 550.4,505.8 541.0,510.6" fill="url(#ig3)" fill-opacity="0.88" stroke="#f7f8f9" stroke-width="0.7" stroke-opacity="0.9"/>
<line x1="530.4" y1="501.1" x2="549.3" y2="491.0" stroke="#ffffff" stroke-width="0.9" opacity="0.8"/>
<polygon points="563.8,513.8 555.1,511.8 548.4,509.0 549.2,497.9 556.3,492.3 567.2,494.6 570.8,503.5" fill="url(#ig1)" fill-opacity="0.88" stroke="#f7f8f9" stroke-width="0.7" stroke-opacity="0.9"/>
<line x1="548.4" y1="509.0" x2="567.2" y2="494.6" stroke="#ffffff" stroke-width="0.9" opacity="0.8"/>
<polygon points="582.0,493.1 584.6,496.8 587.6,503.0 580.9,507.8 573.7,507.8 569.2,502.4 573.2,492.6" fill="url(#ig2)" fill-opacity="0.88" stroke="#f7f8f9" stroke-width="0.7" stroke-opacity="0.9"/>
<line x1="573.2" y1="492.6" x2="584.6" y2="496.8" stroke="#ffffff" stroke-width="0.9" opacity="0.8"/>
<polygon points="584.7,498.9 595.9,493.9 602.5,499.0 595.4,511.5 583.7,507.5" fill="url(#ig3)" fill-opacity="0.88" stroke="#f7f8f9" stroke-width="0.7" stroke-opacity="0.9"/>
<line x1="595.9" y1="493.9" x2="583.7" y2="507.5" stroke="#ffffff" stroke-width="0.9" opacity="0.8"/>
<polygon points="619.9,494.4 616.9,502.4 608.8,507.0 601.9,501.1 602.3,492.6 611.9,489.5" fill="url(#ig1)" fill-opacity="0.88" stroke="#f7f8f9" stroke-width="0.7" stroke-opacity="0.9"/>
<line x1="611.9" y1="489.5" x2="608.8" y2="507.0" stroke="#ffffff" stroke-width="0.9" opacity="0.8"/>
<polygon points="629.0,498.1 630.0,503.9 626.1,507.6 619.3,505.8 614.5,501.1 617.8,496.6 624.4,494.7" fill="url(#ig2)" fill-opacity="0.88" stroke="#f7f8f9" stroke-width="0.7" stroke-opacity="0.9"/>
<line x1="626.1" y1="507.6" x2="614.5" y2="501.1" stroke="#ffffff" stroke-width="0.9" opacity="0.8"/>
<polygon points="639.6,508.2 631.2,507.1 627.0,502.7 632.9,496.7 639.5,495.9 643.4,501.8" fill="url(#ig3)" fill-opacity="0.88" stroke="#f7f8f9" stroke-width="0.7" stroke-opacity="0.9"/>
<line x1="639.6" y1="508.2" x2="627.0" y2="502.7" stroke="#ffffff" stroke-width="0.9" opacity="0.8"/>
<polygon points="660.4,500.9 653.6,505.4 645.9,507.9 640.7,502.9 641.1,494.2 647.7,489.2 656.2,490.6" fill="url(#ig3)" fill-opacity="0.88" stroke="#f7f8f9" stroke-width="0.7" stroke-opacity="0.9"/>
<line x1="645.9" y1="507.9" x2="641.1" y2="494.2" stroke="#ffffff" stroke-width="0.9" opacity="0.8"/>
<polygon points="665.0,493.5 671.7,499.4 670.7,507.2 662.2,511.7 657.0,510.0 654.7,500.1 655.5,494.4" fill="url(#ig3)" fill-opacity="0.88" stroke="#f7f8f9" stroke-width="0.7" stroke-opacity="0.9"/>
<line x1="655.5" y1="494.4" x2="670.7" y2="507.2" stroke="#ffffff" stroke-width="0.9" opacity="0.8"/>
<polygon points="686.7,490.9 692.1,499.2 688.9,507.7 678.0,511.5 672.3,502.3 675.6,494.2" fill="url(#ig1)" fill-opacity="0.88" stroke="#f7f8f9" stroke-width="0.7" stroke-opacity="0.9"/>
<line x1="672.3" y1="502.3" x2="686.7" y2="490.9" stroke="#ffffff" stroke-width="0.9" opacity="0.8"/>
<polygon points="687.7,495.2 696.1,488.9 706.0,493.5 703.9,502.8 692.8,505.2" fill="url(#ig2)" fill-opacity="0.88" stroke="#f7f8f9" stroke-width="0.7" stroke-opacity="0.9"/>
<line x1="687.7" y1="495.2" x2="706.0" y2="493.5" stroke="#ffffff" stroke-width="0.9" opacity="0.8"/>
<polygon points="717.0,490.1 721.3,497.3 720.7,506.9 716.1,509.9 703.7,507.7 704.4,498.6 707.6,492.2" fill="url(#ig3)" fill-opacity="0.88" stroke="#f7f8f9" stroke-width="0.7" stroke-opacity="0.9"/>
<line x1="704.4" y1="498.6" x2="717.0" y2="490.1" stroke="#ffffff" stroke-width="0.9" opacity="0.8"/>
<polygon points="731.3,509.9 724.6,508.0 721.9,502.9 723.1,493.8 734.2,493.0 738.7,499.4 740.4,504.5" fill="url(#ig3)" fill-opacity="0.88" stroke="#f7f8f9" stroke-width="0.7" stroke-opacity="0.9"/>
<line x1="724.6" y1="508.0" x2="734.2" y2="493.0" stroke="#ffffff" stroke-width="0.9" opacity="0.8"/>
<polygon points="737.5,505.1 732.6,499.8 736.3,492.8 741.5,491.3 748.4,495.9 748.5,500.2 744.7,505.9" fill="url(#ig3)" fill-opacity="0.88" stroke="#f7f8f9" stroke-width="0.7" stroke-opacity="0.9"/>
<line x1="748.5" y1="500.2" x2="732.6" y2="499.8" stroke="#ffffff" stroke-width="0.9" opacity="0.8"/>
<polygon points="760.5,504.0 752.4,504.8 747.7,497.7 752.8,492.3 763.6,496.5" fill="url(#ig3)" fill-opacity="0.88" stroke="#f7f8f9" stroke-width="0.7" stroke-opacity="0.9"/>
<line x1="763.6" y1="496.5" x2="747.7" y2="497.7" stroke="#ffffff" stroke-width="0.9" opacity="0.8"/>
<polygon points="759.3,495.1 767.3,494.0 777.0,501.8 774.7,506.4 764.1,511.7 756.2,504.9" fill="url(#ig1)" fill-opacity="0.88" stroke="#f7f8f9" stroke-width="0.7" stroke-opacity="0.9"/>
<line x1="774.7" y1="506.4" x2="756.2" y2="504.9" stroke="#ffffff" stroke-width="0.9" opacity="0.8"/>
<polygon points="787.6,502.1 783.1,504.9 776.9,503.3 775.6,495.8 779.6,492.5 787.5,495.1" fill="url(#ig2)" fill-opacity="0.88" stroke="#f7f8f9" stroke-width="0.7" stroke-opacity="0.9"/>
<line x1="787.5" y1="495.1" x2="783.1" y2="504.9" stroke="#ffffff" stroke-width="0.9" opacity="0.8"/>
<polygon points="789.1,492.7 796.0,493.3 800.6,497.5 800.7,505.7 794.1,508.8 786.9,507.5 784.3,500.1" fill="url(#ig1)" fill-opacity="0.88" stroke="#f7f8f9" stroke-width="0.7" stroke-opacity="0.9"/>
<line x1="800.6" y1="497.5" x2="786.9" y2="507.5" stroke="#ffffff" stroke-width="0.9" opacity="0.8"/>
<polygon points="479.7,498.0 486.1,491.9 491.9,495.9 491.1,501.6 481.7,503.1" fill="url(#ig3)" fill-opacity="0.88" stroke="#f7f8f9" stroke-width="0.7" stroke-opacity="0.9"/>
<line x1="491.9" y1="495.9" x2="479.7" y2="498.0" stroke="#ffffff" stroke-width="0.9" opacity="0.8"/>
<polygon points="503.8,502.4 498.4,506.0 492.8,503.6 491.8,496.4 496.9,494.0 501.6,492.1 506.5,497.4" fill="url(#ig1)" fill-opacity="0.88" stroke="#f7f8f9" stroke-width="0.7" stroke-opacity="0.9"/>
<line x1="503.8" y1="502.4" x2="491.8" y2="496.4" stroke="#ffffff" stroke-width="0.9" opacity="0.8"/>
<polygon points="506.1,511.7 503.8,502.4 508.7,497.0 518.4,496.8 522.5,501.8 521.8,509.8 513.0,512.5" fill="url(#ig3)" fill-opacity="0.88" stroke="#f7f8f9" stroke-width="0.7" stroke-opacity="0.9"/>
<line x1="521.8" y1="509.8" x2="506.1" y2="511.7" stroke="#ffffff" stroke-width="0.9" opacity="0.8"/>
<polygon points="524.8,508.2 520.9,501.6 526.4,494.4 538.4,494.1 541.7,499.8 533.9,508.7" fill="url(#ig1)" fill-opacity="0.88" stroke="#f7f8f9" stroke-width="0.7" stroke-opacity="0.9"/>
<line x1="538.4" y1="494.1" x2="533.9" y2="508.7" stroke="#ffffff" stroke-width="0.9" opacity="0.8"/>
<polygon points="544.8,508.3 539.9,505.0 542.2,497.1 549.4,493.8 552.7,497.5 554.4,504.1 550.3,507.4" fill="url(#ig2)" fill-opacity="0.88" stroke="#f7f8f9" stroke-width="0.7" stroke-opacity="0.9"/>
<line x1="552.7" y1="497.5" x2="550.3" y2="507.4" stroke="#ffffff" stroke-width="0.9" opacity="0.8"/>
<polygon points="569.8,494.2 568.8,508.8 555.5,507.0 550.3,496.8 559.9,488.7" fill="url(#ig3)" fill-opacity="0.88" stroke="#f7f8f9" stroke-width="0.7" stroke-opacity="0.9"/>
<line x1="555.5" y1="507.0" x2="569.8" y2="494.2" stroke="#ffffff" stroke-width="0.9" opacity="0.8"/>
<polygon points="572.6,512.0 569.1,505.0 575.6,495.8 584.2,497.1 587.3,505.2 581.2,511.0" fill="url(#ig1)" fill-opacity="0.88" stroke="#f7f8f9" stroke-width="0.7" stroke-opacity="0.9"/>
<line x1="581.2" y1="511.0" x2="575.6" y2="495.8" stroke="#ffffff" stroke-width="0.9" opacity="0.8"/>
<polygon points="598.3,494.2 601.1,501.3 593.0,507.2 585.3,503.9 586.1,494.8" fill="url(#ig2)" fill-opacity="0.88" stroke="#f7f8f9" stroke-width="0.7" stroke-opacity="0.9"/>
<line x1="585.3" y1="503.9" x2="601.1" y2="501.3" stroke="#ffffff" stroke-width="0.9" opacity="0.8"/>
<polygon points="609.5,508.4 601.5,507.5 597.3,498.8 608.6,492.7 613.9,500.0" fill="url(#ig2)" fill-opacity="0.88" stroke="#f7f8f9" stroke-width="0.7" stroke-opacity="0.9"/>
<line x1="608.6" y1="492.7" x2="609.5" y2="508.4" stroke="#ffffff" stroke-width="0.9" opacity="0.8"/>
<polygon points="624.2,504.5 621.6,511.2 614.9,511.7 610.7,506.4 611.1,501.7 616.4,498.8 621.7,499.1" fill="url(#ig3)" fill-opacity="0.88" stroke="#f7f8f9" stroke-width="0.7" stroke-opacity="0.9"/>
<line x1="611.1" y1="501.7" x2="621.7" y2="499.1" stroke="#ffffff" stroke-width="0.9" opacity="0.8"/>
<polygon points="636.2,502.7 632.3,509.6 624.5,507.4 621.7,502.5 628.9,497.4" fill="url(#ig1)" fill-opacity="0.88" stroke="#f7f8f9" stroke-width="0.7" stroke-opacity="0.9"/>
<line x1="621.7" y1="502.5" x2="636.2" y2="502.7" stroke="#ffffff" stroke-width="0.9" opacity="0.8"/>
<polygon points="649.4,492.3 647.6,505.3 640.3,507.0 633.1,496.0 641.3,490.3" fill="url(#ig3)" fill-opacity="0.88" stroke="#f7f8f9" stroke-width="0.7" stroke-opacity="0.9"/>
<line x1="641.3" y1="490.3" x2="647.6" y2="505.3" stroke="#ffffff" stroke-width="0.9" opacity="0.8"/>
<polygon points="648.6,500.1 649.5,491.5 659.3,490.5 665.0,490.4 667.9,500.7 663.5,507.0 658.4,506.8" fill="url(#ig1)" fill-opacity="0.88" stroke="#f7f8f9" stroke-width="0.7" stroke-opacity="0.9"/>
<line x1="649.5" y1="491.5" x2="665.0" y2="490.4" stroke="#ffffff" stroke-width="0.9" opacity="0.8"/>
<polygon points="681.2,497.4 684.3,502.8 673.6,510.3 667.2,509.2 666.1,497.9 672.1,492.3" fill="url(#ig1)" fill-opacity="0.88" stroke="#f7f8f9" stroke-width="0.7" stroke-opacity="0.9"/>
<line x1="681.2" y1="497.4" x2="673.6" y2="510.3" stroke="#ffffff" stroke-width="0.9" opacity="0.8"/>
<polygon points="692.5,492.5 697.4,498.4 697.1,503.2 690.0,507.7 684.0,504.3 683.8,497.9" fill="url(#ig2)" fill-opacity="0.88" stroke="#f7f8f9" stroke-width="0.7" stroke-opacity="0.9"/>
<line x1="690.0" y1="507.7" x2="683.8" y2="497.9" stroke="#ffffff" stroke-width="0.9" opacity="0.8"/>
<polygon points="706.9,498.7 704.7,503.8 701.9,505.9 694.3,502.1 694.3,498.3 700.0,492.9 703.7,493.2" fill="url(#ig1)" fill-opacity="0.88" stroke="#f7f8f9" stroke-width="0.7" stroke-opacity="0.9"/>
<line x1="706.9" y1="498.7" x2="701.9" y2="505.9" stroke="#ffffff" stroke-width="0.9" opacity="0.8"/>
<polygon points="722.9,509.3 711.6,510.5 706.5,503.4 713.5,497.0 722.9,501.0" fill="url(#ig3)" fill-opacity="0.88" stroke="#f7f8f9" stroke-width="0.7" stroke-opacity="0.9"/>
<line x1="711.6" y1="510.5" x2="722.9" y2="501.0" stroke="#ffffff" stroke-width="0.9" opacity="0.8"/>
<polygon points="727.2,491.2 734.1,489.1 742.7,498.5 739.1,507.6 729.3,508.4 722.6,500.0" fill="url(#ig3)" fill-opacity="0.88" stroke="#f7f8f9" stroke-width="0.7" stroke-opacity="0.9"/>
<line x1="739.1" y1="507.6" x2="727.2" y2="491.2" stroke="#ffffff" stroke-width="0.9" opacity="0.8"/>
<polygon points="758.1,506.3 748.9,511.4 741.7,505.5 747.2,495.3 755.6,493.0 761.9,498.4" fill="url(#ig3)" fill-opacity="0.88" stroke="#f7f8f9" stroke-width="0.7" stroke-opacity="0.9"/>
<line x1="758.1" y1="506.3" x2="741.7" y2="505.5" stroke="#ffffff" stroke-width="0.9" opacity="0.8"/>
<polygon points="779.1,502.6 774.4,511.7 757.3,507.9 759.5,497.7 768.5,493.2" fill="url(#ig1)" fill-opacity="0.88" stroke="#f7f8f9" stroke-width="0.7" stroke-opacity="0.9"/>
<line x1="779.1" y1="502.6" x2="757.3" y2="507.9" stroke="#ffffff" stroke-width="0.9" opacity="0.8"/>
<polygon points="779.3,506.4 778.6,498.6 780.8,495.9 788.2,495.2 792.0,501.6 789.8,506.5 783.2,509.3" fill="url(#ig1)" fill-opacity="0.88" stroke="#f7f8f9" stroke-width="0.7" stroke-opacity="0.9"/>
<line x1="779.3" y1="506.4" x2="780.8" y2="495.9" stroke="#ffffff" stroke-width="0.9" opacity="0.8"/>
<polygon points="789.8,506.0 791.2,502.0 799.0,497.8 805.2,499.2 807.1,504.7 801.7,511.0 796.0,513.6" fill="url(#ig1)" fill-opacity="0.88" stroke="#f7f8f9" stroke-width="0.7" stroke-opacity="0.9"/>
<line x1="801.7" y1="511.0" x2="791.2" y2="502.0" stroke="#ffffff" stroke-width="0.9" opacity="0.8"/>
</g>
<rect x="474" y="510.8" width="318" height="2.6" fill="#f1f3f4" opacity="0.95"/>
<polygon points="478,514 500,514 496,544 482,541" fill="#dfe2e4" opacity="0.45"/>
<polygon points="560,514 578,514 574,530 564,527" fill="#dfe2e4" opacity="0.45"/>
<polygon points="620,514 646,514 642,526 624,523" fill="#dfe2e4" opacity="0.45"/>
<polygon points="700,514 720,514 716,528 704,525" fill="#dfe2e4" opacity="0.45"/>
<polygon points="760,514 784,514 780,534 764,531" fill="#dfe2e4" opacity="0.45"/>
<defs><clipPath id="bac"><rect x="472" y="470" width="322" height="209"/></clipPath></defs><g clip-path="url(#bac)" fill="none">
<circle cx="634" cy="679" r="4" stroke="#36d15a" stroke-opacity="0.6" stroke-width="2.2"/>
<circle cx="634" cy="679" r="11" stroke="#36d15a" stroke-opacity="0.95" stroke-width="2.8"/>
<circle cx="634" cy="679" r="20" stroke="#36d15a" stroke-opacity="0.95" stroke-width="3"/>
<circle cx="634" cy="679" r="33" stroke="#36d15a" stroke-opacity="0.95" stroke-width="3"/>
<circle cx="634" cy="679" r="51" stroke="#36d15a" stroke-opacity="0.9" stroke-width="3"/>
<circle cx="634" cy="679" r="68" stroke="#36d15a" stroke-opacity="0.75" stroke-width="2.8"/>
<circle cx="634" cy="679" r="88" stroke="#36d15a" stroke-opacity="0.5" stroke-width="2.5"/>
<circle cx="634" cy="679" r="107" stroke="#36d15a" stroke-opacity="0.3" stroke-width="2.1"/>
<circle cx="634" cy="679" r="130" stroke="#36d15a" stroke-opacity="0.14" stroke-width="1.8"/>
</g>
<rect x="552.1" y="574" width="164.4" height="57.7" fill="none" stroke="#000" stroke-width="2.2" stroke-dasharray="6.5,4"/>
<line x1="467" y1="327" x2="552.5" y2="574" fill="none" stroke="#000" stroke-width="2.2" stroke-dasharray="6.5,4"/>
<line x1="800.4" y1="327" x2="716.2" y2="574" fill="none" stroke="#000" stroke-width="2.2" stroke-dasharray="6.5,4"/>
<defs><clipPath id="insclip"><rect x="467.3" y="88" width="332" height="238"/></clipPath>
<linearGradient id="lumen" x1="0" y1="0" x2="0" y2="1"><stop offset="0" stop-color="#4fbce8"/><stop offset="0.6" stop-color="#62c6ee"/><stop offset="1" stop-color="#7ed1f1"/></linearGradient>
<linearGradient id="darkl" x1="0" y1="0" x2="1" y2="0"><stop offset="0.05" stop-color="#3b8fc0"/><stop offset="0.13" stop-color="#1a4a6a"/><stop offset="0.25" stop-color="#02080f"/><stop offset="0.75" stop-color="#02080f"/><stop offset="0.87" stop-color="#1a4a6a"/><stop offset="0.95" stop-color="#3b8fc0"/></linearGradient>
</defs><g clip-path="url(#insclip)">
<path d="M440.0,125.0 L443.9,127.2 L447.7,129.4 L451.6,131.7 L455.4,134.1 L459.3,136.4 L463.2,138.8 L467.0,141.1 L470.9,143.5 L474.7,145.9 L478.6,148.3 L482.5,150.7 L486.3,153.1 L490.2,155.5 L494.0,157.8 L497.9,160.2 L501.8,162.5 L505.6,164.8 L509.5,167.1 L513.3,169.4 L517.2,171.6 L521.1,173.8 L524.9,175.9 L528.8,178.0 L532.6,180.1 L536.5,182.1 L540.4,184.1 L544.2,186.0 L548.1,187.9 L551.9,189.7 L555.8,191.4 L559.7,193.1 L563.5,194.7 L567.4,196.3 L571.2,197.8 L575.1,199.2 L579.0,200.6 L582.8,201.8 L586.7,203.0 L590.5,204.2 L594.4,205.2 L598.3,206.2 L602.1,207.1 L606.0,207.9 L609.8,208.6 L613.7,209.3 L617.6,209.9 L621.4,210.3 L625.3,210.7 L629.1,211.0 L633.0,211.3 L636.9,211.4 L640.7,211.5 L644.6,211.4 L648.4,211.3 L652.3,211.1 L656.2,210.8 L660.0,210.4 L663.9,209.9 L667.7,209.3 L671.6,208.6 L675.5,207.9 L679.3,207.0 L683.2,206.1 L687.0,205.1 L690.9,204.0 L694.8,202.8 L698.6,201.5 L702.5,200.2 L706.3,198.8 L710.2,197.2 L714.1,195.6 L717.9,193.9 L721.8,192.2 L725.6,190.3 L729.5,188.4 L733.4,186.4 L737.2,184.4 L741.1,182.2 L744.9,180.0 L748.8,177.8 L752.7,175.4 L756.5,173.0 L760.4,170.6 L764.2,168.1 L768.1,165.5 L772.0,162.8 L775.8,160.2 L779.7,157.4 L783.5,154.6 L787.4,151.8 L791.3,148.9 L795.1,146.0 L799.0,143.1 L802.8,140.1 L806.7,137.1 L810.6,134.0 L814.4,131.0 L818.3,127.9 L822.1,124.8 L826.0,121.7 L826.0,212.8 L822.1,215.6 L818.3,218.5 L814.4,221.2 L810.6,223.9 L806.7,226.6 L802.8,229.1 L799.0,231.7 L795.1,234.1 L791.3,236.5 L787.4,238.8 L783.5,241.1 L779.7,243.3 L775.8,245.4 L772.0,247.5 L768.1,249.5 L764.2,251.4 L760.4,253.3 L756.5,255.1 L752.7,256.8 L748.8,258.5 L744.9,260.1 L741.1,261.6 L737.2,263.1 L733.4,264.5 L729.5,265.9 L725.6,267.1 L721.8,268.3 L717.9,269.5 L714.1,270.6 L710.2,271.6 L706.3,272.5 L702.5,273.4 L698.6,274.2 L694.8,275.0 L690.9,275.7 L687.0,276.3 L683.2,276.9 L679.3,277.4 L675.5,277.8 L671.6,278.2 L667.7,278.6 L663.9,278.8 L660.0,279.0 L656.2,279.2 L652.3,279.2 L648.4,279.3 L644.6,279.2 L640.7,279.2 L636.9,279.0 L633.0,278.8 L629.1,278.6 L625.3,278.3 L621.4,277.9 L617.6,277.5 L613.7,277.0 L609.8,276.5 L606.0,276.0 L602.1,275.4 L598.3,274.7 L594.4,274.0 L590.5,273.3 L586.7,272.5 L582.8,271.7 L579.0,270.8 L575.1,269.9 L571.2,269.0 L567.4,268.0 L563.5,266.9 L559.7,265.9 L555.8,264.8 L551.9,263.7 L548.1,262.5 L544.2,261.3 L540.4,260.1 L536.5,258.9 L532.6,257.6 L528.8,256.3 L524.9,255.0 L521.1,253.7 L517.2,252.3 L513.3,251.0 L509.5,249.6 L505.6,248.2 L501.8,246.8 L497.9,245.3 L494.0,243.9 L490.2,242.5 L486.3,241.0 L482.5,239.6 L478.6,238.1 L474.7,236.7 L470.9,235.2 L467.0,233.8 L463.2,232.3 L459.3,230.9 L455.4,229.5 L451.6,228.0 L447.7,226.6 L443.9,225.3 L440.0,223.9Z" fill="#c4e8f6"/>
<path d="M440.0,125.9 L443.9,128.1 L447.7,130.4 L451.6,132.7 L455.4,135.0 L459.3,137.3 L463.2,139.7 L467.0,142.0 L470.9,144.4 L474.7,146.8 L478.6,149.2 L482.5,151.6 L486.3,154.0 L490.2,156.3 L494.0,158.7 L497.9,161.0 L501.8,163.4 L505.6,165.7 L509.5,167.9 L513.3,170.2 L517.2,172.4 L521.1,174.6 L524.9,176.7 L528.8,178.8 L532.6,180.9 L536.5,182.9 L540.4,184.8 L544.2,186.7 L548.1,188.6 L551.9,190.4 L555.8,192.1 L559.7,193.8 L563.5,195.4 L567.4,197.0 L571.2,198.5 L575.1,199.9 L579.0,201.2 L582.8,202.5 L586.7,203.7 L590.5,204.8 L594.4,205.9 L598.3,206.9 L602.1,207.8 L606.0,208.6 L609.8,209.3 L613.7,210.0 L617.6,210.5 L621.4,211.0 L625.3,211.4 L629.1,211.7 L633.0,211.9 L636.9,212.1 L640.7,212.1 L644.6,212.1 L648.4,211.9 L652.3,211.7 L656.2,211.4 L660.0,211.0 L663.9,210.6 L667.7,210.0 L671.6,209.3 L675.5,208.6 L679.3,207.7 L683.2,206.8 L687.0,205.8 L690.9,204.7 L694.8,203.5 L698.6,202.3 L702.5,200.9 L706.3,199.5 L710.2,198.0 L714.1,196.4 L717.9,194.7 L721.8,192.9 L725.6,191.1 L729.5,189.2 L733.4,187.2 L737.2,185.2 L741.1,183.0 L744.9,180.8 L748.8,178.6 L752.7,176.2 L756.5,173.8 L760.4,171.4 L764.2,168.9 L768.1,166.3 L772.0,163.7 L775.8,161.0 L779.7,158.3 L783.5,155.5 L787.4,152.7 L791.3,149.8 L795.1,146.9 L799.0,143.9 L802.8,141.0 L806.7,138.0 L810.6,134.9 L814.4,131.9 L818.3,128.8 L822.1,125.7 L826.0,122.6 L826.0,123.6 L822.1,126.8 L818.3,129.9 L814.4,132.9 L810.6,136.0 L806.7,139.0 L802.8,142.0 L799.0,145.0 L795.1,147.9 L791.3,150.8 L787.4,153.7 L783.5,156.5 L779.7,159.3 L775.8,162.0 L772.0,164.7 L768.1,167.3 L764.2,169.9 L760.4,172.4 L756.5,174.8 L752.7,177.2 L748.8,179.5 L744.9,181.8 L741.1,184.0 L737.2,186.1 L733.4,188.1 L729.5,190.1 L725.6,192.0 L721.8,193.8 L717.9,195.6 L714.1,197.2 L710.2,198.8 L706.3,200.3 L702.5,201.8 L698.6,203.1 L694.8,204.4 L690.9,205.6 L687.0,206.6 L683.2,207.6 L679.3,208.6 L675.5,209.4 L671.6,210.1 L667.7,210.8 L663.9,211.4 L660.0,211.8 L656.2,212.2 L652.3,212.5 L648.4,212.7 L644.6,212.9 L640.7,212.9 L636.9,212.9 L633.0,212.7 L629.1,212.5 L625.3,212.2 L621.4,211.8 L617.6,211.3 L613.7,210.8 L609.8,210.1 L606.0,209.4 L602.1,208.6 L598.3,207.7 L594.4,206.7 L590.5,205.7 L586.7,204.5 L582.8,203.3 L579.0,202.1 L575.1,200.7 L571.2,199.3 L567.4,197.8 L563.5,196.3 L559.7,194.7 L555.8,193.0 L551.9,191.3 L548.1,189.5 L544.2,187.6 L540.4,185.7 L536.5,183.8 L532.6,181.8 L528.8,179.7 L524.9,177.6 L521.1,175.5 L517.2,173.3 L513.3,171.1 L509.5,168.9 L505.6,166.6 L501.8,164.3 L497.9,162.0 L494.0,159.7 L490.2,157.4 L486.3,155.0 L482.5,152.6 L478.6,150.3 L474.7,147.9 L470.9,145.5 L467.0,143.1 L463.2,140.8 L459.3,138.4 L455.4,136.1 L451.6,133.8 L447.7,131.5 L443.9,129.3 L440.0,127.1Z" fill="#7fc3e0"/>
<path d="M440.0,132.2 L443.9,134.4 L447.7,136.7 L451.6,139.0 L455.4,141.3 L459.3,143.6 L463.2,146.0 L467.0,148.3 L470.9,150.5 L474.7,152.7 L478.6,155.0 L482.5,157.2 L486.3,159.4 L490.2,161.6 L494.0,163.8 L497.9,166.0 L501.8,168.1 L505.6,170.3 L509.5,172.4 L513.3,174.5 L517.2,176.6 L521.1,178.6 L524.9,180.6 L528.8,182.5 L532.6,184.4 L536.5,186.3 L540.4,188.1 L544.2,189.9 L548.1,191.6 L551.9,193.3 L555.8,194.9 L559.7,196.4 L563.5,197.9 L567.4,199.3 L571.2,200.7 L575.1,202.0 L579.0,203.2 L582.8,204.4 L586.7,205.5 L590.5,206.5 L594.4,207.4 L598.3,208.3 L602.1,209.1 L606.0,209.8 L609.8,210.4 L613.7,211.0 L617.6,211.5 L621.4,211.9 L625.3,212.2 L629.1,212.4 L633.0,212.6 L636.9,212.8 L640.7,212.9 L644.6,212.9 L648.4,212.9 L652.3,212.7 L656.2,212.5 L660.0,212.2 L663.9,211.9 L667.7,211.4 L671.6,210.8 L675.5,210.2 L679.3,209.5 L683.2,208.7 L687.0,207.8 L690.9,206.8 L694.8,205.7 L698.6,204.6 L702.5,203.4 L706.3,202.1 L710.2,200.7 L714.1,199.2 L717.9,197.7 L721.8,196.1 L725.6,194.4 L729.5,192.6 L733.4,190.8 L737.2,188.9 L741.1,186.9 L744.9,184.8 L748.8,182.7 L752.7,180.6 L756.5,178.3 L760.4,176.0 L764.2,173.7 L768.1,171.2 L772.0,168.8 L775.8,166.3 L779.7,163.7 L783.5,161.1 L787.4,158.4 L791.3,155.7 L795.1,153.0 L799.0,150.2 L802.8,147.3 L806.7,144.3 L810.6,141.2 L814.4,138.2 L818.3,135.1 L822.1,132.0 L826.0,128.9 L826.0,131.0 L822.1,134.1 L818.3,137.2 L814.4,140.3 L810.6,143.3 L806.7,146.4 L802.8,149.4 L799.0,152.3 L795.1,155.0 L791.3,157.7 L787.4,160.3 L783.5,162.9 L779.7,165.5 L775.8,168.0 L772.0,170.5 L768.1,172.9 L764.2,175.3 L760.4,177.6 L756.5,179.8 L752.7,182.0 L748.8,184.1 L744.9,186.2 L741.1,188.2 L737.2,190.1 L733.4,192.0 L729.5,193.8 L725.6,195.5 L721.8,197.1 L717.9,198.7 L714.1,200.2 L710.2,201.6 L706.3,203.0 L702.5,204.2 L698.6,205.4 L694.8,206.5 L690.9,207.5 L687.0,208.4 L683.2,209.3 L679.3,210.1 L675.5,210.7 L671.6,211.3 L667.7,211.9 L663.9,212.3 L660.0,212.6 L656.2,212.9 L652.3,213.1 L648.4,213.2 L644.6,213.2 L640.7,213.2 L636.9,213.0 L633.0,212.8 L629.1,212.7 L625.3,212.4 L621.4,212.1 L617.6,211.8 L613.7,211.3 L609.8,210.8 L606.0,210.2 L602.1,209.5 L598.3,208.7 L594.4,207.9 L590.5,207.0 L586.7,206.0 L582.8,205.0 L579.0,203.9 L575.1,202.7 L571.2,201.4 L567.4,200.1 L563.5,198.7 L559.7,197.3 L555.8,195.8 L551.9,194.2 L548.1,192.6 L544.2,190.9 L540.4,189.2 L536.5,187.4 L532.6,185.6 L528.8,183.8 L524.9,181.9 L521.1,179.9 L517.2,177.9 L513.3,175.9 L509.5,173.9 L505.6,171.8 L501.8,169.7 L497.9,167.6 L494.0,165.5 L490.2,163.4 L486.3,161.2 L482.5,159.0 L478.6,156.9 L474.7,154.7 L470.9,152.5 L467.0,150.4 L463.2,148.1 L459.3,145.7 L455.4,143.4 L451.6,141.1 L447.7,138.8 L443.9,136.5 L440.0,134.3Z" fill="#ffffff" opacity="0.7"/>
<path d="M440.0,142.9 L443.9,145.1 L447.7,147.4 L451.6,149.7 L455.4,152.0 L459.3,154.3 L463.2,156.7 L467.0,159.0 L470.9,161.1 L474.7,163.3 L478.6,165.4 L482.5,167.6 L486.3,169.7 L490.2,171.9 L494.0,174.0 L497.9,176.1 L501.8,178.2 L505.6,180.3 L509.5,182.4 L513.3,184.4 L517.2,186.4 L521.1,188.4 L524.9,190.3 L528.8,192.2 L532.6,194.0 L536.5,195.8 L540.4,197.6 L544.2,199.3 L548.1,201.0 L551.9,202.6 L555.8,204.1 L559.7,205.6 L563.5,207.1 L567.4,208.4 L571.2,209.7 L575.1,211.0 L579.0,212.2 L582.8,213.3 L586.7,214.3 L590.5,215.3 L594.4,216.2 L598.3,217.0 L602.1,217.7 L606.0,218.4 L609.8,219.0 L613.7,219.5 L617.6,220.0 L621.4,220.3 L625.3,220.6 L629.1,220.9 L633.0,221.0 L636.9,221.2 L640.7,221.4 L644.6,221.4 L648.4,221.4 L652.3,221.3 L656.2,221.1 L660.0,220.9 L663.9,220.5 L667.7,220.1 L671.6,219.6 L675.5,219.0 L679.3,218.3 L683.2,217.6 L687.0,216.7 L690.9,215.8 L694.8,214.8 L698.6,213.7 L702.5,212.5 L706.3,211.3 L710.2,210.0 L714.1,208.6 L717.9,207.1 L721.8,205.5 L725.6,203.9 L729.5,202.2 L733.4,200.4 L737.2,198.5 L741.1,196.6 L744.9,194.6 L748.8,192.6 L752.7,190.5 L756.5,188.3 L760.4,186.0 L764.2,183.7 L768.1,181.4 L772.0,179.0 L775.8,176.5 L779.7,174.0 L783.5,171.5 L787.4,168.9 L791.3,166.3 L795.1,163.6 L799.0,160.9 L802.8,158.0 L806.7,155.0 L810.6,151.9 L814.4,148.9 L818.3,145.8 L822.1,142.7 L826.0,139.6 L826.0,200.7 L822.1,203.6 L818.3,206.5 L814.4,209.3 L810.6,212.0 L806.7,214.7 L802.8,217.4 L799.0,219.9 L795.1,222.5 L791.3,224.9 L787.4,227.3 L783.5,229.6 L779.7,231.9 L775.8,234.1 L772.0,236.3 L768.1,238.4 L764.2,240.4 L760.4,242.3 L756.5,244.2 L752.7,246.0 L748.8,247.8 L744.9,249.5 L741.1,251.1 L737.2,252.7 L733.4,254.2 L729.5,255.6 L725.6,257.0 L721.8,258.3 L717.9,259.5 L714.1,260.6 L710.2,261.7 L706.3,262.8 L702.5,263.7 L698.6,264.6 L694.8,265.4 L690.9,266.2 L687.0,266.9 L683.2,267.5 L679.3,268.1 L675.5,268.6 L671.6,269.0 L667.7,269.4 L663.9,269.7 L660.0,269.9 L656.2,270.1 L652.3,270.2 L648.4,270.3 L644.6,270.3 L640.7,270.2 L636.9,270.1 L633.0,269.9 L629.1,269.6 L625.3,269.3 L621.4,269.0 L617.6,268.6 L613.7,268.1 L609.8,267.6 L606.0,267.0 L602.1,266.3 L598.3,265.7 L594.4,264.9 L590.5,264.1 L586.7,263.3 L582.8,262.4 L579.0,261.5 L575.1,260.5 L571.2,259.5 L567.4,258.5 L563.5,257.4 L559.7,256.3 L555.8,255.1 L551.9,253.9 L548.1,252.6 L544.2,251.4 L540.4,250.1 L536.5,248.7 L532.6,247.4 L528.8,246.0 L524.9,244.5 L521.1,243.1 L517.2,241.6 L513.3,240.2 L509.5,238.7 L505.6,237.1 L501.8,235.6 L497.9,234.1 L494.0,232.5 L490.2,230.9 L486.3,229.4 L482.5,227.8 L478.6,226.2 L474.7,224.6 L470.9,223.1 L467.0,221.5 L463.2,219.9 L459.3,218.4 L455.4,216.8 L451.6,215.3 L447.7,213.8 L443.9,212.3 L440.0,210.8Z" fill="url(#lumen)"/>
<path d="M440.0,139.9 L443.9,142.1 L447.7,144.4 L451.6,146.7 L455.4,149.0 L459.3,151.3 L463.2,153.7 L467.0,156.0 L470.9,158.0 L474.7,160.0 L478.6,162.0 L482.5,164.0 L486.3,166.0 L490.2,168.0 L494.0,170.0 L497.9,172.0 L501.8,174.0 L505.6,175.9 L509.5,177.9 L513.3,179.8 L517.2,181.7 L521.1,183.5 L524.9,185.3 L528.8,187.1 L532.6,188.8 L536.5,190.5 L540.4,192.1 L544.2,193.7 L548.1,195.3 L551.9,196.8 L555.8,198.2 L559.7,199.6 L563.5,200.9 L567.4,202.2 L571.2,203.4 L575.1,204.5 L579.0,205.6 L582.8,206.6 L586.7,207.6 L590.5,208.5 L594.4,209.3 L598.3,210.0 L602.1,210.7 L606.0,211.2 L609.8,211.8 L613.7,212.2 L617.6,212.6 L621.4,212.9 L625.3,213.1 L629.1,213.3 L633.0,213.4 L636.9,213.7 L640.7,213.8 L644.6,214.0 L648.4,214.0 L652.3,214.0 L656.2,213.9 L660.0,213.7 L663.9,213.4 L667.7,213.1 L671.6,212.7 L675.5,212.2 L679.3,211.6 L683.2,210.9 L687.0,210.2 L690.9,209.4 L694.8,208.5 L698.6,207.5 L702.5,206.4 L706.3,205.3 L710.2,204.0 L714.1,202.7 L717.9,201.4 L721.8,199.9 L725.6,198.4 L729.5,196.8 L733.4,195.2 L737.2,193.4 L741.1,191.6 L744.9,189.8 L748.8,187.8 L752.7,185.8 L756.5,183.8 L760.4,181.7 L764.2,179.5 L768.1,177.3 L772.0,175.0 L775.8,172.7 L779.7,170.3 L783.5,167.9 L787.4,165.4 L791.3,162.9 L795.1,160.4 L799.0,157.8 L802.8,155.0 L806.7,152.0 L810.6,148.9 L814.4,145.9 L818.3,142.8 L822.1,139.7 L826.0,136.6 L826.0,139.6 L822.1,142.7 L818.3,145.8 L814.4,148.9 L810.6,151.9 L806.7,155.0 L802.8,158.0 L799.0,160.9 L795.1,163.6 L791.3,166.3 L787.4,168.9 L783.5,171.5 L779.7,174.0 L775.8,176.5 L772.0,179.0 L768.1,181.4 L764.2,183.7 L760.4,186.0 L756.5,188.3 L752.7,190.5 L748.8,192.6 L744.9,194.6 L741.1,196.6 L737.2,198.5 L733.4,200.4 L729.5,202.2 L725.6,203.9 L721.8,205.5 L717.9,207.1 L714.1,208.6 L710.2,210.0 L706.3,211.3 L702.5,212.5 L698.6,213.7 L694.8,214.8 L690.9,215.8 L687.0,216.7 L683.2,217.6 L679.3,218.3 L675.5,219.0 L671.6,219.6 L667.7,220.1 L663.9,220.5 L660.0,220.9 L656.2,221.1 L652.3,221.3 L648.4,221.4 L644.6,221.4 L640.7,221.4 L636.9,221.2 L633.0,221.0 L629.1,220.9 L625.3,220.6 L621.4,220.3 L617.6,220.0 L613.7,219.5 L609.8,219.0 L606.0,218.4 L602.1,217.7 L598.3,217.0 L594.4,216.2 L590.5,215.3 L586.7,214.3 L582.8,213.3 L579.0,212.2 L575.1,211.0 L571.2,209.7 L567.4,208.4 L563.5,207.1 L559.7,205.6 L555.8,204.1 L551.9,202.6 L548.1,201.0 L544.2,199.3 L540.4,197.6 L536.5,195.8 L532.6,194.0 L528.8,192.2 L524.9,190.3 L521.1,188.4 L517.2,186.4 L513.3,184.4 L509.5,182.4 L505.6,180.3 L501.8,178.2 L497.9,176.1 L494.0,174.0 L490.2,171.9 L486.3,169.7 L482.5,167.6 L478.6,165.4 L474.7,163.3 L470.9,161.1 L467.0,159.0 L463.2,156.7 L459.3,154.3 L455.4,152.0 L451.6,149.7 L447.7,147.4 L443.9,145.1 L440.0,142.9Z" fill="url(#darkl)"/>
<path d="M440.0,210.8 L443.9,212.3 L447.7,213.8 L451.6,215.3 L455.4,216.8 L459.3,218.4 L463.2,219.9 L467.0,221.5 L470.9,223.1 L474.7,224.6 L478.6,226.2 L482.5,227.8 L486.3,229.4 L490.2,230.9 L494.0,232.5 L497.9,234.1 L501.8,235.6 L505.6,237.1 L509.5,238.7 L513.3,240.2 L517.2,241.6 L521.1,243.1 L524.9,244.5 L528.8,246.0 L532.6,247.4 L536.5,248.7 L540.4,250.1 L544.2,251.4 L548.1,252.6 L551.9,253.9 L555.8,255.1 L559.7,256.3 L563.5,257.4 L567.4,258.5 L571.2,259.5 L575.1,260.5 L579.0,261.5 L582.8,262.4 L586.7,263.3 L590.5,264.1 L594.4,264.9 L598.3,265.7 L602.1,266.3 L606.0,267.0 L609.8,267.6 L613.7,268.1 L617.6,268.6 L621.4,269.0 L625.3,269.3 L629.1,269.6 L633.0,269.9 L636.9,270.1 L640.7,270.2 L644.6,270.3 L648.4,270.3 L652.3,270.2 L656.2,270.1 L660.0,269.9 L663.9,269.7 L667.7,269.4 L671.6,269.0 L675.5,268.6 L679.3,268.1 L683.2,267.5 L687.0,266.9 L690.9,266.2 L694.8,265.4 L698.6,264.6 L702.5,263.7 L706.3,262.8 L710.2,261.7 L714.1,260.6 L717.9,259.5 L721.8,258.3 L725.6,257.0 L729.5,255.6 L733.4,254.2 L737.2,252.7 L741.1,251.1 L744.9,249.5 L748.8,247.8 L752.7,246.0 L756.5,244.2 L760.4,242.3 L764.2,240.4 L768.1,238.4 L772.0,236.3 L775.8,234.1 L779.7,231.9 L783.5,229.6 L787.4,227.3 L791.3,224.9 L795.1,222.5 L799.0,219.9 L802.8,217.4 L806.7,214.7 L810.6,212.0 L814.4,209.3 L818.3,206.5 L822.1,203.6 L826.0,200.7 L826.0,207.8 L822.1,210.7 L818.3,213.6 L814.4,216.4 L810.6,219.1 L806.7,221.7 L802.8,224.3 L799.0,226.9 L795.1,229.4 L791.3,231.8 L787.4,234.1 L783.5,236.4 L779.7,238.7 L775.8,240.8 L772.0,242.9 L768.1,244.9 L764.2,246.9 L760.4,248.8 L756.5,250.7 L752.7,252.4 L748.8,254.1 L744.9,255.8 L741.1,257.4 L737.2,258.9 L733.4,260.3 L729.5,261.7 L725.6,263.0 L721.8,264.2 L717.9,265.4 L714.1,266.5 L710.2,267.6 L706.3,268.6 L702.5,269.5 L698.6,270.3 L694.8,271.1 L690.9,271.8 L687.0,272.5 L683.2,273.1 L679.3,273.6 L675.5,274.1 L671.6,274.5 L667.7,274.8 L663.9,275.1 L660.0,275.3 L656.2,275.5 L652.3,275.6 L648.4,275.6 L644.6,275.6 L640.7,275.5 L636.9,275.4 L633.0,275.2 L629.1,274.9 L625.3,274.6 L621.4,274.3 L617.6,273.9 L613.7,273.4 L609.8,272.9 L606.0,272.3 L602.1,271.7 L598.3,271.0 L594.4,270.3 L590.5,269.6 L586.7,268.8 L582.8,267.9 L579.0,267.0 L575.1,266.1 L571.2,265.1 L567.4,264.1 L563.5,263.1 L559.7,262.0 L555.8,260.8 L551.9,259.7 L548.1,258.5 L544.2,257.3 L540.4,256.0 L536.5,254.7 L532.6,253.4 L528.8,252.1 L524.9,250.7 L521.1,249.4 L517.2,248.0 L513.3,246.6 L509.5,245.1 L505.6,243.7 L501.8,242.2 L497.9,240.7 L494.0,239.3 L490.2,237.8 L486.3,236.3 L482.5,234.8 L478.6,233.3 L474.7,231.8 L470.9,230.3 L467.0,228.8 L463.2,227.3 L459.3,225.8 L455.4,224.3 L451.6,222.8 L447.7,221.4 L443.9,220.0 L440.0,218.6Z" fill="#94adbd"/>
<polygon points="462,168 510.2,199.3 496.1,222.8 462,202" fill="#c3d35a" stroke="#9fb048" stroke-width="1.2"/>
<circle cx="526.3" cy="223.4" r="13" fill="#f4d3df"/>
<circle cx="526.3" cy="224" r="7.6" fill="#d9506a"/>
<ellipse cx="641.9" cy="262.2" rx="2.5" ry="1.7" transform="rotate(16,641.9,262.2)" fill="#e2609a" opacity="0.85"/>
<ellipse cx="638.4" cy="249.0" rx="3.2" ry="1.5" transform="rotate(141,638.4,249.0)" fill="#e2609a" opacity="0.85"/>
<ellipse cx="642.4" cy="264.6" rx="3.0" ry="1.5" transform="rotate(163,642.4,264.6)" fill="#e2609a" opacity="0.85"/>
<ellipse cx="641.3" cy="250.7" rx="1.7" ry="1.0" transform="rotate(133,641.3,250.7)" fill="#e2609a" opacity="0.85"/>
<ellipse cx="624.2" cy="264.3" rx="1.6" ry="2.1" transform="rotate(10,624.2,264.3)" fill="#e2609a" opacity="0.85"/>
<ellipse cx="640.3" cy="252.9" rx="1.3" ry="2.0" transform="rotate(121,640.3,252.9)" fill="#e2609a" opacity="0.85"/>
<ellipse cx="631.9" cy="245.1" rx="2.9" ry="1.4" transform="rotate(147,631.9,245.1)" fill="#e2609a" opacity="0.85"/>
<ellipse cx="635.3" cy="253.0" rx="3.3" ry="2.0" transform="rotate(24,635.3,253.0)" fill="#e2609a" opacity="0.85"/>
<ellipse cx="650.5" cy="253.1" rx="2.7" ry="1.9" transform="rotate(77,650.5,253.1)" fill="#e2609a" opacity="0.85"/>
<ellipse cx="640.7" cy="251.1" rx="3.0" ry="1.6" transform="rotate(136,640.7,251.1)" fill="#e2609a" opacity="0.85"/>
<ellipse cx="620.7" cy="239.5" rx="2.7" ry="2.1" transform="rotate(71,620.7,239.5)" fill="#e2609a" opacity="0.85"/>
<ellipse cx="654.8" cy="250.3" rx="2.7" ry="1.0" transform="rotate(83,654.8,250.3)" fill="#e2609a" opacity="0.85"/>
<ellipse cx="654.2" cy="248.1" rx="2.8" ry="1.1" transform="rotate(146,654.2,248.1)" fill="#e2609a" opacity="0.85"/>
<ellipse cx="640.0" cy="259.8" rx="1.5" ry="1.5" transform="rotate(163,640.0,259.8)" fill="#e2609a" opacity="0.85"/>
<ellipse cx="660.3" cy="249.8" rx="2.1" ry="1.0" transform="rotate(75,660.3,249.8)" fill="#e2609a" opacity="0.85"/>
<ellipse cx="630.2" cy="256.1" rx="2.1" ry="1.0" transform="rotate(154,630.2,256.1)" fill="#e2609a" opacity="0.85"/>
<ellipse cx="626.5" cy="238.8" rx="1.9" ry="2.0" transform="rotate(71,626.5,238.8)" fill="#e2609a" opacity="0.85"/>
<ellipse cx="635.4" cy="250.8" rx="3.4" ry="1.2" transform="rotate(19,635.4,250.8)" fill="#e2609a" opacity="0.85"/>
<ellipse cx="664.4" cy="269.1" rx="3.3" ry="1.2" transform="rotate(67,664.4,269.1)" fill="#e2609a" opacity="0.85"/>
<ellipse cx="644.8" cy="256.4" rx="1.3" ry="2.0" transform="rotate(80,644.8,256.4)" fill="#e2609a" opacity="0.85"/>
<ellipse cx="630.6" cy="263.0" rx="2.0" ry="2.0" transform="rotate(98,630.6,263.0)" fill="#e2609a" opacity="0.85"/>
<ellipse cx="629.1" cy="236.6" rx="2.5" ry="1.6" transform="rotate(158,629.1,236.6)" fill="#e2609a" opacity="0.85"/>
<ellipse cx="644.7" cy="250.4" rx="2.6" ry="1.8" transform="rotate(77,644.7,250.4)" fill="#e2609a" opacity="0.85"/>
<ellipse cx="632.4" cy="254.4" rx="1.8" ry="1.2" transform="rotate(86,632.4,254.4)" fill="#e2609a" opacity="0.85"/>
<ellipse cx="655.3" cy="252.0" rx="1.2" ry="1.7" transform="rotate(161,655.3,252.0)" fill="#e2609a" opacity="0.85"/>
<ellipse cx="646.7" cy="257.0" rx="2.6" ry="1.3" transform="rotate(90,646.7,257.0)" fill="#e2609a" opacity="0.85"/>
<ellipse cx="635.9" cy="240.7" rx="2.8" ry="0.8" transform="rotate(15,635.9,240.7)" fill="#e2609a" opacity="0.85"/>
<ellipse cx="656.2" cy="246.8" rx="1.2" ry="1.3" transform="rotate(160,656.2,246.8)" fill="#e2609a" opacity="0.85"/>
<ellipse cx="632.1" cy="253.4" rx="2.0" ry="1.2" transform="rotate(94,632.1,253.4)" fill="#e2609a" opacity="0.85"/>
<ellipse cx="644.4" cy="246.1" rx="1.8" ry="1.9" transform="rotate(26,644.4,246.1)" fill="#e2609a" opacity="0.85"/>
<ellipse cx="643.3" cy="235.7" rx="2.8" ry="1.2" transform="rotate(56,643.3,235.7)" fill="#e2609a" opacity="0.85"/>
<ellipse cx="639.4" cy="248.8" rx="1.8" ry="1.3" transform="rotate(173,639.4,248.8)" fill="#e2609a" opacity="0.85"/>
<ellipse cx="639.3" cy="251.7" rx="1.9" ry="1.3" transform="rotate(57,639.3,251.7)" fill="#e2609a" opacity="0.85"/>
<ellipse cx="635.9" cy="253.0" rx="3.1" ry="1.0" transform="rotate(86,635.9,253.0)" fill="#e2609a" opacity="0.85"/>
<ellipse cx="640.8" cy="247.9" rx="1.8" ry="1.9" transform="rotate(8,640.8,247.9)" fill="#e2609a" opacity="0.85"/>
<ellipse cx="625.2" cy="248.2" rx="1.6" ry="1.9" transform="rotate(147,625.2,248.2)" fill="#e2609a" opacity="0.85"/>
<ellipse cx="642.7" cy="254.6" rx="2.6" ry="1.9" transform="rotate(88,642.7,254.6)" fill="#e2609a" opacity="0.85"/>
<ellipse cx="621.9" cy="239.5" rx="2.1" ry="1.5" transform="rotate(69,621.9,239.5)" fill="#e2609a" opacity="0.85"/>
<ellipse cx="634.2" cy="252.5" rx="2.5" ry="0.8" transform="rotate(105,634.2,252.5)" fill="#e2609a" opacity="0.85"/>
<ellipse cx="645.4" cy="257.2" rx="1.2" ry="2.1" transform="rotate(159,645.4,257.2)" fill="#e2609a" opacity="0.85"/>
<ellipse cx="669.3" cy="248.8" rx="3.2" ry="1.1" transform="rotate(116,669.3,248.8)" fill="#e2609a" opacity="0.85"/>
<ellipse cx="647.4" cy="240.8" rx="2.7" ry="1.5" transform="rotate(73,647.4,240.8)" fill="#e2609a" opacity="0.85"/>
<ellipse cx="622.4" cy="246.0" rx="3.1" ry="2.2" transform="rotate(30,622.4,246.0)" fill="#e2609a" opacity="0.85"/>
<ellipse cx="646.9" cy="236.7" rx="1.3" ry="2.1" transform="rotate(177,646.9,236.7)" fill="#e2609a" opacity="0.85"/>
<ellipse cx="632.7" cy="250.4" rx="2.1" ry="0.9" transform="rotate(123,632.7,250.4)" fill="#e2609a" opacity="0.85"/>
<ellipse cx="640.3" cy="227.2" rx="1.6" ry="1.2" transform="rotate(169,640.3,227.2)" fill="#e2609a" opacity="0.85"/>
<ellipse cx="645.0" cy="251.5" rx="3.2" ry="1.0" transform="rotate(32,645.0,251.5)" fill="#e2609a" opacity="0.85"/>
<ellipse cx="641.0" cy="251.9" rx="3.1" ry="1.5" transform="rotate(15,641.0,251.9)" fill="#e2609a" opacity="0.85"/>
<ellipse cx="638.0" cy="254.9" rx="3.0" ry="1.0" transform="rotate(70,638.0,254.9)" fill="#e2609a" opacity="0.85"/>
<ellipse cx="654.0" cy="244.3" rx="3.0" ry="2.0" transform="rotate(1,654.0,244.3)" fill="#e2609a" opacity="0.85"/>
<ellipse cx="629.5" cy="251.9" rx="2.9" ry="1.1" transform="rotate(158,629.5,251.9)" fill="#e2609a" opacity="0.85"/>
<ellipse cx="635.6" cy="250.1" rx="2.1" ry="1.5" transform="rotate(0,635.6,250.1)" fill="#e2609a" opacity="0.85"/>
<ellipse cx="641.4" cy="250.5" rx="1.3" ry="1.5" transform="rotate(8,641.4,250.5)" fill="#e2609a" opacity="0.85"/>
<ellipse cx="643.3" cy="248.1" rx="1.4" ry="1.5" transform="rotate(80,643.3,248.1)" fill="#e2609a" opacity="0.85"/>
<ellipse cx="647.2" cy="260.0" rx="2.1" ry="1.2" transform="rotate(67,647.2,260.0)" fill="#e2609a" opacity="0.85"/>
<ellipse cx="643.0" cy="255.9" rx="1.9" ry="1.0" transform="rotate(142,643.0,255.9)" fill="#e2609a" opacity="0.85"/>
<ellipse cx="644.8" cy="251.1" rx="2.4" ry="0.9" transform="rotate(117,644.8,251.1)" fill="#e2609a" opacity="0.85"/>
<ellipse cx="623.4" cy="238.0" rx="2.9" ry="1.3" transform="rotate(11,623.4,238.0)" fill="#e2609a" opacity="0.85"/>
<ellipse cx="633.0" cy="243.6" rx="2.3" ry="1.8" transform="rotate(107,633.0,243.6)" fill="#e2609a" opacity="0.85"/>
<ellipse cx="645.8" cy="249.5" rx="2.1" ry="0.8" transform="rotate(55,645.8,249.5)" fill="#e2609a" opacity="0.85"/>
<ellipse cx="639.4" cy="250.6" rx="2.1" ry="1.4" transform="rotate(7,639.4,250.6)" fill="#e2609a" opacity="0.85"/>
<ellipse cx="645.2" cy="249.3" rx="2.0" ry="2.1" transform="rotate(67,645.2,249.3)" fill="#e2609a" opacity="0.85"/>
<ellipse cx="648.9" cy="258.2" rx="2.8" ry="2.0" transform="rotate(135,648.9,258.2)" fill="#e2609a" opacity="0.85"/>
<ellipse cx="648.3" cy="225.3" rx="2.7" ry="1.8" transform="rotate(144,648.3,225.3)" fill="#e2609a" opacity="0.85"/>
<ellipse cx="633.6" cy="249.6" rx="2.2" ry="1.1" transform="rotate(99,633.6,249.6)" fill="#e2609a" opacity="0.85"/>
<ellipse cx="658.9" cy="255.9" rx="1.4" ry="0.9" transform="rotate(96,658.9,255.9)" fill="#e2609a" opacity="0.85"/>
<ellipse cx="651.3" cy="271.7" rx="1.5" ry="2.0" transform="rotate(172,651.3,271.7)" fill="#e2609a" opacity="0.85"/>
<ellipse cx="637.5" cy="251.4" rx="2.7" ry="1.2" transform="rotate(76,637.5,251.4)" fill="#e2609a" opacity="0.85"/>
<ellipse cx="647.3" cy="231.8" rx="2.3" ry="1.8" transform="rotate(27,647.3,231.8)" fill="#e2609a" opacity="0.85"/>
<ellipse cx="636.4" cy="249.4" rx="1.4" ry="1.6" transform="rotate(140,636.4,249.4)" fill="#e2609a" opacity="0.85"/>
<ellipse cx="631.2" cy="269.7" rx="1.7" ry="1.1" transform="rotate(63,631.2,269.7)" fill="#e2609a" opacity="0.85"/>
<ellipse cx="632.1" cy="253.5" rx="2.7" ry="2.1" transform="rotate(64,632.1,253.5)" fill="#e2609a" opacity="0.85"/>
<ellipse cx="634.7" cy="257.6" rx="2.1" ry="0.9" transform="rotate(128,634.7,257.6)" fill="#e2609a" opacity="0.85"/>
<ellipse cx="641.7" cy="257.8" rx="3.2" ry="2.0" transform="rotate(41,641.7,257.8)" fill="#e2609a" opacity="0.85"/>
<ellipse cx="628.0" cy="258.4" rx="3.2" ry="1.8" transform="rotate(39,628.0,258.4)" fill="#e2609a" opacity="0.85"/>
<ellipse cx="636.7" cy="245.8" rx="3.2" ry="1.0" transform="rotate(24,636.7,245.8)" fill="#e2609a" opacity="0.85"/>
<ellipse cx="621.5" cy="251.2" rx="3.3" ry="1.6" transform="rotate(47,621.5,251.2)" fill="#e2609a" opacity="0.85"/>
<ellipse cx="642.3" cy="252.5" rx="2.9" ry="1.0" transform="rotate(131,642.3,252.5)" fill="#e2609a" opacity="0.85"/>
<ellipse cx="640.1" cy="252.9" rx="3.3" ry="1.2" transform="rotate(180,640.1,252.9)" fill="#e2609a" opacity="0.85"/>
<ellipse cx="652.8" cy="236.5" rx="2.5" ry="1.6" transform="rotate(68,652.8,236.5)" fill="#e2609a" opacity="0.85"/>
<ellipse cx="643.7" cy="248.8" rx="3.0" ry="1.1" transform="rotate(145,643.7,248.8)" fill="#e2609a" opacity="0.85"/>
<ellipse cx="635.0" cy="257.9" rx="1.9" ry="1.9" transform="rotate(36,635.0,257.9)" fill="#e2609a" opacity="0.85"/>
<ellipse cx="635.5" cy="254.0" rx="1.7" ry="1.6" transform="rotate(167,635.5,254.0)" fill="#e2609a" opacity="0.85"/>
<ellipse cx="623.6" cy="244.7" rx="2.3" ry="1.8" transform="rotate(102,623.6,244.7)" fill="#e2609a" opacity="0.85"/>
<ellipse cx="641.6" cy="248.3" rx="3.2" ry="2.0" transform="rotate(165,641.6,248.3)" fill="#e2609a" opacity="0.85"/>
<ellipse cx="640.5" cy="248.5" rx="2.7" ry="2.1" transform="rotate(65,640.5,248.5)" fill="#e2609a" opacity="0.85"/>
<ellipse cx="641.2" cy="254.5" rx="1.6" ry="1.8" transform="rotate(9,641.2,254.5)" fill="#e2609a" opacity="0.85"/>
<ellipse cx="648.3" cy="245.9" rx="1.8" ry="2.0" transform="rotate(80,648.3,245.9)" fill="#e2609a" opacity="0.85"/>
<ellipse cx="648.8" cy="267.6" rx="1.5" ry="1.2" transform="rotate(74,648.8,267.6)" fill="#e2609a" opacity="0.85"/>
<ellipse cx="652.9" cy="253.6" rx="2.2" ry="1.8" transform="rotate(86,652.9,253.6)" fill="#e2609a" opacity="0.85"/>
<circle cx="712.6" cy="223.0" r="0.7" fill="#d8508a" opacity="0.59"/>
<circle cx="729.2" cy="226.7" r="1.0" fill="#d8508a" opacity="0.56"/>
<circle cx="756.6" cy="194.8" r="0.6" fill="#d8508a" opacity="0.67"/>
<circle cx="721.2" cy="242.0" r="1.0" fill="#d8508a" opacity="0.44"/>
<circle cx="789.2" cy="185.1" r="0.9" fill="#d8508a" opacity="0.70"/>
<circle cx="736.2" cy="227.2" r="0.8" fill="#d8508a" opacity="0.72"/>
<circle cx="733.8" cy="231.5" r="1.0" fill="#d8508a" opacity="0.67"/>
<circle cx="756.0" cy="194.9" r="0.7" fill="#d8508a" opacity="0.54"/>
<circle cx="770.9" cy="209.0" r="0.8" fill="#d8508a" opacity="0.47"/>
<circle cx="764.9" cy="210.6" r="0.6" fill="#d8508a" opacity="0.76"/>
<circle cx="765.7" cy="189.8" r="1.0" fill="#d8508a" opacity="0.46"/>
<circle cx="739.2" cy="227.7" r="0.8" fill="#d8508a" opacity="0.62"/>
<circle cx="765.1" cy="203.5" r="0.7" fill="#d8508a" opacity="0.47"/>
<circle cx="717.6" cy="236.5" r="0.9" fill="#d8508a" opacity="0.62"/>
<circle cx="772.7" cy="195.1" r="0.6" fill="#d8508a" opacity="0.55"/>
<circle cx="783.5" cy="175.5" r="0.8" fill="#d8508a" opacity="0.50"/>
<circle cx="775.0" cy="193.4" r="0.7" fill="#d8508a" opacity="0.56"/>
<circle cx="756.4" cy="221.0" r="0.7" fill="#d8508a" opacity="0.74"/>
<circle cx="721.2" cy="217.3" r="0.5" fill="#d8508a" opacity="0.45"/>
<circle cx="775.9" cy="207.8" r="0.6" fill="#d8508a" opacity="0.48"/>
<circle cx="746.2" cy="225.2" r="0.9" fill="#d8508a" opacity="0.70"/>
<circle cx="760.5" cy="193.7" r="0.7" fill="#d8508a" opacity="0.48"/>
<circle cx="755.3" cy="213.5" r="0.6" fill="#d8508a" opacity="0.50"/>
<circle cx="776.1" cy="179.8" r="0.9" fill="#d8508a" opacity="0.76"/>
<circle cx="789.8" cy="185.0" r="0.8" fill="#d8508a" opacity="0.63"/>
<circle cx="764.0" cy="225.0" r="0.8" fill="#d8508a" opacity="0.52"/>
<circle cx="782.5" cy="193.9" r="0.8" fill="#d8508a" opacity="0.69"/>
<circle cx="712.2" cy="240.6" r="0.8" fill="#d8508a" opacity="0.60"/>
<circle cx="754.9" cy="209.3" r="0.6" fill="#d8508a" opacity="0.61"/>
<circle cx="715.0" cy="228.8" r="0.8" fill="#d8508a" opacity="0.58"/>
<circle cx="758.4" cy="227.4" r="0.9" fill="#d8508a" opacity="0.45"/>
<circle cx="777.0" cy="203.0" r="0.5" fill="#d8508a" opacity="0.54"/>
<circle cx="731.1" cy="205.6" r="0.8" fill="#d8508a" opacity="0.77"/>
<circle cx="738.5" cy="234.0" r="0.8" fill="#d8508a" opacity="0.45"/>
<circle cx="782.4" cy="198.7" r="1.0" fill="#d8508a" opacity="0.69"/>
<circle cx="772.7" cy="194.5" r="0.9" fill="#d8508a" opacity="0.77"/>
<circle cx="782.6" cy="191.9" r="0.9" fill="#d8508a" opacity="0.59"/>
<circle cx="720.9" cy="208.3" r="0.5" fill="#d8508a" opacity="0.48"/>
<circle cx="725.2" cy="224.8" r="0.8" fill="#d8508a" opacity="0.61"/>
<circle cx="746.6" cy="221.2" r="0.7" fill="#d8508a" opacity="0.59"/>
<circle cx="774.1" cy="195.9" r="0.6" fill="#d8508a" opacity="0.76"/>
<circle cx="771.0" cy="196.4" r="0.7" fill="#d8508a" opacity="0.61"/>
<circle cx="760.9" cy="196.6" r="0.5" fill="#d8508a" opacity="0.48"/>
<circle cx="776.2" cy="184.3" r="0.7" fill="#d8508a" opacity="0.48"/>
<circle cx="729.2" cy="210.1" r="0.7" fill="#d8508a" opacity="0.47"/>
<circle cx="714.3" cy="213.4" r="0.6" fill="#d8508a" opacity="0.60"/>
<circle cx="716.9" cy="209.0" r="0.7" fill="#d8508a" opacity="0.56"/>
<circle cx="769.7" cy="184.6" r="0.7" fill="#d8508a" opacity="0.56"/>
<circle cx="714.2" cy="247.7" r="0.6" fill="#d8508a" opacity="0.44"/>
<circle cx="750.9" cy="199.6" r="0.8" fill="#d8508a" opacity="0.54"/>
<circle cx="722.2" cy="208.2" r="0.9" fill="#d8508a" opacity="0.51"/>
<circle cx="776.6" cy="196.9" r="1.0" fill="#d8508a" opacity="0.52"/>
<circle cx="732.5" cy="212.5" r="0.9" fill="#d8508a" opacity="0.65"/>
<circle cx="740.3" cy="202.1" r="0.8" fill="#d8508a" opacity="0.79"/>
<circle cx="760.6" cy="188.0" r="0.5" fill="#d8508a" opacity="0.44"/>
<circle cx="726.0" cy="206.1" r="0.5" fill="#d8508a" opacity="0.66"/>
<circle cx="785.8" cy="180.4" r="1.0" fill="#d8508a" opacity="0.59"/>
<circle cx="777.9" cy="214.2" r="1.0" fill="#d8508a" opacity="0.41"/>
<circle cx="737.0" cy="224.1" r="1.0" fill="#d8508a" opacity="0.44"/>
<circle cx="736.1" cy="234.3" r="0.6" fill="#d8508a" opacity="0.56"/>
<circle cx="739.4" cy="225.9" r="1.0" fill="#d8508a" opacity="0.47"/>
<circle cx="772.7" cy="210.1" r="0.9" fill="#d8508a" opacity="0.62"/>
<circle cx="787.7" cy="185.6" r="0.7" fill="#d8508a" opacity="0.49"/>
<circle cx="775.9" cy="197.9" r="0.6" fill="#d8508a" opacity="0.47"/>
<circle cx="771.1" cy="205.9" r="0.9" fill="#d8508a" opacity="0.55"/>
<circle cx="751.9" cy="198.7" r="0.9" fill="#d8508a" opacity="0.41"/>
<circle cx="750.3" cy="223.7" r="0.8" fill="#d8508a" opacity="0.44"/>
<circle cx="731.4" cy="236.1" r="0.8" fill="#d8508a" opacity="0.75"/>
<circle cx="783.5" cy="191.9" r="0.9" fill="#d8508a" opacity="0.69"/>
<circle cx="739.4" cy="213.6" r="0.5" fill="#d8508a" opacity="0.56"/>
<circle cx="790.4" cy="173.5" r="0.8" fill="#d8508a" opacity="0.44"/>
<circle cx="718.6" cy="233.4" r="0.6" fill="#d8508a" opacity="0.42"/>
<circle cx="724.5" cy="231.0" r="0.8" fill="#d8508a" opacity="0.40"/>
<circle cx="730.9" cy="241.3" r="0.6" fill="#d8508a" opacity="0.62"/>
<circle cx="746.4" cy="226.6" r="0.8" fill="#d8508a" opacity="0.72"/>
<circle cx="755.9" cy="197.9" r="0.6" fill="#d8508a" opacity="0.43"/>
<circle cx="779.7" cy="180.8" r="0.5" fill="#d8508a" opacity="0.79"/>
<circle cx="728.3" cy="239.4" r="0.5" fill="#d8508a" opacity="0.59"/>
<circle cx="730.3" cy="236.0" r="0.8" fill="#d8508a" opacity="0.66"/>
<circle cx="774.4" cy="214.5" r="0.7" fill="#d8508a" opacity="0.64"/>
<circle cx="748.5" cy="198.7" r="0.9" fill="#d8508a" opacity="0.64"/>
<circle cx="778.8" cy="185.1" r="0.8" fill="#d8508a" opacity="0.59"/>
<circle cx="771.7" cy="184.4" r="0.7" fill="#d8508a" opacity="0.59"/>
<circle cx="717.9" cy="229.8" r="0.9" fill="#d8508a" opacity="0.57"/>
<circle cx="765.2" cy="209.4" r="0.6" fill="#d8508a" opacity="0.54"/>
<circle cx="793.7" cy="180.5" r="0.7" fill="#d8508a" opacity="0.43"/>
<circle cx="729.9" cy="209.6" r="1.0" fill="#d8508a" opacity="0.69"/>
<circle cx="783.7" cy="213.2" r="0.8" fill="#d8508a" opacity="0.77"/>
<circle cx="755.9" cy="207.1" r="1.0" fill="#d8508a" opacity="0.76"/>
<circle cx="789.9" cy="189.0" r="0.9" fill="#d8508a" opacity="0.56"/>
<circle cx="793.8" cy="203.8" r="0.6" fill="#d8508a" opacity="0.77"/>
<circle cx="727.1" cy="208.0" r="0.9" fill="#d8508a" opacity="0.52"/>
<circle cx="754.6" cy="216.7" r="0.5" fill="#d8508a" opacity="0.70"/>
<circle cx="734.6" cy="218.2" r="0.7" fill="#d8508a" opacity="0.70"/>
<circle cx="773.2" cy="191.9" r="0.6" fill="#d8508a" opacity="0.52"/>
<circle cx="745.7" cy="198.8" r="0.6" fill="#d8508a" opacity="0.71"/>
<circle cx="769.4" cy="221.7" r="1.0" fill="#d8508a" opacity="0.75"/>
<circle cx="742.6" cy="203.7" r="0.7" fill="#d8508a" opacity="0.59"/>
<circle cx="755.1" cy="212.5" r="0.7" fill="#d8508a" opacity="0.74"/>
<circle cx="735.4" cy="219.1" r="0.9" fill="#d8508a" opacity="0.72"/>
<circle cx="736.4" cy="209.8" r="0.9" fill="#d8508a" opacity="0.40"/>
<circle cx="722.8" cy="227.1" r="0.8" fill="#d8508a" opacity="0.47"/>
<circle cx="716.1" cy="216.5" r="0.9" fill="#d8508a" opacity="0.59"/>
<circle cx="792.3" cy="199.4" r="1.0" fill="#d8508a" opacity="0.41"/>
<circle cx="727.2" cy="204.6" r="0.7" fill="#d8508a" opacity="0.54"/>
<circle cx="716.2" cy="230.2" r="0.5" fill="#d8508a" opacity="0.52"/>
<circle cx="732.3" cy="234.0" r="0.7" fill="#d8508a" opacity="0.50"/>
<circle cx="715.6" cy="225.7" r="0.8" fill="#d8508a" opacity="0.67"/>
<circle cx="786.8" cy="204.0" r="0.6" fill="#d8508a" opacity="0.45"/>
<circle cx="774.2" cy="211.4" r="0.8" fill="#d8508a" opacity="0.73"/>
<circle cx="757.3" cy="200.8" r="0.6" fill="#d8508a" opacity="0.41"/>
<circle cx="764.7" cy="221.3" r="1.0" fill="#d8508a" opacity="0.59"/>
<circle cx="766.6" cy="221.5" r="0.9" fill="#d8508a" opacity="0.64"/>
<circle cx="746.0" cy="216.3" r="0.6" fill="#d8508a" opacity="0.47"/>
<circle cx="768.1" cy="223.2" r="0.8" fill="#d8508a" opacity="0.56"/>
<circle cx="740.9" cy="216.2" r="0.9" fill="#d8508a" opacity="0.58"/>
<circle cx="790.7" cy="175.3" r="0.7" fill="#d8508a" opacity="0.61"/>
<circle cx="745.8" cy="229.7" r="0.9" fill="#d8508a" opacity="0.77"/>
<circle cx="762.2" cy="188.1" r="0.8" fill="#d8508a" opacity="0.62"/>
<circle cx="752.0" cy="203.7" r="0.9" fill="#d8508a" opacity="0.76"/>
<circle cx="720.4" cy="233.5" r="0.7" fill="#d8508a" opacity="0.61"/>
<circle cx="785.4" cy="211.0" r="0.8" fill="#d8508a" opacity="0.48"/>
<circle cx="787.5" cy="178.5" r="0.7" fill="#d8508a" opacity="0.73"/>
<circle cx="737.9" cy="210.3" r="1.0" fill="#d8508a" opacity="0.78"/>
<circle cx="738.0" cy="215.1" r="0.6" fill="#d8508a" opacity="0.45"/>
<circle cx="732.5" cy="241.1" r="0.5" fill="#d8508a" opacity="0.49"/>
<circle cx="728.4" cy="206.8" r="0.8" fill="#d8508a" opacity="0.70"/>
<circle cx="780.7" cy="200.9" r="0.9" fill="#d8508a" opacity="0.40"/>
<circle cx="735.1" cy="239.1" r="0.5" fill="#d8508a" opacity="0.51"/>
<circle cx="751.6" cy="203.4" r="0.8" fill="#d8508a" opacity="0.42"/>
<circle cx="731.3" cy="240.7" r="0.6" fill="#d8508a" opacity="0.76"/>
<circle cx="726.6" cy="244.1" r="0.8" fill="#d8508a" opacity="0.66"/>
<circle cx="723.7" cy="207.7" r="0.9" fill="#d8508a" opacity="0.47"/>
<circle cx="727.5" cy="236.9" r="0.9" fill="#d8508a" opacity="0.42"/>
<circle cx="790.8" cy="190.4" r="0.7" fill="#d8508a" opacity="0.44"/>
<circle cx="744.0" cy="236.0" r="0.6" fill="#d8508a" opacity="0.45"/>
<circle cx="723.9" cy="210.5" r="0.7" fill="#d8508a" opacity="0.77"/>
<circle cx="718.3" cy="215.3" r="1.0" fill="#d8508a" opacity="0.80"/>
<circle cx="792.4" cy="177.8" r="0.7" fill="#d8508a" opacity="0.78"/>
<circle cx="751.8" cy="220.7" r="0.7" fill="#d8508a" opacity="0.41"/>
<circle cx="740.3" cy="228.2" r="0.9" fill="#d8508a" opacity="0.63"/>
<circle cx="750.1" cy="215.0" r="0.7" fill="#d8508a" opacity="0.61"/>
<circle cx="780.3" cy="184.0" r="0.8" fill="#d8508a" opacity="0.77"/>
<circle cx="781.6" cy="182.3" r="1.0" fill="#d8508a" opacity="0.74"/>
<circle cx="725.8" cy="215.3" r="0.6" fill="#d8508a" opacity="0.42"/>
<circle cx="792.2" cy="184.4" r="0.9" fill="#d8508a" opacity="0.45"/>
<circle cx="713.1" cy="244.2" r="0.9" fill="#d8508a" opacity="0.80"/>
<circle cx="768.2" cy="204.4" r="0.9" fill="#d8508a" opacity="0.44"/>
<circle cx="756.3" cy="207.8" r="0.6" fill="#d8508a" opacity="0.64"/>
<circle cx="738.5" cy="219.4" r="0.7" fill="#d8508a" opacity="0.53"/>
<circle cx="741.4" cy="221.8" r="1.0" fill="#d8508a" opacity="0.77"/>
<circle cx="782.7" cy="207.8" r="0.6" fill="#d8508a" opacity="0.79"/>
<circle cx="734.1" cy="206.1" r="0.8" fill="#d8508a" opacity="0.69"/>
<circle cx="740.0" cy="224.3" r="0.6" fill="#d8508a" opacity="0.79"/>
<circle cx="749.1" cy="213.1" r="0.8" fill="#d8508a" opacity="0.75"/>
<circle cx="792.9" cy="188.7" r="0.7" fill="#d8508a" opacity="0.65"/>
<circle cx="717.7" cy="224.8" r="0.9" fill="#d8508a" opacity="0.71"/>
<circle cx="716.9" cy="242.3" r="0.7" fill="#d8508a" opacity="0.79"/>
<circle cx="742.1" cy="206.1" r="0.8" fill="#d8508a" opacity="0.75"/>
<circle cx="747.3" cy="229.6" r="0.9" fill="#d8508a" opacity="0.54"/>
<circle cx="736.6" cy="220.2" r="0.7" fill="#d8508a" opacity="0.55"/>
<circle cx="765.4" cy="220.0" r="0.8" fill="#d8508a" opacity="0.46"/>
<circle cx="730.0" cy="217.8" r="0.8" fill="#d8508a" opacity="0.46"/>
<circle cx="718.7" cy="220.3" r="0.6" fill="#d8508a" opacity="0.41"/>
<circle cx="756.2" cy="227.1" r="0.8" fill="#d8508a" opacity="0.69"/>
<circle cx="779.9" cy="209.7" r="1.0" fill="#d8508a" opacity="0.58"/>
<circle cx="768.0" cy="188.4" r="0.9" fill="#d8508a" opacity="0.55"/>
<circle cx="751.0" cy="228.6" r="0.6" fill="#d8508a" opacity="0.48"/>
<circle cx="779.5" cy="200.4" r="0.5" fill="#d8508a" opacity="0.41"/>
<circle cx="740.8" cy="198.4" r="0.9" fill="#d8508a" opacity="0.47"/>
<circle cx="734.5" cy="216.5" r="0.8" fill="#d8508a" opacity="0.57"/>
<circle cx="763.6" cy="212.5" r="0.7" fill="#d8508a" opacity="0.44"/>
<circle cx="792.3" cy="195.7" r="0.5" fill="#d8508a" opacity="0.58"/>
<circle cx="773.8" cy="219.7" r="0.5" fill="#d8508a" opacity="0.40"/>
<circle cx="751.4" cy="209.7" r="0.9" fill="#d8508a" opacity="0.73"/>
<circle cx="739.2" cy="215.6" r="0.8" fill="#d8508a" opacity="0.75"/>
<circle cx="728.6" cy="219.2" r="0.5" fill="#d8508a" opacity="0.66"/>
<circle cx="714.2" cy="246.5" r="0.8" fill="#d8508a" opacity="0.63"/>
<circle cx="719.0" cy="216.6" r="0.7" fill="#d8508a" opacity="0.74"/>
<circle cx="756.2" cy="201.6" r="1.0" fill="#d8508a" opacity="0.66"/>
<circle cx="755.3" cy="198.8" r="0.6" fill="#d8508a" opacity="0.76"/>
<circle cx="722.9" cy="227.1" r="0.8" fill="#d8508a" opacity="0.54"/>
<circle cx="775.0" cy="215.7" r="0.9" fill="#d8508a" opacity="0.70"/>
<circle cx="728.7" cy="205.9" r="0.7" fill="#d8508a" opacity="0.52"/>
<circle cx="727.9" cy="238.7" r="0.6" fill="#d8508a" opacity="0.73"/>
<circle cx="788.9" cy="175.1" r="1.0" fill="#d8508a" opacity="0.56"/>
<circle cx="729.4" cy="210.7" r="0.5" fill="#d8508a" opacity="0.60"/>
<circle cx="743.5" cy="230.8" r="0.9" fill="#d8508a" opacity="0.42"/>
<circle cx="744.9" cy="211.7" r="0.6" fill="#d8508a" opacity="0.50"/>
<circle cx="733.6" cy="229.1" r="0.7" fill="#d8508a" opacity="0.44"/>
<circle cx="730.1" cy="220.6" r="0.8" fill="#d8508a" opacity="0.50"/>
<circle cx="769.4" cy="191.3" r="0.8" fill="#d8508a" opacity="0.64"/>
<circle cx="726.4" cy="234.5" r="0.7" fill="#d8508a" opacity="0.62"/>
<circle cx="761.0" cy="212.7" r="0.7" fill="#d8508a" opacity="0.42"/>
<circle cx="776.5" cy="212.7" r="0.7" fill="#d8508a" opacity="0.63"/>
<circle cx="734.0" cy="237.1" r="0.8" fill="#d8508a" opacity="0.49"/>
<circle cx="779.0" cy="216.2" r="0.7" fill="#d8508a" opacity="0.80"/>
<circle cx="751.6" cy="199.8" r="0.9" fill="#d8508a" opacity="0.54"/>
<circle cx="772.1" cy="204.4" r="0.6" fill="#d8508a" opacity="0.61"/>
<circle cx="781.8" cy="194.1" r="0.8" fill="#d8508a" opacity="0.75"/>
<circle cx="748.6" cy="213.9" r="0.8" fill="#d8508a" opacity="0.73"/>
<circle cx="728.7" cy="207.2" r="0.9" fill="#d8508a" opacity="0.62"/>
<circle cx="736.8" cy="235.6" r="0.9" fill="#d8508a" opacity="0.62"/>
<circle cx="793.1" cy="200.9" r="0.9" fill="#d8508a" opacity="0.52"/>
<circle cx="712.9" cy="236.6" r="0.9" fill="#d8508a" opacity="0.54"/>
<circle cx="751.3" cy="215.5" r="0.6" fill="#d8508a" opacity="0.68"/>
<circle cx="758.1" cy="204.6" r="0.6" fill="#d8508a" opacity="0.62"/>
<circle cx="738.2" cy="228.3" r="0.6" fill="#d8508a" opacity="0.56"/>
<circle cx="728.1" cy="220.1" r="0.8" fill="#d8508a" opacity="0.44"/>
<circle cx="716.5" cy="227.5" r="0.6" fill="#d8508a" opacity="0.60"/>
<circle cx="725.7" cy="208.7" r="0.8" fill="#d8508a" opacity="0.77"/>
<circle cx="783.2" cy="194.7" r="0.7" fill="#d8508a" opacity="0.43"/>
<circle cx="734.7" cy="213.5" r="1.0" fill="#d8508a" opacity="0.45"/>
<circle cx="789.7" cy="188.8" r="0.7" fill="#d8508a" opacity="0.50"/>
<circle cx="790.9" cy="176.4" r="0.8" fill="#d8508a" opacity="0.60"/>
<circle cx="728.4" cy="212.5" r="1.0" fill="#d8508a" opacity="0.72"/>
<circle cx="772.1" cy="217.2" r="0.5" fill="#d8508a" opacity="0.68"/>
<circle cx="773.5" cy="189.2" r="0.7" fill="#d8508a" opacity="0.79"/>
<circle cx="738.8" cy="229.5" r="0.6" fill="#d8508a" opacity="0.67"/>
<circle cx="734.1" cy="221.5" r="0.7" fill="#d8508a" opacity="0.75"/>
<circle cx="773.1" cy="200.6" r="0.8" fill="#d8508a" opacity="0.57"/>
<circle cx="778.0" cy="187.7" r="0.8" fill="#d8508a" opacity="0.63"/>
<circle cx="743.8" cy="198.5" r="0.6" fill="#d8508a" opacity="0.66"/>
<circle cx="729.3" cy="233.5" r="0.8" fill="#d8508a" opacity="0.78"/>
<circle cx="781.5" cy="204.3" r="0.7" fill="#d8508a" opacity="0.42"/>
<circle cx="757.6" cy="219.3" r="1.0" fill="#d8508a" opacity="0.48"/>
<circle cx="725.0" cy="244.2" r="0.9" fill="#d8508a" opacity="0.59"/>
<circle cx="772.6" cy="186.8" r="0.8" fill="#d8508a" opacity="0.67"/>
<circle cx="761.5" cy="193.7" r="0.6" fill="#d8508a" opacity="0.65"/>
<circle cx="784.5" cy="178.7" r="0.5" fill="#d8508a" opacity="0.43"/>
<circle cx="776.4" cy="194.1" r="0.7" fill="#d8508a" opacity="0.80"/>
<circle cx="762.1" cy="197.5" r="0.9" fill="#d8508a" opacity="0.40"/>
<circle cx="735.1" cy="228.7" r="0.6" fill="#d8508a" opacity="0.41"/>
<circle cx="754.5" cy="204.3" r="1.0" fill="#d8508a" opacity="0.44"/>
<circle cx="777.8" cy="193.1" r="0.9" fill="#d8508a" opacity="0.58"/>
<circle cx="766.7" cy="197.3" r="0.6" fill="#d8508a" opacity="0.58"/>
<circle cx="777.6" cy="191.5" r="0.6" fill="#d8508a" opacity="0.57"/>
<circle cx="719.9" cy="219.6" r="0.8" fill="#d8508a" opacity="0.62"/>
<circle cx="761.0" cy="199.2" r="0.5" fill="#d8508a" opacity="0.41"/>
<circle cx="739.8" cy="206.4" r="0.8" fill="#d8508a" opacity="0.51"/>
<circle cx="774.5" cy="203.7" r="0.8" fill="#d8508a" opacity="0.69"/>
<circle cx="754.8" cy="208.1" r="0.7" fill="#d8508a" opacity="0.43"/>
<circle cx="777.1" cy="198.0" r="0.5" fill="#d8508a" opacity="0.77"/>
<circle cx="759.7" cy="213.2" r="0.7" fill="#d8508a" opacity="0.45"/>
<circle cx="794.0" cy="173.6" r="0.7" fill="#d8508a" opacity="0.80"/>
<circle cx="722.0" cy="226.2" r="0.7" fill="#d8508a" opacity="0.50"/>
<circle cx="787.8" cy="187.6" r="0.5" fill="#d8508a" opacity="0.59"/>
<circle cx="712.4" cy="238.0" r="0.9" fill="#d8508a" opacity="0.76"/>
<circle cx="715.9" cy="235.4" r="0.7" fill="#d8508a" opacity="0.59"/>
<circle cx="736.6" cy="212.2" r="0.6" fill="#d8508a" opacity="0.65"/>
<circle cx="719.3" cy="245.8" r="0.5" fill="#d8508a" opacity="0.79"/>
<circle cx="727.7" cy="207.2" r="0.9" fill="#d8508a" opacity="0.61"/>
<circle cx="775.1" cy="199.6" r="0.8" fill="#d8508a" opacity="0.43"/>
<circle cx="767.3" cy="204.5" r="1.0" fill="#d8508a" opacity="0.40"/>
<circle cx="717.6" cy="234.9" r="1.0" fill="#d8508a" opacity="0.57"/>
<circle cx="770.3" cy="204.6" r="0.7" fill="#d8508a" opacity="0.59"/>
<circle cx="761.3" cy="188.5" r="0.7" fill="#d8508a" opacity="0.70"/>
<circle cx="733.2" cy="220.5" r="0.6" fill="#d8508a" opacity="0.54"/>
<circle cx="765.3" cy="214.8" r="1.0" fill="#d8508a" opacity="0.59"/>
<circle cx="728.6" cy="217.0" r="0.5" fill="#d8508a" opacity="0.50"/>
<circle cx="759.9" cy="212.6" r="0.6" fill="#d8508a" opacity="0.47"/>
<circle cx="720.0" cy="214.1" r="0.8" fill="#d8508a" opacity="0.50"/>
<circle cx="784.5" cy="195.8" r="0.7" fill="#d8508a" opacity="0.57"/>
<circle cx="715.3" cy="238.0" r="0.9" fill="#d8508a" opacity="0.55"/>
<circle cx="771.5" cy="192.3" r="0.6" fill="#d8508a" opacity="0.49"/>
<circle cx="728.1" cy="228.0" r="0.8" fill="#d8508a" opacity="0.69"/>
<circle cx="720.5" cy="237.4" r="0.7" fill="#d8508a" opacity="0.55"/>
<circle cx="753.3" cy="209.1" r="0.6" fill="#d8508a" opacity="0.56"/>
<circle cx="765.0" cy="213.9" r="1.0" fill="#d8508a" opacity="0.48"/>
<circle cx="785.1" cy="204.9" r="0.9" fill="#d8508a" opacity="0.79"/>
<circle cx="723.3" cy="236.7" r="0.9" fill="#d8508a" opacity="0.45"/>
<circle cx="760.8" cy="225.6" r="0.6" fill="#d8508a" opacity="0.74"/>
<circle cx="786.3" cy="189.4" r="0.6" fill="#d8508a" opacity="0.49"/>
<circle cx="780.0" cy="193.0" r="0.7" fill="#d8508a" opacity="0.58"/>
<circle cx="788.1" cy="181.0" r="0.5" fill="#d8508a" opacity="0.78"/>
<circle cx="738.0" cy="214.8" r="1.0" fill="#d8508a" opacity="0.51"/>
<circle cx="719.0" cy="242.8" r="0.6" fill="#d8508a" opacity="0.49"/>
<circle cx="788.9" cy="179.5" r="1.0" fill="#d8508a" opacity="0.53"/>
<circle cx="736.9" cy="208.5" r="0.8" fill="#d8508a" opacity="0.62"/>
<circle cx="744.7" cy="216.5" r="0.6" fill="#d8508a" opacity="0.74"/>
<circle cx="788.6" cy="200.7" r="0.9" fill="#d8508a" opacity="0.43"/>
<circle cx="732.5" cy="210.0" r="0.6" fill="#d8508a" opacity="0.79"/>
<circle cx="786.2" cy="208.7" r="0.8" fill="#d8508a" opacity="0.45"/>
<circle cx="747.0" cy="197.3" r="1.0" fill="#d8508a" opacity="0.51"/>
<circle cx="735.6" cy="238.3" r="0.6" fill="#d8508a" opacity="0.77"/>
<circle cx="737.5" cy="226.2" r="0.6" fill="#d8508a" opacity="0.76"/>
<circle cx="744.7" cy="210.0" r="0.8" fill="#d8508a" opacity="0.64"/>
<circle cx="732.6" cy="206.8" r="0.8" fill="#d8508a" opacity="0.41"/>
<circle cx="783.5" cy="187.7" r="0.6" fill="#d8508a" opacity="0.53"/>
<circle cx="721.3" cy="219.1" r="0.8" fill="#d8508a" opacity="0.56"/>
<circle cx="739.4" cy="210.4" r="0.7" fill="#d8508a" opacity="0.71"/>
<circle cx="747.9" cy="225.3" r="0.7" fill="#d8508a" opacity="0.45"/>
<circle cx="726.0" cy="238.5" r="0.7" fill="#d8508a" opacity="0.55"/>
<circle cx="754.3" cy="225.1" r="0.7" fill="#d8508a" opacity="0.54"/>
<circle cx="742.0" cy="197.9" r="0.8" fill="#d8508a" opacity="0.59"/>
<circle cx="752.7" cy="210.2" r="0.7" fill="#d8508a" opacity="0.69"/>
<circle cx="727.3" cy="243.3" r="0.6" fill="#d8508a" opacity="0.75"/>
<circle cx="726.4" cy="236.3" r="0.6" fill="#d8508a" opacity="0.43"/>
<circle cx="756.3" cy="223.7" r="0.9" fill="#d8508a" opacity="0.75"/>
<circle cx="792.3" cy="170.1" r="0.7" fill="#d8508a" opacity="0.44"/>
</g>
<defs><clipPath id="iac"><rect x="467.3" y="88" width="332" height="238"/></clipPath></defs><g clip-path="url(#iac)" fill="none">
<circle cx="632.8" cy="326.7" r="3" stroke="#36d15a" stroke-opacity="0.5" stroke-width="1.5"/>
<circle cx="632.8" cy="326.7" r="11" stroke="#36d15a" stroke-opacity="0.8" stroke-width="2.2"/>
<circle cx="632.8" cy="326.7" r="21" stroke="#36d15a" stroke-opacity="0.8" stroke-width="2.5"/>
<circle cx="632.8" cy="326.7" r="34" stroke="#36d15a" stroke-opacity="0.8" stroke-width="2.8"/>
<circle cx="632.8" cy="326.7" r="51" stroke="#36d15a" stroke-opacity="0.75" stroke-width="2.8"/>
<circle cx="632.8" cy="326.7" r="72" stroke="#36d15a" stroke-opacity="0.65" stroke-width="2.6"/>
<circle cx="632.8" cy="326.7" r="95" stroke="#36d15a" stroke-opacity="0.5" stroke-width="2.4"/>
<circle cx="632.8" cy="326.7" r="119" stroke="#36d15a" stroke-opacity="0.38" stroke-width="2.2"/>
<circle cx="632.8" cy="326.7" r="149" stroke="#36d15a" stroke-opacity="0.22" stroke-width="1.8"/>
<circle cx="632.8" cy="326.7" r="184" stroke="#36d15a" stroke-opacity="0.1" stroke-width="1.5"/>
</g>
<rect x="466.2" y="87" width="334.2" height="239.7" fill="none" stroke="#000" stroke-width="2.8" stroke-dasharray="10,6"/>
<rect x="952.8" y="89.7" width="309.8" height="309.2" fill="none" stroke="#000" stroke-width="2.8"/>
<rect x="960.3" y="335.9" width="69.5" height="41.3" fill="#fff" stroke="#333" stroke-width="1.3"/>
<defs><linearGradient id="capg" x1="0" y1="0" x2="0" y2="1"><stop offset="0" stop-color="#a6e0f6"/><stop offset="0.25" stop-color="#6fcdf1"/><stop offset="0.8" stop-color="#62c6ee"/><stop offset="1" stop-color="#4db5e2"/></linearGradient>
<radialGradient id="spray" cx="0.1" cy="0.5" r="0.9"><stop offset="0" stop-color="#7fd6f2" stop-opacity="0.95"/><stop offset="0.5" stop-color="#bfe6f2" stop-opacity="0.7"/><stop offset="1" stop-color="#e8eef0" stop-opacity="0"/></radialGradient>
<linearGradient id="cone" x1="0" y1="0" x2="0" y2="1"><stop offset="0" stop-color="#8a8a8a"/><stop offset="0.1" stop-color="#c8c8c8"/><stop offset="0.25" stop-color="#e0e0e0"/><stop offset="0.34" stop-color="#bcbcbc"/><stop offset="0.4" stop-color="#4a4a4a"/><stop offset="0.55" stop-color="#3a3a3a"/><stop offset="0.63" stop-color="#8a8a8a"/><stop offset="0.72" stop-color="#d6d6d6"/><stop offset="0.88" stop-color="#b8b8b8"/><stop offset="1" stop-color="#5a5a5a"/></linearGradient>
<linearGradient id="nozz" x1="0" y1="0" x2="0" y2="1"><stop offset="0" stop-color="#7c7c7c"/><stop offset="0.3" stop-color="#b0b0b0"/><stop offset="0.6" stop-color="#8a8a8a"/><stop offset="1" stop-color="#6a6a6a"/></linearGradient>
<linearGradient id="gold" x1="0" y1="0" x2="1" y2="0"><stop offset="0" stop-color="#9c8030"/><stop offset="0.5" stop-color="#e6cf88"/><stop offset="1" stop-color="#a08434"/></linearGradient></defs>
<path d="M954.2,257 L1099.3,267.5 L1099.3,281.8 L954.2,292.4 Z" fill="url(#capg)"/>
<path d="M954.2,292.4 L1099.3,281.8" stroke="#3aa4d4" stroke-width="1.2"/>
<rect x="1096" y="267.5" width="3.5" height="14.3" fill="#4fb3de" stroke="#2c7da6" stroke-width="0.6"/>
<defs><radialGradient id="mist" cx="1100" cy="275" r="150" gradientUnits="userSpaceOnUse"><stop offset="0" stop-color="#cfe6ee" stop-opacity="0.9"/><stop offset="0.55" stop-color="#dde6ea" stop-opacity="0.6"/><stop offset="1" stop-color="#eef1f2" stop-opacity="0"/></radialGradient>
<radialGradient id="core" cx="1100" cy="275" r="95" gradientUnits="userSpaceOnUse"><stop offset="0" stop-color="#72d2f2" stop-opacity="1"/><stop offset="0.6" stop-color="#a6e0f2" stop-opacity="0.75"/><stop offset="1" stop-color="#c8ebf5" stop-opacity="0"/></radialGradient></defs>
<filter id="blur2" x="-20%" y="-20%" width="140%" height="140%"><feGaussianBlur stdDeviation="2"/></filter><filter id="blur5" x="-20%" y="-20%" width="140%" height="140%"><feGaussianBlur stdDeviation="5"/></filter><path d="M1102,275 L1192,232 Q1210,275 1192,318 Z" fill="url(#mist)" filter="url(#blur5)"/>
<path d="M1100,275 L1185,250 Q1195,275 1185,300 Z" fill="url(#core)" filter="url(#blur2)"/><path d="M1100,274 L1165,259 Q1172,275 1165,291 L1100,276 Z" fill="#8fdcf4" opacity="0.6" filter="url(#blur2)"/>
<polygon points="1203,254 1261,206 1261,336 1203,284.5" fill="url(#cone)"/>
<line x1="1203" y1="254" x2="1261" y2="206" stroke="#555" stroke-width="1.5"/>
<line x1="1203" y1="284.5" x2="1261" y2="336" stroke="#444" stroke-width="1.5"/>
<rect x="1183.2" y="255" width="20" height="29.2" rx="2" fill="url(#nozz)"/>
<g>
<circle cx="1149.4" cy="269.5" r="0.48" fill="#d23a68" opacity="0.75"/>
<circle cx="1218.6" cy="241.3" r="0.58" fill="#d23a68" opacity="0.47"/>
<circle cx="1110.1" cy="273.0" r="0.68" fill="#d23a68" opacity="0.47"/>
<circle cx="1159.4" cy="287.2" r="0.75" fill="#d23a68" opacity="0.72"/>
<circle cx="1224.1" cy="269.9" r="0.57" fill="#d23a68" opacity="0.41"/>
<circle cx="1230.3" cy="270.2" r="0.45" fill="#d23a68" opacity="0.76"/>
<circle cx="1142.7" cy="284.0" r="0.52" fill="#8c9aa2" opacity="0.59"/>
<circle cx="1152.8" cy="269.7" r="0.70" fill="#d23a68" opacity="0.47"/>
<circle cx="1216.3" cy="291.7" r="0.66" fill="#b0dbe8" opacity="0.73"/>
<circle cx="1198.4" cy="333.2" r="0.44" fill="#8c9aa2" opacity="0.59"/>
<circle cx="1220.2" cy="292.4" r="0.54" fill="#b0dbe8" opacity="0.53"/>
<circle cx="1185.4" cy="316.6" r="0.75" fill="#d23a68" opacity="0.54"/>
<circle cx="1120.6" cy="280.9" r="0.57" fill="#b0dbe8" opacity="0.60"/>
<circle cx="1195.5" cy="292.8" r="0.48" fill="#8c9aa2" opacity="0.65"/>
<circle cx="1196.0" cy="265.8" r="0.52" fill="#d23a68" opacity="0.81"/>
<circle cx="1173.8" cy="268.2" r="0.51" fill="#8c9aa2" opacity="0.40"/>
<circle cx="1131.0" cy="279.4" r="0.64" fill="#d23a68" opacity="0.69"/>
<circle cx="1226.1" cy="231.1" r="0.54" fill="#b0dbe8" opacity="0.84"/>
<circle cx="1231.0" cy="224.7" r="0.53" fill="#d23a68" opacity="0.47"/>
<circle cx="1224.2" cy="245.3" r="0.42" fill="#d23a68" opacity="0.75"/>
<circle cx="1215.8" cy="226.4" r="0.49" fill="#d23a68" opacity="0.49"/>
<circle cx="1182.0" cy="278.5" r="0.42" fill="#d23a68" opacity="0.52"/>
<circle cx="1226.1" cy="320.4" r="0.49" fill="#d23a68" opacity="0.83"/>
<circle cx="1193.0" cy="271.6" r="0.41" fill="#8c9aa2" opacity="0.46"/>
<circle cx="1221.1" cy="289.8" r="0.55" fill="#8c9aa2" opacity="0.64"/>
<circle cx="1222.1" cy="221.0" r="0.59" fill="#d23a68" opacity="0.49"/>
<circle cx="1215.3" cy="313.0" r="0.41" fill="#b0dbe8" opacity="0.65"/>
<circle cx="1204.3" cy="277.1" r="0.60" fill="#b0dbe8" opacity="0.48"/>
<circle cx="1180.5" cy="313.0" r="0.43" fill="#d23a68" opacity="0.40"/>
<circle cx="1120.1" cy="272.6" r="0.45" fill="#d23a68" opacity="0.78"/>
<circle cx="1205.3" cy="294.5" r="0.57" fill="#d23a68" opacity="0.46"/>
<circle cx="1149.6" cy="284.4" r="0.53" fill="#d23a68" opacity="0.70"/>
<circle cx="1195.4" cy="306.3" r="0.67" fill="#b0dbe8" opacity="0.75"/>
<circle cx="1113.0" cy="276.2" r="0.42" fill="#d23a68" opacity="0.73"/>
<circle cx="1151.0" cy="273.0" r="0.51" fill="#8c9aa2" opacity="0.37"/>
<circle cx="1178.6" cy="262.7" r="0.72" fill="#d23a68" opacity="0.50"/>
<circle cx="1190.8" cy="227.0" r="0.61" fill="#d23a68" opacity="0.60"/>
<circle cx="1212.4" cy="257.3" r="0.51" fill="#b0dbe8" opacity="0.70"/>
<circle cx="1193.0" cy="268.4" r="0.74" fill="#8c9aa2" opacity="0.53"/>
<circle cx="1170.4" cy="273.0" r="0.44" fill="#b0dbe8" opacity="0.39"/>
<circle cx="1132.7" cy="279.6" r="0.62" fill="#d23a68" opacity="0.36"/>
<circle cx="1204.4" cy="239.7" r="0.58" fill="#d23a68" opacity="0.54"/>
<circle cx="1180.0" cy="275.8" r="0.49" fill="#d23a68" opacity="0.70"/>
<circle cx="1219.4" cy="282.9" r="0.56" fill="#8c9aa2" opacity="0.47"/>
<circle cx="1178.2" cy="251.2" r="0.43" fill="#b0dbe8" opacity="0.59"/>
<circle cx="1189.6" cy="277.2" r="0.71" fill="#8c9aa2" opacity="0.74"/>
<circle cx="1202.7" cy="276.7" r="0.64" fill="#b0dbe8" opacity="0.69"/>
<circle cx="1161.1" cy="255.3" r="0.54" fill="#b0dbe8" opacity="0.66"/>
<circle cx="1220.0" cy="357.1" r="0.51" fill="#d23a68" opacity="0.51"/>
<circle cx="1178.9" cy="263.7" r="0.59" fill="#d23a68" opacity="0.39"/>
<circle cx="1168.5" cy="298.0" r="0.44" fill="#d23a68" opacity="0.83"/>
<circle cx="1209.7" cy="261.8" r="0.52" fill="#d23a68" opacity="0.67"/>
<circle cx="1207.7" cy="271.2" r="0.49" fill="#d23a68" opacity="0.77"/>
<circle cx="1147.6" cy="301.9" r="0.47" fill="#8c9aa2" opacity="0.65"/>
<circle cx="1165.3" cy="250.3" r="0.55" fill="#d23a68" opacity="0.66"/>
<circle cx="1165.7" cy="298.5" r="0.53" fill="#d23a68" opacity="0.49"/>
<circle cx="1153.0" cy="277.9" r="0.73" fill="#8c9aa2" opacity="0.70"/>
<circle cx="1117.9" cy="274.8" r="0.41" fill="#d23a68" opacity="0.65"/>
<circle cx="1209.4" cy="275.2" r="0.43" fill="#d23a68" opacity="0.50"/>
<circle cx="1185.7" cy="277.2" r="0.53" fill="#b0dbe8" opacity="0.42"/>
<circle cx="1217.3" cy="288.3" r="0.47" fill="#d23a68" opacity="0.55"/>
<circle cx="1195.6" cy="252.4" r="0.68" fill="#d23a68" opacity="0.77"/>
<circle cx="1228.2" cy="278.8" r="0.43" fill="#8c9aa2" opacity="0.80"/>
<circle cx="1213.4" cy="272.0" r="0.47" fill="#8c9aa2" opacity="0.38"/>
<circle cx="1219.2" cy="247.2" r="0.68" fill="#d23a68" opacity="0.52"/>
<circle cx="1164.3" cy="263.2" r="0.50" fill="#d23a68" opacity="0.66"/>
<circle cx="1225.4" cy="283.9" r="0.64" fill="#d23a68" opacity="0.44"/>
<circle cx="1164.3" cy="277.2" r="0.41" fill="#d23a68" opacity="0.60"/>
<circle cx="1207.6" cy="267.4" r="0.73" fill="#d23a68" opacity="0.62"/>
<circle cx="1180.8" cy="266.8" r="0.65" fill="#8c9aa2" opacity="0.61"/>
<circle cx="1133.8" cy="277.3" r="0.52" fill="#d23a68" opacity="0.62"/>
<circle cx="1202.8" cy="261.7" r="0.65" fill="#d23a68" opacity="0.60"/>
<circle cx="1148.9" cy="286.2" r="0.64" fill="#b0dbe8" opacity="0.46"/>
<circle cx="1216.1" cy="238.2" r="0.59" fill="#b0dbe8" opacity="0.80"/>
<circle cx="1231.7" cy="221.4" r="0.68" fill="#b0dbe8" opacity="0.36"/>
<circle cx="1174.4" cy="299.6" r="0.61" fill="#8c9aa2" opacity="0.73"/>
<circle cx="1204.6" cy="302.4" r="0.71" fill="#d23a68" opacity="0.45"/>
<circle cx="1233.9" cy="333.5" r="0.67" fill="#8c9aa2" opacity="0.72"/>
<circle cx="1224.8" cy="267.9" r="0.46" fill="#d23a68" opacity="0.62"/>
<circle cx="1219.2" cy="282.9" r="0.45" fill="#d23a68" opacity="0.36"/>
<circle cx="1182.4" cy="271.5" r="0.47" fill="#8c9aa2" opacity="0.40"/>
<circle cx="1228.4" cy="272.0" r="0.71" fill="#d23a68" opacity="0.61"/>
<circle cx="1142.4" cy="275.6" r="0.67" fill="#8c9aa2" opacity="0.73"/>
<circle cx="1204.9" cy="298.5" r="0.55" fill="#d23a68" opacity="0.54"/>
<circle cx="1189.4" cy="272.7" r="0.41" fill="#d23a68" opacity="0.76"/>
<circle cx="1198.9" cy="301.3" r="0.66" fill="#8c9aa2" opacity="0.72"/>
<circle cx="1233.5" cy="254.8" r="0.63" fill="#d23a68" opacity="0.64"/>
<circle cx="1198.0" cy="289.5" r="0.47" fill="#b0dbe8" opacity="0.46"/>
<circle cx="1212.3" cy="285.4" r="0.53" fill="#d23a68" opacity="0.76"/>
<circle cx="1190.4" cy="254.5" r="0.54" fill="#d23a68" opacity="0.66"/>
<circle cx="1200.1" cy="260.2" r="0.53" fill="#8c9aa2" opacity="0.48"/>
<circle cx="1216.4" cy="226.6" r="0.72" fill="#8c9aa2" opacity="0.45"/>
<circle cx="1221.9" cy="282.9" r="0.62" fill="#d23a68" opacity="0.42"/>
<circle cx="1220.6" cy="268.6" r="0.64" fill="#d23a68" opacity="0.50"/>
<circle cx="1157.3" cy="278.8" r="0.48" fill="#8c9aa2" opacity="0.69"/>
<circle cx="1172.4" cy="292.5" r="0.53" fill="#8c9aa2" opacity="0.45"/>
<circle cx="1145.5" cy="289.2" r="0.44" fill="#d23a68" opacity="0.79"/>
<circle cx="1205.3" cy="287.2" r="0.65" fill="#d23a68" opacity="0.65"/>
<circle cx="1184.6" cy="224.6" r="0.62" fill="#d23a68" opacity="0.67"/>
<circle cx="1176.0" cy="274.8" r="0.66" fill="#d23a68" opacity="0.67"/>
<circle cx="1186.0" cy="262.1" r="0.41" fill="#8c9aa2" opacity="0.67"/>
<circle cx="1185.8" cy="273.9" r="0.61" fill="#d23a68" opacity="0.64"/>
<circle cx="1135.5" cy="270.5" r="0.51" fill="#8c9aa2" opacity="0.51"/>
<circle cx="1157.0" cy="275.4" r="0.47" fill="#d23a68" opacity="0.43"/>
<circle cx="1202.5" cy="283.8" r="0.59" fill="#d23a68" opacity="0.41"/>
<circle cx="1180.4" cy="265.2" r="0.47" fill="#8c9aa2" opacity="0.70"/>
<circle cx="1194.3" cy="287.8" r="0.43" fill="#8c9aa2" opacity="0.45"/>
<circle cx="1198.0" cy="282.8" r="0.58" fill="#8c9aa2" opacity="0.68"/>
<circle cx="1113.6" cy="274.2" r="0.53" fill="#b0dbe8" opacity="0.74"/>
<circle cx="1122.9" cy="279.0" r="0.71" fill="#d23a68" opacity="0.74"/>
<circle cx="1198.3" cy="294.7" r="0.74" fill="#d23a68" opacity="0.74"/>
<circle cx="1211.1" cy="326.8" r="0.46" fill="#d23a68" opacity="0.52"/>
<circle cx="1206.1" cy="262.6" r="0.42" fill="#8c9aa2" opacity="0.49"/>
<circle cx="1136.3" cy="268.7" r="0.68" fill="#d23a68" opacity="0.73"/>
<circle cx="1146.9" cy="273.3" r="0.55" fill="#8c9aa2" opacity="0.47"/>
<circle cx="1177.0" cy="282.4" r="0.55" fill="#b0dbe8" opacity="0.70"/>
<circle cx="1202.8" cy="247.2" r="0.47" fill="#d23a68" opacity="0.60"/>
<circle cx="1168.7" cy="278.0" r="0.47" fill="#d23a68" opacity="0.81"/>
<circle cx="1182.7" cy="276.4" r="0.70" fill="#d23a68" opacity="0.52"/>
<circle cx="1206.4" cy="280.4" r="0.63" fill="#d23a68" opacity="0.58"/>
<circle cx="1212.5" cy="252.1" r="0.61" fill="#d23a68" opacity="0.77"/>
<circle cx="1208.6" cy="271.1" r="0.51" fill="#d23a68" opacity="0.80"/>
<circle cx="1221.8" cy="298.8" r="0.64" fill="#8c9aa2" opacity="0.83"/>
<circle cx="1224.5" cy="306.9" r="0.75" fill="#d23a68" opacity="0.51"/>
<circle cx="1177.6" cy="284.8" r="0.62" fill="#d23a68" opacity="0.49"/>
<circle cx="1164.0" cy="273.8" r="0.61" fill="#8c9aa2" opacity="0.72"/>
<circle cx="1217.1" cy="312.3" r="0.74" fill="#8c9aa2" opacity="0.60"/>
<circle cx="1209.5" cy="238.7" r="0.74" fill="#d23a68" opacity="0.68"/>
<circle cx="1183.2" cy="267.5" r="0.54" fill="#d23a68" opacity="0.42"/>
<circle cx="1110.7" cy="273.4" r="0.56" fill="#d23a68" opacity="0.73"/>
<circle cx="1126.8" cy="273.2" r="0.50" fill="#d23a68" opacity="0.57"/>
<circle cx="1210.4" cy="266.5" r="0.54" fill="#d23a68" opacity="0.71"/>
<circle cx="1141.1" cy="267.1" r="0.74" fill="#8c9aa2" opacity="0.48"/>
<circle cx="1202.6" cy="302.9" r="0.65" fill="#d23a68" opacity="0.77"/>
<circle cx="1144.5" cy="262.3" r="0.62" fill="#d23a68" opacity="0.76"/>
<circle cx="1165.5" cy="303.3" r="0.40" fill="#8c9aa2" opacity="0.52"/>
<circle cx="1149.7" cy="270.9" r="0.68" fill="#d23a68" opacity="0.44"/>
<circle cx="1197.7" cy="286.8" r="0.70" fill="#8c9aa2" opacity="0.77"/>
<circle cx="1202.2" cy="292.9" r="0.73" fill="#d23a68" opacity="0.50"/>
<circle cx="1162.1" cy="294.9" r="0.54" fill="#d23a68" opacity="0.75"/>
<circle cx="1222.5" cy="274.0" r="0.51" fill="#d23a68" opacity="0.50"/>
<circle cx="1183.5" cy="245.5" r="0.75" fill="#b0dbe8" opacity="0.39"/>
<circle cx="1231.3" cy="302.1" r="0.67" fill="#8c9aa2" opacity="0.44"/>
<circle cx="1201.7" cy="263.3" r="0.71" fill="#b0dbe8" opacity="0.81"/>
<circle cx="1135.1" cy="273.1" r="0.46" fill="#b0dbe8" opacity="0.62"/>
<circle cx="1142.0" cy="264.9" r="0.65" fill="#8c9aa2" opacity="0.37"/>
<circle cx="1169.3" cy="288.2" r="0.42" fill="#8c9aa2" opacity="0.83"/>
<circle cx="1231.3" cy="306.0" r="0.60" fill="#d23a68" opacity="0.53"/>
<circle cx="1200.8" cy="256.5" r="0.47" fill="#8c9aa2" opacity="0.50"/>
<circle cx="1214.9" cy="290.6" r="0.42" fill="#d23a68" opacity="0.81"/>
<circle cx="1148.5" cy="267.4" r="0.52" fill="#d23a68" opacity="0.62"/>
<circle cx="1141.2" cy="279.0" r="0.42" fill="#d23a68" opacity="0.39"/>
<circle cx="1155.0" cy="275.6" r="0.69" fill="#d23a68" opacity="0.68"/>
<circle cx="1187.7" cy="292.0" r="0.64" fill="#8c9aa2" opacity="0.51"/>
<circle cx="1201.7" cy="274.2" r="0.62" fill="#8c9aa2" opacity="0.81"/>
<circle cx="1163.6" cy="258.1" r="0.74" fill="#8c9aa2" opacity="0.61"/>
<circle cx="1226.6" cy="311.2" r="0.66" fill="#d23a68" opacity="0.56"/>
<circle cx="1194.0" cy="292.9" r="0.49" fill="#d23a68" opacity="0.78"/>
<circle cx="1204.2" cy="267.5" r="0.74" fill="#d23a68" opacity="0.45"/>
<circle cx="1194.2" cy="267.9" r="0.58" fill="#8c9aa2" opacity="0.63"/>
<circle cx="1231.7" cy="279.0" r="0.55" fill="#d23a68" opacity="0.69"/>
<circle cx="1207.1" cy="258.7" r="0.64" fill="#d23a68" opacity="0.57"/>
<circle cx="1116.4" cy="274.1" r="0.63" fill="#d23a68" opacity="0.85"/>
<circle cx="1228.7" cy="300.7" r="0.70" fill="#8c9aa2" opacity="0.60"/>
<circle cx="1198.9" cy="280.7" r="0.53" fill="#d23a68" opacity="0.52"/>
<circle cx="1182.9" cy="271.2" r="0.64" fill="#d23a68" opacity="0.83"/>
<circle cx="1159.6" cy="279.4" r="0.48" fill="#8c9aa2" opacity="0.74"/>
<circle cx="1150.6" cy="283.9" r="0.65" fill="#8c9aa2" opacity="0.69"/>
<circle cx="1135.1" cy="289.5" r="0.70" fill="#d23a68" opacity="0.65"/>
<circle cx="1150.0" cy="269.5" r="0.69" fill="#d23a68" opacity="0.58"/>
<circle cx="1125.1" cy="276.7" r="0.63" fill="#8c9aa2" opacity="0.57"/>
<circle cx="1180.3" cy="284.4" r="0.52" fill="#b0dbe8" opacity="0.69"/>
<circle cx="1155.4" cy="267.7" r="0.52" fill="#d23a68" opacity="0.41"/>
<circle cx="1177.8" cy="274.1" r="0.59" fill="#8c9aa2" opacity="0.75"/>
<circle cx="1188.1" cy="301.5" r="0.66" fill="#d23a68" opacity="0.84"/>
<circle cx="1192.9" cy="291.0" r="0.53" fill="#d23a68" opacity="0.60"/>
<circle cx="1170.5" cy="287.1" r="0.69" fill="#8c9aa2" opacity="0.73"/>
<circle cx="1224.9" cy="290.8" r="0.54" fill="#8c9aa2" opacity="0.67"/>
<circle cx="1128.2" cy="277.5" r="0.57" fill="#d23a68" opacity="0.49"/>
<circle cx="1217.5" cy="236.4" r="0.67" fill="#d23a68" opacity="0.81"/>
<circle cx="1216.1" cy="258.6" r="0.72" fill="#b0dbe8" opacity="0.44"/>
<circle cx="1175.6" cy="285.0" r="0.66" fill="#8c9aa2" opacity="0.49"/>
<circle cx="1184.9" cy="282.5" r="0.63" fill="#d23a68" opacity="0.80"/>
<circle cx="1229.9" cy="272.2" r="0.68" fill="#d23a68" opacity="0.84"/>
<circle cx="1171.8" cy="276.6" r="0.45" fill="#8c9aa2" opacity="0.62"/>
<circle cx="1228.5" cy="295.9" r="0.62" fill="#d23a68" opacity="0.61"/>
<circle cx="1231.4" cy="242.4" r="0.66" fill="#b0dbe8" opacity="0.42"/>
<circle cx="1218.3" cy="272.6" r="0.74" fill="#d23a68" opacity="0.83"/>
<circle cx="1189.8" cy="263.2" r="0.47" fill="#d23a68" opacity="0.43"/>
<circle cx="1212.0" cy="283.5" r="0.61" fill="#d23a68" opacity="0.65"/>
<circle cx="1212.5" cy="222.3" r="0.43" fill="#d23a68" opacity="0.64"/>
<circle cx="1164.3" cy="262.1" r="0.72" fill="#b0dbe8" opacity="0.69"/>
<circle cx="1220.8" cy="276.0" r="0.52" fill="#d23a68" opacity="0.54"/>
<circle cx="1188.2" cy="296.7" r="0.41" fill="#8c9aa2" opacity="0.62"/>
<circle cx="1143.3" cy="286.6" r="0.51" fill="#8c9aa2" opacity="0.70"/>
<circle cx="1210.2" cy="269.3" r="0.60" fill="#b0dbe8" opacity="0.48"/>
<circle cx="1202.9" cy="310.2" r="0.65" fill="#d23a68" opacity="0.42"/>
<circle cx="1200.0" cy="285.8" r="0.41" fill="#d23a68" opacity="0.48"/>
<circle cx="1222.0" cy="250.9" r="0.74" fill="#8c9aa2" opacity="0.48"/>
<circle cx="1208.8" cy="293.1" r="0.68" fill="#8c9aa2" opacity="0.52"/>
<circle cx="1187.8" cy="278.0" r="0.62" fill="#d23a68" opacity="0.78"/>
<circle cx="1160.9" cy="265.4" r="0.48" fill="#8c9aa2" opacity="0.43"/>
<circle cx="1188.1" cy="259.0" r="0.46" fill="#b0dbe8" opacity="0.62"/>
<circle cx="1188.4" cy="253.3" r="0.72" fill="#d23a68" opacity="0.42"/>
<circle cx="1163.1" cy="294.0" r="0.48" fill="#8c9aa2" opacity="0.81"/>
<circle cx="1203.5" cy="282.8" r="0.73" fill="#d23a68" opacity="0.78"/>
<circle cx="1169.9" cy="280.1" r="0.55" fill="#d23a68" opacity="0.83"/>
<circle cx="1168.0" cy="269.3" r="0.47" fill="#d23a68" opacity="0.76"/>
<circle cx="1152.3" cy="280.8" r="0.71" fill="#d23a68" opacity="0.48"/>
<circle cx="1193.3" cy="260.3" r="0.60" fill="#8c9aa2" opacity="0.55"/>
<circle cx="1204.5" cy="270.0" r="0.61" fill="#d23a68" opacity="0.64"/>
<circle cx="1217.9" cy="288.3" r="0.64" fill="#d23a68" opacity="0.58"/>
<circle cx="1193.0" cy="286.6" r="0.63" fill="#d23a68" opacity="0.42"/>
<circle cx="1224.0" cy="247.1" r="0.41" fill="#d23a68" opacity="0.59"/>
<circle cx="1229.8" cy="303.9" r="0.73" fill="#d23a68" opacity="0.49"/>
<circle cx="1117.5" cy="274.5" r="0.56" fill="#d23a68" opacity="0.69"/>
<circle cx="1131.3" cy="269.6" r="0.46" fill="#d23a68" opacity="0.71"/>
<circle cx="1183.8" cy="300.2" r="0.57" fill="#8c9aa2" opacity="0.76"/>
<circle cx="1191.7" cy="311.6" r="0.57" fill="#8c9aa2" opacity="0.65"/>
<circle cx="1177.2" cy="270.3" r="0.71" fill="#d23a68" opacity="0.75"/>
<circle cx="1215.2" cy="294.6" r="0.57" fill="#b0dbe8" opacity="0.84"/>
<circle cx="1134.3" cy="267.9" r="0.60" fill="#d23a68" opacity="0.76"/>
<circle cx="1192.5" cy="279.7" r="0.68" fill="#8c9aa2" opacity="0.65"/>
<circle cx="1118.5" cy="271.3" r="0.40" fill="#8c9aa2" opacity="0.50"/>
<circle cx="1140.9" cy="275.4" r="0.43" fill="#8c9aa2" opacity="0.45"/>
<circle cx="1208.9" cy="261.1" r="0.43" fill="#b0dbe8" opacity="0.66"/>
<circle cx="1179.6" cy="270.2" r="0.43" fill="#d23a68" opacity="0.80"/>
<circle cx="1189.5" cy="269.8" r="0.45" fill="#8c9aa2" opacity="0.69"/>
<circle cx="1226.2" cy="289.9" r="0.75" fill="#8c9aa2" opacity="0.63"/>
<circle cx="1204.4" cy="312.7" r="0.67" fill="#d23a68" opacity="0.51"/>
<circle cx="1202.4" cy="226.4" r="0.43" fill="#8c9aa2" opacity="0.44"/>
<circle cx="1175.0" cy="238.6" r="0.65" fill="#d23a68" opacity="0.48"/>
<circle cx="1196.3" cy="258.4" r="0.55" fill="#8c9aa2" opacity="0.84"/>
<circle cx="1143.5" cy="277.3" r="0.62" fill="#b0dbe8" opacity="0.58"/>
<circle cx="1133.7" cy="267.2" r="0.65" fill="#d23a68" opacity="0.62"/>
<circle cx="1136.2" cy="263.7" r="0.51" fill="#b0dbe8" opacity="0.59"/>
<circle cx="1214.7" cy="309.6" r="0.70" fill="#d23a68" opacity="0.43"/>
<circle cx="1195.6" cy="246.5" r="0.70" fill="#d23a68" opacity="0.71"/>
<circle cx="1205.7" cy="282.7" r="0.44" fill="#d23a68" opacity="0.53"/>
<circle cx="1154.7" cy="265.0" r="0.45" fill="#8c9aa2" opacity="0.81"/>
<circle cx="1200.2" cy="265.0" r="0.60" fill="#d23a68" opacity="0.42"/>
<circle cx="1232.2" cy="279.6" r="0.55" fill="#d23a68" opacity="0.49"/>
<circle cx="1176.8" cy="269.7" r="0.53" fill="#d23a68" opacity="0.65"/>
<circle cx="1188.4" cy="313.0" r="0.57" fill="#d23a68" opacity="0.38"/>
<circle cx="1169.1" cy="251.4" r="0.55" fill="#d23a68" opacity="0.68"/>
<circle cx="1165.2" cy="284.3" r="0.47" fill="#8c9aa2" opacity="0.66"/>
<circle cx="1194.3" cy="251.6" r="0.75" fill="#8c9aa2" opacity="0.47"/>
<circle cx="1230.4" cy="227.0" r="0.53" fill="#d23a68" opacity="0.58"/>
<circle cx="1227.9" cy="323.7" r="0.44" fill="#d23a68" opacity="0.45"/>
<circle cx="1206.9" cy="263.5" r="0.42" fill="#8c9aa2" opacity="0.35"/>
<circle cx="1233.6" cy="270.7" r="0.43" fill="#d23a68" opacity="0.76"/>
<circle cx="1193.4" cy="279.9" r="0.72" fill="#8c9aa2" opacity="0.41"/>
<circle cx="1156.9" cy="278.8" r="0.52" fill="#d23a68" opacity="0.66"/>
<circle cx="1229.7" cy="237.8" r="0.72" fill="#b0dbe8" opacity="0.84"/>
<circle cx="1143.9" cy="293.0" r="0.58" fill="#d23a68" opacity="0.58"/>
<circle cx="1232.0" cy="284.2" r="0.45" fill="#d23a68" opacity="0.45"/>
<circle cx="1226.5" cy="280.9" r="0.53" fill="#b0dbe8" opacity="0.71"/>
<circle cx="1196.8" cy="264.7" r="0.57" fill="#b0dbe8" opacity="0.36"/>
<circle cx="1196.2" cy="287.4" r="0.56" fill="#8c9aa2" opacity="0.53"/>
<circle cx="1175.2" cy="261.8" r="0.58" fill="#d23a68" opacity="0.83"/>
<circle cx="1199.3" cy="276.5" r="0.60" fill="#d23a68" opacity="0.54"/>
<circle cx="1113.4" cy="273.2" r="0.45" fill="#b0dbe8" opacity="0.68"/>
<circle cx="1232.5" cy="269.6" r="0.59" fill="#d23a68" opacity="0.84"/>
<circle cx="1146.1" cy="282.5" r="0.71" fill="#d23a68" opacity="0.49"/>
<circle cx="1206.4" cy="274.9" r="0.67" fill="#d23a68" opacity="0.81"/>
<circle cx="1208.9" cy="274.3" r="0.44" fill="#d23a68" opacity="0.61"/>
<circle cx="1140.0" cy="274.0" r="0.56" fill="#d23a68" opacity="0.49"/>
<circle cx="1157.8" cy="277.9" r="0.41" fill="#d23a68" opacity="0.41"/>
<circle cx="1232.7" cy="319.9" r="0.61" fill="#d23a68" opacity="0.50"/>
<circle cx="1232.5" cy="284.2" r="0.54" fill="#8c9aa2" opacity="0.57"/>
<circle cx="1227.6" cy="305.9" r="0.60" fill="#8c9aa2" opacity="0.62"/>
<circle cx="1199.3" cy="311.9" r="0.49" fill="#d23a68" opacity="0.53"/>
<circle cx="1157.8" cy="291.9" r="0.66" fill="#d23a68" opacity="0.55"/>
<circle cx="1229.5" cy="297.2" r="0.58" fill="#d23a68" opacity="0.56"/>
<circle cx="1217.2" cy="296.3" r="0.62" fill="#d23a68" opacity="0.47"/>
<circle cx="1194.7" cy="293.5" r="0.44" fill="#b0dbe8" opacity="0.84"/>
<circle cx="1231.4" cy="264.2" r="0.74" fill="#d23a68" opacity="0.35"/>
<circle cx="1213.9" cy="278.2" r="0.44" fill="#8c9aa2" opacity="0.65"/>
<circle cx="1146.7" cy="284.8" r="0.63" fill="#d23a68" opacity="0.61"/>
<circle cx="1158.9" cy="283.9" r="0.40" fill="#b0dbe8" opacity="0.75"/>
<circle cx="1165.9" cy="290.5" r="0.48" fill="#d23a68" opacity="0.78"/>
<circle cx="1222.7" cy="253.9" r="0.61" fill="#b0dbe8" opacity="0.81"/>
<circle cx="1225.7" cy="262.9" r="0.52" fill="#8c9aa2" opacity="0.76"/>
<circle cx="1195.7" cy="259.0" r="0.71" fill="#b0dbe8" opacity="0.73"/>
<circle cx="1155.2" cy="272.5" r="0.46" fill="#d23a68" opacity="0.50"/>
<circle cx="1217.5" cy="284.0" r="0.72" fill="#d23a68" opacity="0.81"/>
<circle cx="1215.5" cy="276.5" r="0.62" fill="#d23a68" opacity="0.81"/>
<circle cx="1118.4" cy="278.2" r="0.69" fill="#d23a68" opacity="0.36"/>
<circle cx="1225.7" cy="303.6" r="0.61" fill="#d23a68" opacity="0.76"/>
<circle cx="1219.9" cy="345.1" r="0.56" fill="#d23a68" opacity="0.74"/>
<circle cx="1162.6" cy="266.0" r="0.69" fill="#b0dbe8" opacity="0.52"/>
<circle cx="1173.3" cy="306.0" r="0.69" fill="#d23a68" opacity="0.37"/>
<circle cx="1152.2" cy="287.2" r="0.42" fill="#b0dbe8" opacity="0.48"/>
<circle cx="1164.1" cy="277.2" r="0.52" fill="#8c9aa2" opacity="0.44"/>
<circle cx="1208.6" cy="286.1" r="0.54" fill="#d23a68" opacity="0.82"/>
<circle cx="1129.5" cy="272.8" r="0.63" fill="#d23a68" opacity="0.73"/>
<circle cx="1185.5" cy="297.3" r="0.43" fill="#d23a68" opacity="0.38"/>
<circle cx="1229.1" cy="284.6" r="0.57" fill="#d23a68" opacity="0.76"/>
<circle cx="1154.8" cy="258.8" r="0.47" fill="#8c9aa2" opacity="0.62"/>
<circle cx="1233.6" cy="307.4" r="0.74" fill="#8c9aa2" opacity="0.36"/>
<circle cx="1129.3" cy="274.0" r="0.50" fill="#b0dbe8" opacity="0.62"/>
<circle cx="1224.3" cy="274.9" r="0.67" fill="#d23a68" opacity="0.43"/>
<circle cx="1184.7" cy="272.1" r="0.70" fill="#d23a68" opacity="0.53"/>
<circle cx="1227.2" cy="244.8" r="0.69" fill="#d23a68" opacity="0.41"/>
<circle cx="1207.1" cy="306.0" r="0.74" fill="#d23a68" opacity="0.83"/>
<circle cx="1219.8" cy="264.4" r="0.43" fill="#d23a68" opacity="0.66"/>
<circle cx="1144.3" cy="286.2" r="0.49" fill="#b0dbe8" opacity="0.76"/>
<circle cx="1231.0" cy="288.0" r="0.43" fill="#b0dbe8" opacity="0.42"/>
<circle cx="1230.5" cy="291.5" r="0.65" fill="#d23a68" opacity="0.40"/>
<circle cx="1138.9" cy="273.9" r="0.60" fill="#d23a68" opacity="0.54"/>
<circle cx="1221.5" cy="306.9" r="0.53" fill="#8c9aa2" opacity="0.65"/>
<circle cx="1207.3" cy="316.2" r="0.73" fill="#d23a68" opacity="0.57"/>
<circle cx="1191.9" cy="277.4" r="0.41" fill="#d23a68" opacity="0.72"/>
<circle cx="1157.4" cy="273.0" r="0.65" fill="#8c9aa2" opacity="0.85"/>
<circle cx="1151.8" cy="258.0" r="0.46" fill="#d23a68" opacity="0.69"/>
<circle cx="1217.5" cy="297.6" r="0.53" fill="#d23a68" opacity="0.42"/>
<circle cx="1180.5" cy="283.5" r="0.53" fill="#b0dbe8" opacity="0.59"/>
<circle cx="1216.2" cy="255.6" r="0.70" fill="#b0dbe8" opacity="0.56"/>
<circle cx="1185.4" cy="290.5" r="0.47" fill="#8c9aa2" opacity="0.51"/>
<circle cx="1131.0" cy="281.0" r="0.57" fill="#d23a68" opacity="0.84"/>
<circle cx="1206.7" cy="288.1" r="0.65" fill="#d23a68" opacity="0.39"/>
<circle cx="1197.5" cy="268.2" r="0.41" fill="#8c9aa2" opacity="0.45"/>
<circle cx="1216.6" cy="293.5" r="0.54" fill="#d23a68" opacity="0.79"/>
<circle cx="1179.5" cy="295.7" r="0.69" fill="#b0dbe8" opacity="0.63"/>
<circle cx="1138.5" cy="264.7" r="0.61" fill="#d23a68" opacity="0.45"/>
<circle cx="1212.2" cy="329.5" r="0.71" fill="#8c9aa2" opacity="0.65"/>
<circle cx="1140.1" cy="278.2" r="0.58" fill="#b0dbe8" opacity="0.51"/>
<circle cx="1184.5" cy="252.2" r="0.64" fill="#8c9aa2" opacity="0.67"/>
<circle cx="1223.1" cy="257.8" r="0.65" fill="#b0dbe8" opacity="0.43"/>
<circle cx="1186.4" cy="272.2" r="0.60" fill="#b0dbe8" opacity="0.41"/>
<circle cx="1223.4" cy="273.0" r="0.70" fill="#8c9aa2" opacity="0.64"/>
<circle cx="1230.0" cy="256.9" r="0.40" fill="#d23a68" opacity="0.68"/>
<circle cx="1220.5" cy="312.9" r="0.68" fill="#b0dbe8" opacity="0.59"/>
<circle cx="1129.8" cy="269.7" r="0.42" fill="#d23a68" opacity="0.81"/>
<circle cx="1218.6" cy="312.0" r="0.60" fill="#d23a68" opacity="0.36"/>
<circle cx="1148.7" cy="265.0" r="0.42" fill="#d23a68" opacity="0.51"/>
<circle cx="1192.3" cy="281.4" r="0.56" fill="#d23a68" opacity="0.77"/>
<circle cx="1185.0" cy="284.5" r="0.65" fill="#8c9aa2" opacity="0.75"/>
<circle cx="1217.6" cy="267.4" r="0.50" fill="#d23a68" opacity="0.52"/>
<circle cx="1200.1" cy="275.0" r="0.50" fill="#d23a68" opacity="0.43"/>
<circle cx="1212.7" cy="313.2" r="0.64" fill="#d23a68" opacity="0.75"/>
<circle cx="1194.2" cy="274.1" r="0.70" fill="#8c9aa2" opacity="0.59"/>
<circle cx="1209.9" cy="296.6" r="0.47" fill="#8c9aa2" opacity="0.66"/>
<circle cx="1220.0" cy="318.7" r="0.51" fill="#d23a68" opacity="0.71"/>
<circle cx="1233.6" cy="298.7" r="0.53" fill="#d23a68" opacity="0.42"/>
<circle cx="1195.0" cy="270.8" r="0.57" fill="#d23a68" opacity="0.76"/>
<circle cx="1196.0" cy="288.6" r="0.42" fill="#d23a68" opacity="0.70"/>
<circle cx="1166.4" cy="274.4" r="0.62" fill="#d23a68" opacity="0.84"/>
<circle cx="1214.0" cy="332.8" r="0.48" fill="#d23a68" opacity="0.73"/>
<circle cx="1157.3" cy="267.5" r="0.53" fill="#d23a68" opacity="0.72"/>
<circle cx="1203.3" cy="265.5" r="0.61" fill="#d23a68" opacity="0.60"/>
<circle cx="1194.7" cy="280.5" r="0.60" fill="#8c9aa2" opacity="0.78"/>
<circle cx="1227.7" cy="249.5" r="0.49" fill="#d23a68" opacity="0.44"/>
<circle cx="1211.1" cy="272.4" r="0.41" fill="#d23a68" opacity="0.55"/>
<circle cx="1170.8" cy="277.9" r="0.68" fill="#8c9aa2" opacity="0.77"/>
<circle cx="1199.9" cy="276.7" r="0.62" fill="#d23a68" opacity="0.48"/>
<circle cx="1159.1" cy="271.8" r="0.75" fill="#d23a68" opacity="0.39"/>
<circle cx="1231.8" cy="288.2" r="0.66" fill="#8c9aa2" opacity="0.41"/>
<circle cx="1207.6" cy="283.3" r="0.72" fill="#d23a68" opacity="0.40"/>
<circle cx="1112.7" cy="278.1" r="0.58" fill="#8c9aa2" opacity="0.67"/>
<circle cx="1135.4" cy="266.8" r="0.51" fill="#8c9aa2" opacity="0.35"/>
<circle cx="1125.7" cy="281.3" r="0.50" fill="#b0dbe8" opacity="0.39"/>
<circle cx="1167.1" cy="279.3" r="0.59" fill="#d23a68" opacity="0.67"/>
<circle cx="1194.1" cy="299.5" r="0.48" fill="#8c9aa2" opacity="0.55"/>
<circle cx="1213.5" cy="265.2" r="0.57" fill="#d23a68" opacity="0.80"/>
<circle cx="1206.1" cy="317.8" r="0.53" fill="#d23a68" opacity="0.49"/>
<circle cx="1213.8" cy="244.1" r="0.69" fill="#8c9aa2" opacity="0.62"/>
<circle cx="1165.9" cy="295.4" r="0.55" fill="#8c9aa2" opacity="0.38"/>
<circle cx="1185.3" cy="277.7" r="0.73" fill="#d23a68" opacity="0.68"/>
<circle cx="1183.5" cy="281.3" r="0.54" fill="#8c9aa2" opacity="0.63"/>
<circle cx="1163.1" cy="289.7" r="0.59" fill="#d23a68" opacity="0.54"/>
<circle cx="1215.5" cy="239.9" r="0.72" fill="#8c9aa2" opacity="0.40"/>
<circle cx="1226.8" cy="277.5" r="0.63" fill="#d23a68" opacity="0.41"/>
<circle cx="1204.3" cy="285.4" r="0.67" fill="#b0dbe8" opacity="0.76"/>
<circle cx="1148.4" cy="271.0" r="0.71" fill="#d23a68" opacity="0.85"/>
<circle cx="1163.6" cy="283.7" r="0.61" fill="#8c9aa2" opacity="0.84"/>
<circle cx="1185.2" cy="281.0" r="0.57" fill="#d23a68" opacity="0.40"/>
<circle cx="1208.7" cy="282.0" r="0.41" fill="#d23a68" opacity="0.71"/>
<circle cx="1186.6" cy="275.8" r="0.42" fill="#d23a68" opacity="0.78"/>
<circle cx="1207.5" cy="244.6" r="0.43" fill="#d23a68" opacity="0.66"/>
<circle cx="1228.6" cy="272.3" r="0.44" fill="#b0dbe8" opacity="0.44"/>
<circle cx="1187.0" cy="230.3" r="0.57" fill="#d23a68" opacity="0.76"/>
<circle cx="1163.1" cy="279.2" r="0.43" fill="#8c9aa2" opacity="0.41"/>
<circle cx="1126.2" cy="271.1" r="0.41" fill="#8c9aa2" opacity="0.70"/>
<circle cx="1181.8" cy="289.1" r="0.66" fill="#8c9aa2" opacity="0.54"/>
<circle cx="1216.2" cy="261.4" r="0.61" fill="#8c9aa2" opacity="0.56"/>
<circle cx="1147.7" cy="262.8" r="0.74" fill="#d23a68" opacity="0.44"/>
<circle cx="1227.0" cy="270.4" r="0.43" fill="#8c9aa2" opacity="0.63"/>
<circle cx="1152.9" cy="262.0" r="0.72" fill="#8c9aa2" opacity="0.39"/>
<circle cx="1224.3" cy="275.8" r="0.45" fill="#b0dbe8" opacity="0.39"/>
<circle cx="1186.7" cy="284.3" r="0.47" fill="#d23a68" opacity="0.65"/>
<circle cx="1155.9" cy="276.2" r="0.62" fill="#8c9aa2" opacity="0.39"/>
<circle cx="1208.0" cy="347.9" r="0.64" fill="#d23a68" opacity="0.51"/>
<circle cx="1181.7" cy="248.5" r="0.42" fill="#d23a68" opacity="0.66"/>
<circle cx="1143.7" cy="277.6" r="0.59" fill="#8c9aa2" opacity="0.37"/>
<circle cx="1140.8" cy="271.9" r="0.54" fill="#d23a68" opacity="0.43"/>
<circle cx="1138.4" cy="276.7" r="0.66" fill="#d23a68" opacity="0.41"/>
<circle cx="1219.4" cy="323.0" r="0.71" fill="#8c9aa2" opacity="0.55"/>
<circle cx="1232.1" cy="240.6" r="0.45" fill="#8c9aa2" opacity="0.37"/>
<circle cx="1208.8" cy="291.7" r="0.48" fill="#d23a68" opacity="0.60"/>
<circle cx="1150.5" cy="274.1" r="0.69" fill="#d23a68" opacity="0.77"/>
<circle cx="1212.1" cy="290.8" r="0.72" fill="#d23a68" opacity="0.62"/>
<circle cx="1195.8" cy="293.9" r="0.63" fill="#d23a68" opacity="0.83"/>
<circle cx="1202.8" cy="277.7" r="0.69" fill="#d23a68" opacity="0.39"/>
<circle cx="1218.4" cy="343.3" r="0.74" fill="#8c9aa2" opacity="0.59"/>
<circle cx="1205.5" cy="290.4" r="0.66" fill="#d23a68" opacity="0.62"/>
<circle cx="1186.0" cy="289.2" r="0.49" fill="#d23a68" opacity="0.85"/>
<circle cx="1172.7" cy="238.0" r="0.59" fill="#d23a68" opacity="0.49"/>
<circle cx="1185.9" cy="272.0" r="0.67" fill="#8c9aa2" opacity="0.81"/>
<circle cx="1228.8" cy="304.4" r="0.67" fill="#d23a68" opacity="0.70"/>
<circle cx="1202.6" cy="222.7" r="0.73" fill="#8c9aa2" opacity="0.40"/>
<circle cx="1175.1" cy="277.7" r="0.65" fill="#d23a68" opacity="0.58"/>
<circle cx="1170.6" cy="266.1" r="0.57" fill="#d23a68" opacity="0.66"/>
<circle cx="1118.3" cy="278.8" r="0.58" fill="#d23a68" opacity="0.68"/>
<circle cx="1199.5" cy="272.6" r="0.67" fill="#b0dbe8" opacity="0.60"/>
<circle cx="1197.4" cy="252.9" r="0.50" fill="#8c9aa2" opacity="0.49"/>
<circle cx="1190.3" cy="268.8" r="0.72" fill="#d23a68" opacity="0.78"/>
<circle cx="1194.4" cy="274.8" r="0.53" fill="#8c9aa2" opacity="0.39"/>
<circle cx="1219.8" cy="240.6" r="0.74" fill="#8c9aa2" opacity="0.50"/>
<circle cx="1197.4" cy="268.1" r="0.64" fill="#8c9aa2" opacity="0.81"/>
<circle cx="1124.9" cy="275.4" r="0.52" fill="#d23a68" opacity="0.75"/>
<circle cx="1225.3" cy="268.0" r="0.59" fill="#8c9aa2" opacity="0.68"/>
<circle cx="1120.4" cy="271.7" r="0.51" fill="#d23a68" opacity="0.49"/>
<circle cx="1143.4" cy="282.3" r="0.53" fill="#d23a68" opacity="0.68"/>
<circle cx="1222.2" cy="255.9" r="0.44" fill="#8c9aa2" opacity="0.45"/>
<circle cx="1224.4" cy="318.3" r="0.62" fill="#d23a68" opacity="0.64"/>
<circle cx="1218.5" cy="282.6" r="0.65" fill="#d23a68" opacity="0.80"/>
<circle cx="1206.3" cy="232.3" r="0.43" fill="#b0dbe8" opacity="0.58"/>
<circle cx="1231.5" cy="266.7" r="0.53" fill="#d23a68" opacity="0.57"/>
<circle cx="1191.0" cy="291.8" r="0.58" fill="#d23a68" opacity="0.81"/>
<circle cx="1174.1" cy="275.1" r="0.68" fill="#8c9aa2" opacity="0.81"/>
<circle cx="1232.7" cy="342.1" r="0.40" fill="#d23a68" opacity="0.72"/>
<circle cx="1205.8" cy="236.6" r="0.60" fill="#8c9aa2" opacity="0.66"/>
<circle cx="1181.9" cy="299.8" r="0.50" fill="#d23a68" opacity="0.71"/>
<circle cx="1189.9" cy="246.9" r="0.44" fill="#b0dbe8" opacity="0.40"/>
<circle cx="1215.4" cy="270.2" r="0.60" fill="#d23a68" opacity="0.60"/>
<circle cx="1206.7" cy="260.4" r="0.73" fill="#8c9aa2" opacity="0.77"/>
<circle cx="1185.9" cy="260.9" r="0.50" fill="#8c9aa2" opacity="0.81"/>
<circle cx="1109.9" cy="271.6" r="0.59" fill="#b0dbe8" opacity="0.61"/>
<circle cx="1200.9" cy="260.1" r="0.53" fill="#8c9aa2" opacity="0.67"/>
<circle cx="1162.3" cy="279.6" r="0.54" fill="#d23a68" opacity="0.42"/>
<circle cx="1216.4" cy="279.7" r="0.53" fill="#8c9aa2" opacity="0.44"/>
<circle cx="1181.6" cy="298.3" r="0.53" fill="#8c9aa2" opacity="0.77"/>
<circle cx="1191.3" cy="248.0" r="0.72" fill="#d23a68" opacity="0.69"/>
<circle cx="1128.8" cy="281.3" r="0.55" fill="#8c9aa2" opacity="0.62"/>
<circle cx="1144.7" cy="279.5" r="0.54" fill="#8c9aa2" opacity="0.53"/>
<circle cx="1156.4" cy="255.6" r="0.61" fill="#d23a68" opacity="0.63"/>
<circle cx="1210.2" cy="251.0" r="0.40" fill="#8c9aa2" opacity="0.83"/>
<circle cx="1189.6" cy="304.8" r="0.53" fill="#8c9aa2" opacity="0.65"/>
<circle cx="1124.4" cy="277.5" r="0.64" fill="#8c9aa2" opacity="0.75"/>
<circle cx="1187.8" cy="291.9" r="0.43" fill="#d23a68" opacity="0.51"/>
<circle cx="1158.2" cy="268.9" r="0.43" fill="#d23a68" opacity="0.67"/>
<circle cx="1225.2" cy="297.4" r="0.58" fill="#d23a68" opacity="0.65"/>
<circle cx="1211.9" cy="265.5" r="0.41" fill="#d23a68" opacity="0.51"/>
<circle cx="1114.9" cy="271.6" r="0.64" fill="#8c9aa2" opacity="0.63"/>
<circle cx="1231.9" cy="202.5" r="0.60" fill="#d23a68" opacity="0.52"/>
<circle cx="1186.1" cy="281.4" r="0.49" fill="#d23a68" opacity="0.78"/>
<circle cx="1117.4" cy="281.5" r="0.72" fill="#d23a68" opacity="0.68"/>
<circle cx="1154.9" cy="286.8" r="0.75" fill="#8c9aa2" opacity="0.82"/>
<circle cx="1213.8" cy="301.9" r="0.68" fill="#d23a68" opacity="0.57"/>
<circle cx="1193.6" cy="278.2" r="0.63" fill="#d23a68" opacity="0.49"/>
<circle cx="1231.4" cy="275.7" r="0.71" fill="#d23a68" opacity="0.82"/>
<circle cx="1135.9" cy="280.0" r="0.55" fill="#d23a68" opacity="0.62"/>
<circle cx="1228.3" cy="241.5" r="0.57" fill="#8c9aa2" opacity="0.58"/>
<circle cx="1151.1" cy="253.5" r="0.61" fill="#8c9aa2" opacity="0.58"/>
<circle cx="1232.8" cy="258.9" r="0.58" fill="#b0dbe8" opacity="0.68"/>
<circle cx="1218.5" cy="273.5" r="0.67" fill="#d23a68" opacity="0.50"/>
<circle cx="1231.1" cy="314.9" r="0.58" fill="#8c9aa2" opacity="0.63"/>
<circle cx="1198.7" cy="274.5" r="0.50" fill="#d23a68" opacity="0.59"/>
<circle cx="1156.3" cy="277.6" r="0.74" fill="#d23a68" opacity="0.54"/>
<circle cx="1213.6" cy="281.5" r="0.55" fill="#8c9aa2" opacity="0.75"/>
<circle cx="1118.7" cy="276.3" r="0.61" fill="#d23a68" opacity="0.46"/>
<circle cx="1210.7" cy="278.7" r="0.42" fill="#d23a68" opacity="0.55"/>
<circle cx="1216.6" cy="286.1" r="0.50" fill="#d23a68" opacity="0.52"/>
<circle cx="1157.7" cy="291.1" r="0.63" fill="#d23a68" opacity="0.80"/>
<circle cx="1115.1" cy="270.5" r="0.41" fill="#d23a68" opacity="0.51"/>
<circle cx="1142.4" cy="269.1" r="0.53" fill="#8c9aa2" opacity="0.39"/>
<circle cx="1195.7" cy="278.6" r="0.66" fill="#d23a68" opacity="0.72"/>
<circle cx="1161.4" cy="259.3" r="0.59" fill="#b0dbe8" opacity="0.66"/>
<circle cx="1172.3" cy="291.4" r="0.51" fill="#d23a68" opacity="0.60"/>
<circle cx="1166.4" cy="273.5" r="0.70" fill="#d23a68" opacity="0.52"/>
<circle cx="1231.2" cy="281.0" r="0.53" fill="#d23a68" opacity="0.80"/>
<circle cx="1184.7" cy="261.4" r="0.47" fill="#d23a68" opacity="0.35"/>
<circle cx="1223.2" cy="233.3" r="0.67" fill="#8c9aa2" opacity="0.84"/>
<circle cx="1223.9" cy="264.4" r="0.57" fill="#8c9aa2" opacity="0.40"/>
<circle cx="1117.7" cy="274.0" r="0.53" fill="#d23a68" opacity="0.79"/>
<circle cx="1233.5" cy="296.9" r="0.53" fill="#b0dbe8" opacity="0.53"/>
<circle cx="1198.1" cy="266.3" r="0.64" fill="#d23a68" opacity="0.38"/>
<circle cx="1199.1" cy="274.9" r="0.58" fill="#8c9aa2" opacity="0.52"/>
<circle cx="1216.5" cy="266.3" r="0.47" fill="#d23a68" opacity="0.56"/>
<circle cx="1176.0" cy="279.6" r="0.67" fill="#d23a68" opacity="0.58"/>
<circle cx="1172.8" cy="265.5" r="0.52" fill="#d23a68" opacity="0.62"/>
<circle cx="1216.2" cy="305.9" r="0.67" fill="#d23a68" opacity="0.58"/>
<circle cx="1162.3" cy="274.8" r="0.69" fill="#8c9aa2" opacity="0.46"/>
<circle cx="1222.9" cy="290.6" r="0.72" fill="#d23a68" opacity="0.59"/>
<circle cx="1173.6" cy="278.7" r="0.56" fill="#d23a68" opacity="0.63"/>
<circle cx="1200.0" cy="283.5" r="0.74" fill="#8c9aa2" opacity="0.65"/>
<circle cx="1210.2" cy="267.6" r="0.71" fill="#8c9aa2" opacity="0.51"/>
<circle cx="1185.6" cy="280.8" r="0.74" fill="#d23a68" opacity="0.55"/>
<circle cx="1183.5" cy="266.3" r="0.57" fill="#d23a68" opacity="0.73"/>
<circle cx="1139.9" cy="266.3" r="0.70" fill="#b0dbe8" opacity="0.50"/>
<circle cx="1170.4" cy="278.8" r="0.40" fill="#b0dbe8" opacity="0.70"/>
<circle cx="1116.9" cy="273.7" r="0.62" fill="#8c9aa2" opacity="0.46"/>
<circle cx="1180.0" cy="299.1" r="0.50" fill="#b0dbe8" opacity="0.62"/>
<circle cx="1196.2" cy="298.3" r="0.52" fill="#8c9aa2" opacity="0.72"/>
<circle cx="1225.7" cy="236.7" r="0.65" fill="#d23a68" opacity="0.58"/>
<circle cx="1178.2" cy="256.0" r="0.68" fill="#b0dbe8" opacity="0.82"/>
<circle cx="1223.1" cy="237.2" r="0.64" fill="#d23a68" opacity="0.81"/>
<circle cx="1199.2" cy="294.3" r="0.41" fill="#8c9aa2" opacity="0.41"/>
<circle cx="1221.5" cy="286.1" r="0.41" fill="#8c9aa2" opacity="0.74"/>
<circle cx="1201.3" cy="252.2" r="0.45" fill="#d23a68" opacity="0.69"/>
<circle cx="1207.7" cy="297.5" r="0.55" fill="#8c9aa2" opacity="0.45"/>
<circle cx="1143.5" cy="282.0" r="0.58" fill="#d23a68" opacity="0.35"/>
<circle cx="1170.8" cy="270.1" r="0.44" fill="#d23a68" opacity="0.81"/>
<circle cx="1151.0" cy="272.7" r="0.70" fill="#8c9aa2" opacity="0.67"/>
<circle cx="1203.2" cy="291.7" r="0.41" fill="#8c9aa2" opacity="0.68"/>
<circle cx="1230.4" cy="321.2" r="0.65" fill="#d23a68" opacity="0.85"/>
<circle cx="1160.9" cy="255.1" r="0.74" fill="#d23a68" opacity="0.47"/>
<circle cx="1147.5" cy="271.2" r="0.49" fill="#8c9aa2" opacity="0.46"/>
<circle cx="1199.1" cy="258.3" r="0.63" fill="#d23a68" opacity="0.63"/>
<circle cx="1160.7" cy="276.4" r="0.65" fill="#d23a68" opacity="0.52"/>
<circle cx="1110.1" cy="275.8" r="0.70" fill="#d23a68" opacity="0.66"/>
<circle cx="1156.7" cy="281.2" r="0.46" fill="#d23a68" opacity="0.69"/>
<circle cx="1215.9" cy="221.8" r="0.57" fill="#d23a68" opacity="0.52"/>
<circle cx="1178.0" cy="286.1" r="0.72" fill="#8c9aa2" opacity="0.81"/>
<circle cx="1206.7" cy="249.3" r="0.53" fill="#d23a68" opacity="0.84"/>
<circle cx="1187.9" cy="302.9" r="0.65" fill="#8c9aa2" opacity="0.63"/>
<circle cx="1165.9" cy="279.0" r="0.45" fill="#d23a68" opacity="0.56"/>
<circle cx="1191.3" cy="279.2" r="0.62" fill="#8c9aa2" opacity="0.74"/>
<circle cx="1187.0" cy="279.4" r="0.58" fill="#d23a68" opacity="0.50"/>
<circle cx="1226.6" cy="285.0" r="0.50" fill="#8c9aa2" opacity="0.65"/>
<circle cx="1131.2" cy="287.3" r="0.65" fill="#d23a68" opacity="0.37"/>
<circle cx="1196.2" cy="320.9" r="0.69" fill="#8c9aa2" opacity="0.51"/>
<circle cx="1175.2" cy="251.3" r="0.42" fill="#d23a68" opacity="0.39"/>
<circle cx="1128.7" cy="276.1" r="0.57" fill="#d23a68" opacity="0.77"/>
<circle cx="1176.0" cy="289.2" r="0.68" fill="#d23a68" opacity="0.57"/>
<circle cx="1211.4" cy="327.3" r="0.69" fill="#d23a68" opacity="0.81"/>
<circle cx="1159.6" cy="269.9" r="0.66" fill="#d23a68" opacity="0.68"/>
<circle cx="1155.5" cy="288.2" r="0.58" fill="#b0dbe8" opacity="0.71"/>
<circle cx="1144.8" cy="273.8" r="0.55" fill="#8c9aa2" opacity="0.46"/>
<circle cx="1182.7" cy="255.1" r="0.72" fill="#8c9aa2" opacity="0.73"/>
<circle cx="1176.9" cy="245.1" r="0.72" fill="#d23a68" opacity="0.57"/>
<circle cx="1230.6" cy="252.6" r="0.47" fill="#8c9aa2" opacity="0.59"/>
<circle cx="1206.1" cy="238.7" r="0.53" fill="#d23a68" opacity="0.75"/>
<circle cx="1157.0" cy="283.5" r="0.50" fill="#d23a68" opacity="0.61"/>
<circle cx="1164.4" cy="275.8" r="0.72" fill="#d23a68" opacity="0.77"/>
<circle cx="1214.5" cy="246.0" r="0.47" fill="#8c9aa2" opacity="0.53"/>
<circle cx="1144.8" cy="279.4" r="0.51" fill="#d23a68" opacity="0.69"/>
<circle cx="1175.7" cy="262.8" r="0.55" fill="#8c9aa2" opacity="0.56"/>
<circle cx="1142.8" cy="265.2" r="0.51" fill="#8c9aa2" opacity="0.49"/>
<circle cx="1225.9" cy="264.0" r="0.54" fill="#8c9aa2" opacity="0.54"/>
<circle cx="1200.6" cy="280.0" r="0.71" fill="#d23a68" opacity="0.50"/>
<circle cx="1219.1" cy="285.8" r="0.45" fill="#d23a68" opacity="0.62"/>
<circle cx="1223.5" cy="258.3" r="0.48" fill="#d23a68" opacity="0.64"/>
<circle cx="1217.1" cy="303.5" r="0.59" fill="#d23a68" opacity="0.60"/>
<circle cx="1156.3" cy="268.2" r="0.71" fill="#d23a68" opacity="0.49"/>
<circle cx="1223.9" cy="273.3" r="0.74" fill="#b0dbe8" opacity="0.44"/>
<circle cx="1208.7" cy="274.3" r="0.71" fill="#d23a68" opacity="0.42"/>
<circle cx="1201.8" cy="274.7" r="0.46" fill="#b0dbe8" opacity="0.84"/>
<circle cx="1205.0" cy="244.8" r="0.41" fill="#d23a68" opacity="0.46"/>
<circle cx="1141.6" cy="271.7" r="0.70" fill="#d23a68" opacity="0.70"/>
<circle cx="1166.0" cy="279.8" r="0.43" fill="#d23a68" opacity="0.51"/>
<circle cx="1130.9" cy="288.9" r="0.69" fill="#d23a68" opacity="0.38"/>
<circle cx="1147.8" cy="301.7" r="0.59" fill="#d23a68" opacity="0.79"/>
<circle cx="1222.2" cy="244.0" r="0.58" fill="#d23a68" opacity="0.49"/>
<circle cx="1171.9" cy="295.8" r="0.54" fill="#8c9aa2" opacity="0.45"/>
<circle cx="1172.6" cy="289.6" r="0.60" fill="#b0dbe8" opacity="0.48"/>
<circle cx="1187.6" cy="279.4" r="0.45" fill="#d23a68" opacity="0.62"/>
<circle cx="1164.6" cy="282.6" r="0.65" fill="#d23a68" opacity="0.37"/>
<circle cx="1188.8" cy="283.5" r="0.70" fill="#8c9aa2" opacity="0.42"/>
<circle cx="1216.3" cy="268.3" r="0.65" fill="#8c9aa2" opacity="0.85"/>
<circle cx="1162.6" cy="280.8" r="0.73" fill="#8c9aa2" opacity="0.62"/>
<circle cx="1208.7" cy="288.6" r="0.47" fill="#d23a68" opacity="0.41"/>
<circle cx="1176.2" cy="284.3" r="0.58" fill="#8c9aa2" opacity="0.61"/>
<circle cx="1192.1" cy="275.0" r="0.44" fill="#d23a68" opacity="0.42"/>
<circle cx="1175.0" cy="248.2" r="0.64" fill="#d23a68" opacity="0.40"/>
<circle cx="1156.7" cy="273.9" r="0.59" fill="#d23a68" opacity="0.63"/>
<circle cx="1162.4" cy="247.9" r="0.42" fill="#d23a68" opacity="0.82"/>
<circle cx="1161.0" cy="298.5" r="0.46" fill="#d23a68" opacity="0.49"/>
<circle cx="1228.4" cy="242.8" r="0.49" fill="#d23a68" opacity="0.48"/>
<circle cx="1175.1" cy="292.1" r="0.63" fill="#b0dbe8" opacity="0.35"/>
<circle cx="1175.0" cy="273.2" r="0.47" fill="#d23a68" opacity="0.47"/>
<circle cx="1157.5" cy="286.9" r="0.50" fill="#d23a68" opacity="0.66"/>
<circle cx="1174.1" cy="261.8" r="0.46" fill="#d23a68" opacity="0.75"/>
<circle cx="1208.2" cy="266.7" r="0.41" fill="#8c9aa2" opacity="0.67"/>
<circle cx="1221.0" cy="249.2" r="0.58" fill="#8c9aa2" opacity="0.70"/>
<circle cx="1216.5" cy="264.8" r="0.63" fill="#8c9aa2" opacity="0.82"/>
<circle cx="1120.3" cy="276.1" r="0.72" fill="#8c9aa2" opacity="0.37"/>
<circle cx="1207.5" cy="248.7" r="0.64" fill="#d23a68" opacity="0.74"/>
<circle cx="1157.0" cy="256.7" r="0.65" fill="#d23a68" opacity="0.43"/>
<circle cx="1141.6" cy="289.8" r="0.57" fill="#b0dbe8" opacity="0.72"/>
<circle cx="1166.8" cy="294.4" r="0.61" fill="#d23a68" opacity="0.49"/>
<circle cx="1127.6" cy="274.9" r="0.46" fill="#8c9aa2" opacity="0.49"/>
<circle cx="1175.4" cy="273.8" r="0.62" fill="#8c9aa2" opacity="0.39"/>
<circle cx="1170.2" cy="235.5" r="0.68" fill="#d23a68" opacity="0.76"/>
<circle cx="1214.3" cy="259.7" r="0.45" fill="#d23a68" opacity="0.75"/>
<circle cx="1158.0" cy="262.1" r="0.73" fill="#8c9aa2" opacity="0.46"/>
<circle cx="1132.4" cy="275.3" r="0.48" fill="#8c9aa2" opacity="0.63"/>
<circle cx="1164.2" cy="287.6" r="0.52" fill="#8c9aa2" opacity="0.45"/>
<circle cx="1206.6" cy="250.6" r="0.42" fill="#d23a68" opacity="0.84"/>
<circle cx="1221.9" cy="297.2" r="0.42" fill="#d23a68" opacity="0.65"/>
<circle cx="1217.5" cy="289.3" r="0.72" fill="#b0dbe8" opacity="0.55"/>
<circle cx="1122.3" cy="272.2" r="0.48" fill="#d23a68" opacity="0.43"/>
<circle cx="1228.8" cy="247.9" r="0.74" fill="#d23a68" opacity="0.64"/>
<circle cx="1211.1" cy="277.7" r="0.73" fill="#8c9aa2" opacity="0.40"/>
<circle cx="1169.9" cy="264.6" r="0.61" fill="#d23a68" opacity="0.74"/>
<circle cx="1223.8" cy="190.3" r="0.65" fill="#8c9aa2" opacity="0.57"/>
<circle cx="1202.1" cy="283.6" r="0.68" fill="#8c9aa2" opacity="0.61"/>
<circle cx="1171.6" cy="272.6" r="0.59" fill="#d23a68" opacity="0.84"/>
<circle cx="1233.4" cy="301.2" r="0.54" fill="#d23a68" opacity="0.63"/>
<circle cx="1173.0" cy="284.5" r="0.56" fill="#b0dbe8" opacity="0.37"/>
<circle cx="1199.8" cy="281.2" r="0.71" fill="#d23a68" opacity="0.72"/>
<circle cx="1120.3" cy="274.3" r="0.68" fill="#d23a68" opacity="0.77"/>
<circle cx="1225.1" cy="285.6" r="0.60" fill="#d23a68" opacity="0.64"/>
<circle cx="1164.2" cy="283.0" r="0.47" fill="#b0dbe8" opacity="0.74"/>
<circle cx="1188.7" cy="271.8" r="0.68" fill="#d23a68" opacity="0.63"/>
<circle cx="1139.8" cy="292.6" r="0.43" fill="#8c9aa2" opacity="0.79"/>
<circle cx="1125.1" cy="275.0" r="0.67" fill="#b0dbe8" opacity="0.75"/>
<circle cx="1227.2" cy="259.2" r="0.54" fill="#d23a68" opacity="0.61"/>
<circle cx="1208.0" cy="257.2" r="0.57" fill="#8c9aa2" opacity="0.73"/>
<circle cx="1119.2" cy="277.5" r="0.66" fill="#d23a68" opacity="0.60"/>
<circle cx="1174.9" cy="268.3" r="0.65" fill="#d23a68" opacity="0.59"/>
<circle cx="1169.7" cy="258.9" r="0.62" fill="#b0dbe8" opacity="0.51"/>
<circle cx="1142.6" cy="281.6" r="0.46" fill="#d23a68" opacity="0.45"/>
<circle cx="1213.6" cy="259.5" r="0.66" fill="#d23a68" opacity="0.80"/>
<circle cx="1209.3" cy="288.7" r="0.56" fill="#d23a68" opacity="0.41"/>
<circle cx="1166.6" cy="286.5" r="0.58" fill="#8c9aa2" opacity="0.73"/>
<circle cx="1222.7" cy="296.9" r="0.55" fill="#8c9aa2" opacity="0.67"/>
<circle cx="1200.6" cy="262.6" r="0.56" fill="#8c9aa2" opacity="0.75"/>
<circle cx="1185.4" cy="244.9" r="0.56" fill="#8c9aa2" opacity="0.78"/>
<circle cx="1143.6" cy="277.9" r="0.66" fill="#b0dbe8" opacity="0.40"/>
<circle cx="1167.7" cy="273.5" r="0.55" fill="#d23a68" opacity="0.47"/>
<circle cx="1150.2" cy="257.5" r="0.42" fill="#d23a68" opacity="0.38"/>
<circle cx="1116.1" cy="274.3" r="0.64" fill="#b0dbe8" opacity="0.47"/>
<circle cx="1225.7" cy="345.3" r="0.47" fill="#d23a68" opacity="0.38"/>
<circle cx="1215.6" cy="280.0" r="0.54" fill="#d23a68" opacity="0.54"/>
<circle cx="1198.7" cy="286.2" r="0.42" fill="#d23a68" opacity="0.69"/>
<circle cx="1184.6" cy="252.9" r="0.44" fill="#d23a68" opacity="0.47"/>
<circle cx="1227.3" cy="298.7" r="0.71" fill="#d23a68" opacity="0.75"/>
<circle cx="1171.3" cy="271.9" r="0.50" fill="#8c9aa2" opacity="0.42"/>
<circle cx="1227.1" cy="224.2" r="0.59" fill="#b0dbe8" opacity="0.81"/>
<circle cx="1181.7" cy="307.8" r="0.46" fill="#d23a68" opacity="0.35"/>
<circle cx="1182.8" cy="286.0" r="0.52" fill="#d23a68" opacity="0.73"/>
<circle cx="1216.9" cy="293.2" r="0.59" fill="#d23a68" opacity="0.84"/>
<circle cx="1190.5" cy="244.8" r="0.49" fill="#d23a68" opacity="0.45"/>
<circle cx="1191.5" cy="283.6" r="0.67" fill="#d23a68" opacity="0.73"/>
<circle cx="1186.6" cy="293.3" r="0.44" fill="#d23a68" opacity="0.55"/>
<circle cx="1174.6" cy="265.8" r="0.69" fill="#8c9aa2" opacity="0.40"/>
<circle cx="1192.3" cy="255.7" r="0.74" fill="#d23a68" opacity="0.55"/>
<circle cx="1180.8" cy="271.8" r="0.71" fill="#8c9aa2" opacity="0.66"/>
<circle cx="1232.5" cy="242.7" r="0.72" fill="#8c9aa2" opacity="0.85"/>
<circle cx="1193.9" cy="302.1" r="0.59" fill="#d23a68" opacity="0.67"/>
<circle cx="1138.4" cy="271.4" r="0.51" fill="#d23a68" opacity="0.70"/>
<circle cx="1111.2" cy="271.2" r="0.66" fill="#b0dbe8" opacity="0.61"/>
<circle cx="1195.3" cy="258.6" r="0.64" fill="#d23a68" opacity="0.35"/>
<circle cx="1123.5" cy="283.4" r="0.40" fill="#b0dbe8" opacity="0.39"/>
<circle cx="1213.8" cy="262.2" r="0.44" fill="#b0dbe8" opacity="0.58"/>
<circle cx="1206.2" cy="272.4" r="0.64" fill="#8c9aa2" opacity="0.60"/>
<circle cx="1142.4" cy="275.7" r="0.50" fill="#d23a68" opacity="0.84"/>
<circle cx="1214.3" cy="306.3" r="0.48" fill="#b0dbe8" opacity="0.82"/>
<circle cx="1230.2" cy="206.7" r="0.73" fill="#b0dbe8" opacity="0.47"/>
<circle cx="1156.0" cy="269.6" r="0.71" fill="#d23a68" opacity="0.42"/>
<circle cx="1191.1" cy="309.5" r="0.72" fill="#b0dbe8" opacity="0.48"/>
<circle cx="1153.6" cy="277.2" r="0.59" fill="#8c9aa2" opacity="0.41"/>
<circle cx="1201.5" cy="248.6" r="0.53" fill="#8c9aa2" opacity="0.45"/>
<circle cx="1124.0" cy="280.2" r="0.40" fill="#b0dbe8" opacity="0.66"/>
<circle cx="1207.2" cy="306.5" r="0.74" fill="#b0dbe8" opacity="0.67"/>
<circle cx="1190.4" cy="265.0" r="0.52" fill="#d23a68" opacity="0.38"/>
<circle cx="1196.2" cy="240.3" r="0.59" fill="#b0dbe8" opacity="0.42"/>
<circle cx="1193.2" cy="305.7" r="0.70" fill="#8c9aa2" opacity="0.48"/>
<circle cx="1118.1" cy="274.2" r="0.50" fill="#d23a68" opacity="0.59"/>
<circle cx="1152.1" cy="265.9" r="0.64" fill="#8c9aa2" opacity="0.62"/>
<circle cx="1181.0" cy="261.7" r="0.65" fill="#d23a68" opacity="0.48"/>
<circle cx="1185.2" cy="290.7" r="0.55" fill="#d23a68" opacity="0.40"/>
<circle cx="1218.1" cy="271.8" r="0.70" fill="#8c9aa2" opacity="0.66"/>
<circle cx="1222.2" cy="295.8" r="0.43" fill="#d23a68" opacity="0.80"/>
<circle cx="1210.7" cy="263.1" r="0.70" fill="#8c9aa2" opacity="0.54"/>
<circle cx="1218.4" cy="346.8" r="0.54" fill="#d23a68" opacity="0.83"/>
<circle cx="1233.3" cy="291.9" r="0.70" fill="#d23a68" opacity="0.59"/>
<circle cx="1232.3" cy="289.4" r="0.45" fill="#8c9aa2" opacity="0.57"/>
<circle cx="1153.5" cy="279.3" r="0.74" fill="#8c9aa2" opacity="0.76"/>
<circle cx="1175.2" cy="286.3" r="0.55" fill="#d23a68" opacity="0.49"/>
<circle cx="1209.1" cy="255.9" r="0.48" fill="#d23a68" opacity="0.84"/>
<circle cx="1119.4" cy="277.4" r="0.64" fill="#b0dbe8" opacity="0.65"/>
<circle cx="1208.2" cy="272.8" r="0.74" fill="#d23a68" opacity="0.64"/>
<circle cx="1215.3" cy="257.0" r="0.48" fill="#b0dbe8" opacity="0.38"/>
<circle cx="1224.5" cy="264.3" r="0.68" fill="#d23a68" opacity="0.36"/>
<circle cx="1216.8" cy="249.0" r="0.53" fill="#b0dbe8" opacity="0.51"/>
<circle cx="1218.4" cy="290.5" r="0.50" fill="#b0dbe8" opacity="0.67"/>
<circle cx="1199.4" cy="283.9" r="0.48" fill="#8c9aa2" opacity="0.51"/>
<circle cx="1177.0" cy="283.5" r="0.67" fill="#8c9aa2" opacity="0.84"/>
<circle cx="1145.3" cy="273.3" r="0.60" fill="#d23a68" opacity="0.75"/>
<circle cx="1203.9" cy="268.7" r="0.57" fill="#b0dbe8" opacity="0.67"/>
<circle cx="1124.1" cy="269.6" r="0.44" fill="#8c9aa2" opacity="0.44"/>
<circle cx="1229.2" cy="278.1" r="0.45" fill="#b0dbe8" opacity="0.66"/>
<circle cx="1123.0" cy="286.1" r="0.64" fill="#d23a68" opacity="0.35"/>
<circle cx="1206.7" cy="288.9" r="0.63" fill="#b0dbe8" opacity="0.36"/>
<circle cx="1163.9" cy="269.5" r="0.48" fill="#d23a68" opacity="0.57"/>
<circle cx="1143.2" cy="265.4" r="0.43" fill="#d23a68" opacity="0.66"/>
<circle cx="1172.9" cy="255.0" r="0.66" fill="#d23a68" opacity="0.70"/>
<circle cx="1135.4" cy="274.0" r="0.51" fill="#8c9aa2" opacity="0.47"/>
<circle cx="1178.9" cy="235.3" r="0.60" fill="#d23a68" opacity="0.81"/>
<circle cx="1141.0" cy="264.0" r="0.63" fill="#8c9aa2" opacity="0.81"/>
<circle cx="1186.3" cy="263.0" r="0.59" fill="#d23a68" opacity="0.56"/>
<circle cx="1133.2" cy="278.2" r="0.61" fill="#d23a68" opacity="0.61"/>
<circle cx="1166.8" cy="261.9" r="0.51" fill="#8c9aa2" opacity="0.81"/>
<circle cx="1158.9" cy="261.4" r="0.60" fill="#d23a68" opacity="0.66"/>
<circle cx="1218.7" cy="288.0" r="0.67" fill="#d23a68" opacity="0.54"/>
<circle cx="1183.7" cy="293.2" r="0.69" fill="#8c9aa2" opacity="0.61"/>
<circle cx="1227.3" cy="280.8" r="0.57" fill="#8c9aa2" opacity="0.59"/>
<circle cx="1204.5" cy="267.5" r="0.45" fill="#8c9aa2" opacity="0.77"/>
<circle cx="1206.7" cy="288.6" r="0.66" fill="#b0dbe8" opacity="0.48"/>
<circle cx="1203.3" cy="243.0" r="0.56" fill="#8c9aa2" opacity="0.61"/>
<circle cx="1165.7" cy="269.4" r="0.41" fill="#d23a68" opacity="0.56"/>
<circle cx="1213.0" cy="292.0" r="0.42" fill="#d23a68" opacity="0.76"/>
<circle cx="1229.8" cy="239.1" r="0.69" fill="#8c9aa2" opacity="0.37"/>
<circle cx="1222.2" cy="254.5" r="0.41" fill="#8c9aa2" opacity="0.82"/>
<circle cx="1120.3" cy="272.5" r="0.43" fill="#8c9aa2" opacity="0.83"/>
<circle cx="1229.9" cy="226.7" r="0.47" fill="#d23a68" opacity="0.70"/>
<circle cx="1188.4" cy="276.1" r="0.57" fill="#8c9aa2" opacity="0.81"/>
<circle cx="1179.1" cy="276.8" r="0.58" fill="#8c9aa2" opacity="0.37"/>
<circle cx="1159.2" cy="298.3" r="0.74" fill="#d23a68" opacity="0.82"/>
<circle cx="1155.7" cy="267.9" r="0.71" fill="#d23a68" opacity="0.46"/>
<circle cx="1214.7" cy="287.6" r="0.57" fill="#d23a68" opacity="0.77"/>
<circle cx="1181.9" cy="281.7" r="0.46" fill="#b0dbe8" opacity="0.45"/>
<circle cx="1157.6" cy="285.0" r="0.65" fill="#d23a68" opacity="0.43"/>
<circle cx="1175.8" cy="274.5" r="0.74" fill="#d23a68" opacity="0.51"/>
<circle cx="1230.3" cy="301.7" r="0.68" fill="#d23a68" opacity="0.70"/>
<circle cx="1113.6" cy="275.2" r="0.58" fill="#b0dbe8" opacity="0.77"/>
<circle cx="1163.3" cy="280.4" r="0.43" fill="#8c9aa2" opacity="0.60"/>
<circle cx="1208.5" cy="276.8" r="0.66" fill="#d23a68" opacity="0.83"/>
<circle cx="1171.3" cy="260.3" r="0.47" fill="#d23a68" opacity="0.63"/>
<circle cx="1173.8" cy="267.2" r="0.61" fill="#d23a68" opacity="0.57"/>
<circle cx="1159.8" cy="279.5" r="0.55" fill="#d23a68" opacity="0.64"/>
<circle cx="1164.2" cy="270.9" r="0.54" fill="#d23a68" opacity="0.52"/>
<circle cx="1198.8" cy="244.5" r="0.52" fill="#b0dbe8" opacity="0.37"/>
<circle cx="1195.3" cy="282.1" r="0.54" fill="#d23a68" opacity="0.79"/>
<circle cx="1208.3" cy="269.9" r="0.72" fill="#d23a68" opacity="0.55"/>
<circle cx="1123.5" cy="274.0" r="0.51" fill="#d23a68" opacity="0.57"/>
<circle cx="1183.0" cy="280.1" r="0.58" fill="#b0dbe8" opacity="0.72"/>
<circle cx="1117.0" cy="277.5" r="0.44" fill="#8c9aa2" opacity="0.63"/>
<circle cx="1148.1" cy="269.9" r="0.54" fill="#8c9aa2" opacity="0.83"/>
<circle cx="1220.0" cy="275.5" r="0.51" fill="#8c9aa2" opacity="0.47"/>
<circle cx="1120.2" cy="278.4" r="0.64" fill="#8c9aa2" opacity="0.48"/>
<circle cx="1233.2" cy="279.9" r="0.46" fill="#d23a68" opacity="0.36"/>
<circle cx="1159.0" cy="284.5" r="0.47" fill="#b0dbe8" opacity="0.58"/>
<circle cx="1218.7" cy="305.1" r="0.43" fill="#8c9aa2" opacity="0.77"/>
<circle cx="1205.3" cy="285.2" r="0.72" fill="#d23a68" opacity="0.66"/>
<circle cx="1226.3" cy="285.7" r="0.41" fill="#d23a68" opacity="0.41"/>
<circle cx="1135.6" cy="269.7" r="0.47" fill="#8c9aa2" opacity="0.68"/>
<circle cx="1117.7" cy="276.0" r="0.57" fill="#d23a68" opacity="0.59"/>
<circle cx="1156.2" cy="279.3" r="0.69" fill="#b0dbe8" opacity="0.42"/>
<circle cx="1202.8" cy="250.8" r="0.50" fill="#d23a68" opacity="0.43"/>
<circle cx="1197.9" cy="298.5" r="0.54" fill="#d23a68" opacity="0.77"/>
<circle cx="1225.9" cy="284.4" r="0.51" fill="#8c9aa2" opacity="0.42"/>
<circle cx="1202.1" cy="280.4" r="0.52" fill="#8c9aa2" opacity="0.74"/>
<circle cx="1144.9" cy="283.2" r="0.65" fill="#8c9aa2" opacity="0.63"/>
<circle cx="1176.1" cy="257.8" r="0.61" fill="#d23a68" opacity="0.65"/>
<circle cx="1219.7" cy="266.5" r="0.58" fill="#d23a68" opacity="0.71"/>
<circle cx="1164.6" cy="290.3" r="0.69" fill="#d23a68" opacity="0.51"/>
<circle cx="1173.6" cy="250.1" r="0.63" fill="#8c9aa2" opacity="0.78"/>
<circle cx="1135.7" cy="267.1" r="0.68" fill="#d23a68" opacity="0.53"/>
<circle cx="1168.6" cy="288.6" r="0.42" fill="#d23a68" opacity="0.59"/>
<circle cx="1152.6" cy="274.3" r="0.71" fill="#b0dbe8" opacity="0.59"/>
<circle cx="1187.6" cy="279.0" r="0.40" fill="#d23a68" opacity="0.40"/>
<circle cx="1161.4" cy="307.3" r="0.69" fill="#d23a68" opacity="0.46"/>
<circle cx="1207.2" cy="250.4" r="0.72" fill="#d23a68" opacity="0.59"/>
<circle cx="1136.3" cy="265.7" r="0.63" fill="#8c9aa2" opacity="0.52"/>
<circle cx="1212.1" cy="247.4" r="0.68" fill="#d23a68" opacity="0.76"/>
<circle cx="1174.9" cy="281.5" r="0.69" fill="#b0dbe8" opacity="0.70"/>
<circle cx="1209.3" cy="246.6" r="0.66" fill="#8c9aa2" opacity="0.57"/>
<circle cx="1118.8" cy="277.1" r="0.51" fill="#d23a68" opacity="0.52"/>
<circle cx="1174.7" cy="256.3" r="0.66" fill="#8c9aa2" opacity="0.55"/>
<circle cx="1225.3" cy="282.7" r="0.62" fill="#d23a68" opacity="0.70"/>
<circle cx="1181.7" cy="267.2" r="0.55" fill="#8c9aa2" opacity="0.41"/>
<circle cx="1210.2" cy="220.1" r="0.59" fill="#8c9aa2" opacity="0.37"/>
<circle cx="1122.5" cy="276.3" r="0.55" fill="#b0dbe8" opacity="0.80"/>
<circle cx="1181.2" cy="279.1" r="0.41" fill="#8c9aa2" opacity="0.44"/>
<circle cx="1212.7" cy="256.4" r="0.70" fill="#d23a68" opacity="0.63"/>
<circle cx="1194.8" cy="268.8" r="0.69" fill="#d23a68" opacity="0.42"/>
<circle cx="1166.2" cy="266.3" r="0.51" fill="#d23a68" opacity="0.39"/>
<circle cx="1214.1" cy="300.1" r="0.44" fill="#d23a68" opacity="0.41"/>
<circle cx="1222.1" cy="290.2" r="0.64" fill="#8c9aa2" opacity="0.57"/>
<circle cx="1187.7" cy="289.4" r="0.42" fill="#d23a68" opacity="0.84"/>
<circle cx="1192.1" cy="274.9" r="0.67" fill="#8c9aa2" opacity="0.62"/>
<circle cx="1229.4" cy="260.2" r="0.45" fill="#b0dbe8" opacity="0.47"/>
<circle cx="1184.6" cy="288.6" r="0.44" fill="#d23a68" opacity="0.44"/>
<circle cx="1123.5" cy="279.6" r="0.54" fill="#d23a68" opacity="0.66"/>
<circle cx="1130.4" cy="281.6" r="0.56" fill="#8c9aa2" opacity="0.40"/>
<circle cx="1151.1" cy="258.9" r="0.62" fill="#d23a68" opacity="0.85"/>
<circle cx="1157.6" cy="292.4" r="0.50" fill="#8c9aa2" opacity="0.69"/>
<circle cx="1215.8" cy="232.3" r="0.68" fill="#8c9aa2" opacity="0.84"/>
<circle cx="1216.4" cy="257.5" r="0.53" fill="#d23a68" opacity="0.75"/>
<circle cx="1142.5" cy="277.9" r="0.68" fill="#b0dbe8" opacity="0.41"/>
<circle cx="1218.7" cy="263.3" r="0.60" fill="#d23a68" opacity="0.53"/>
<circle cx="1189.4" cy="263.8" r="0.52" fill="#d23a68" opacity="0.73"/>
<circle cx="1208.5" cy="297.3" r="0.52" fill="#8c9aa2" opacity="0.81"/>
<circle cx="1214.2" cy="263.7" r="0.50" fill="#8c9aa2" opacity="0.69"/>
<circle cx="1224.2" cy="265.6" r="0.52" fill="#d23a68" opacity="0.36"/>
<circle cx="1145.1" cy="275.5" r="0.64" fill="#d23a68" opacity="0.84"/>
<circle cx="1231.6" cy="211.7" r="0.48" fill="#8c9aa2" opacity="0.66"/>
<circle cx="1180.4" cy="266.2" r="0.51" fill="#b0dbe8" opacity="0.36"/>
<circle cx="1139.2" cy="268.2" r="0.69" fill="#d23a68" opacity="0.72"/>
<circle cx="1210.8" cy="250.8" r="0.63" fill="#d23a68" opacity="0.71"/>
<circle cx="1133.8" cy="282.7" r="0.49" fill="#8c9aa2" opacity="0.49"/>
<circle cx="1161.8" cy="278.3" r="0.72" fill="#8c9aa2" opacity="0.38"/>
<circle cx="1185.1" cy="268.0" r="0.66" fill="#d23a68" opacity="0.70"/>
<circle cx="1197.4" cy="297.0" r="0.43" fill="#d23a68" opacity="0.49"/>
<circle cx="1129.5" cy="274.8" r="0.42" fill="#b0dbe8" opacity="0.42"/>
<circle cx="1183.5" cy="299.7" r="0.45" fill="#8c9aa2" opacity="0.57"/>
<circle cx="1139.0" cy="284.2" r="0.45" fill="#d23a68" opacity="0.46"/>
<circle cx="1195.4" cy="273.0" r="0.46" fill="#d23a68" opacity="0.36"/>
<circle cx="1146.3" cy="266.6" r="0.53" fill="#d23a68" opacity="0.39"/>
<circle cx="1165.3" cy="268.6" r="0.59" fill="#8c9aa2" opacity="0.76"/>
<circle cx="1154.2" cy="307.6" r="0.51" fill="#d23a68" opacity="0.79"/>
<circle cx="1157.8" cy="269.7" r="0.65" fill="#8c9aa2" opacity="0.38"/>
<circle cx="1189.4" cy="294.4" r="0.69" fill="#b0dbe8" opacity="0.59"/>
<circle cx="1139.7" cy="267.4" r="0.72" fill="#8c9aa2" opacity="0.72"/>
<circle cx="1216.9" cy="271.2" r="0.45" fill="#d23a68" opacity="0.64"/>
<circle cx="1213.5" cy="250.6" r="0.62" fill="#b0dbe8" opacity="0.74"/>
<circle cx="1176.0" cy="283.3" r="0.51" fill="#d23a68" opacity="0.65"/>
<circle cx="1192.0" cy="294.0" r="0.72" fill="#d23a68" opacity="0.72"/>
<circle cx="1204.0" cy="303.7" r="0.44" fill="#b0dbe8" opacity="0.84"/>
<circle cx="1140.3" cy="278.5" r="0.46" fill="#d23a68" opacity="0.79"/>
<circle cx="1178.7" cy="288.5" r="0.59" fill="#d23a68" opacity="0.42"/>
<circle cx="1173.5" cy="263.8" r="0.45" fill="#d23a68" opacity="0.51"/>
<circle cx="1217.3" cy="239.1" r="0.41" fill="#b0dbe8" opacity="0.69"/>
<circle cx="1214.0" cy="332.6" r="0.47" fill="#d23a68" opacity="0.46"/>
<circle cx="1217.0" cy="302.2" r="0.41" fill="#8c9aa2" opacity="0.69"/>
<circle cx="1209.7" cy="293.3" r="0.54" fill="#d23a68" opacity="0.70"/>
<circle cx="1176.5" cy="222.7" r="0.56" fill="#8c9aa2" opacity="0.61"/>
<circle cx="1112.1" cy="277.1" r="0.47" fill="#d23a68" opacity="0.43"/>
<circle cx="1184.6" cy="301.8" r="0.44" fill="#d23a68" opacity="0.36"/>
<circle cx="1188.9" cy="244.4" r="0.74" fill="#b0dbe8" opacity="0.74"/>
<circle cx="1232.7" cy="264.7" r="0.59" fill="#d23a68" opacity="0.83"/>
<circle cx="1170.6" cy="260.7" r="0.74" fill="#d23a68" opacity="0.68"/>
<circle cx="1212.5" cy="223.6" r="0.56" fill="#d23a68" opacity="0.79"/>
<circle cx="1197.0" cy="249.0" r="0.70" fill="#d23a68" opacity="0.49"/>
<circle cx="1218.9" cy="274.2" r="0.44" fill="#8c9aa2" opacity="0.48"/>
<circle cx="1172.4" cy="247.5" r="0.70" fill="#b0dbe8" opacity="0.69"/>
<circle cx="1128.3" cy="271.3" r="0.71" fill="#8c9aa2" opacity="0.50"/>
<circle cx="1191.7" cy="285.3" r="0.41" fill="#d23a68" opacity="0.64"/>
<circle cx="1130.8" cy="280.8" r="0.61" fill="#8c9aa2" opacity="0.71"/>
<circle cx="1181.2" cy="271.6" r="0.49" fill="#d23a68" opacity="0.64"/>
<circle cx="1205.2" cy="269.3" r="0.65" fill="#8c9aa2" opacity="0.80"/>
<circle cx="1186.5" cy="305.7" r="0.41" fill="#b0dbe8" opacity="0.50"/>
<circle cx="1132.4" cy="273.9" r="0.41" fill="#d23a68" opacity="0.78"/>
<circle cx="1201.2" cy="268.7" r="0.55" fill="#8c9aa2" opacity="0.43"/>
<circle cx="1161.8" cy="259.6" r="0.52" fill="#8c9aa2" opacity="0.55"/>
<circle cx="1217.8" cy="238.3" r="0.63" fill="#b0dbe8" opacity="0.40"/>
<circle cx="1176.0" cy="260.7" r="0.52" fill="#d23a68" opacity="0.37"/>
<circle cx="1174.2" cy="273.8" r="0.43" fill="#b0dbe8" opacity="0.73"/>
<circle cx="1153.8" cy="271.9" r="0.53" fill="#d23a68" opacity="0.66"/>
<circle cx="1137.1" cy="271.9" r="0.64" fill="#8c9aa2" opacity="0.47"/>
<circle cx="1125.4" cy="280.5" r="0.67" fill="#d23a68" opacity="0.45"/>
<circle cx="1231.3" cy="261.4" r="0.41" fill="#8c9aa2" opacity="0.35"/>
<circle cx="1181.3" cy="289.6" r="0.56" fill="#8c9aa2" opacity="0.63"/>
<circle cx="1107.2" cy="276.1" r="0.70" fill="#d23a68" opacity="0.68"/>
<circle cx="1138.4" cy="271.0" r="0.61" fill="#d23a68" opacity="0.78"/>
<circle cx="1218.4" cy="294.4" r="0.41" fill="#b0dbe8" opacity="0.71"/>
<circle cx="1198.4" cy="273.5" r="0.47" fill="#d23a68" opacity="0.61"/>
<circle cx="1169.7" cy="278.2" r="0.68" fill="#d23a68" opacity="0.69"/>
<circle cx="1162.7" cy="293.6" r="0.67" fill="#8c9aa2" opacity="0.75"/>
<circle cx="1179.6" cy="275.3" r="0.45" fill="#b0dbe8" opacity="0.67"/>
<circle cx="1149.3" cy="279.8" r="0.67" fill="#b0dbe8" opacity="0.42"/>
<circle cx="1208.0" cy="267.3" r="0.66" fill="#8c9aa2" opacity="0.64"/>
<circle cx="1122.4" cy="277.1" r="0.65" fill="#d23a68" opacity="0.53"/>
<circle cx="1140.2" cy="269.6" r="0.72" fill="#d23a68" opacity="0.43"/>
<circle cx="1155.9" cy="272.0" r="0.62" fill="#d23a68" opacity="0.60"/>
<circle cx="1182.7" cy="249.6" r="0.47" fill="#8c9aa2" opacity="0.47"/>
<circle cx="1196.2" cy="245.2" r="0.47" fill="#d23a68" opacity="0.75"/>
<circle cx="1202.5" cy="274.1" r="0.72" fill="#d23a68" opacity="0.58"/>
<circle cx="1163.7" cy="268.3" r="0.67" fill="#d23a68" opacity="0.41"/>
<circle cx="1172.2" cy="280.1" r="0.50" fill="#d23a68" opacity="0.45"/>
<circle cx="1204.2" cy="276.4" r="0.65" fill="#b0dbe8" opacity="0.80"/>
<circle cx="1126.8" cy="277.2" r="0.60" fill="#d23a68" opacity="0.74"/>
<circle cx="1124.1" cy="277.3" r="0.57" fill="#b0dbe8" opacity="0.36"/>
<circle cx="1175.4" cy="255.6" r="0.55" fill="#8c9aa2" opacity="0.62"/>
<circle cx="1195.9" cy="266.0" r="0.70" fill="#d23a68" opacity="0.66"/>
<circle cx="1177.0" cy="274.2" r="0.69" fill="#d23a68" opacity="0.40"/>
<circle cx="1152.2" cy="269.7" r="0.50" fill="#d23a68" opacity="0.50"/>
<circle cx="1232.2" cy="254.3" r="0.75" fill="#8c9aa2" opacity="0.56"/>
<circle cx="1130.2" cy="269.1" r="0.62" fill="#8c9aa2" opacity="0.78"/>
<circle cx="1186.9" cy="281.8" r="0.61" fill="#d23a68" opacity="0.78"/>
<circle cx="1146.8" cy="258.6" r="0.56" fill="#d23a68" opacity="0.59"/>
<circle cx="1172.7" cy="269.8" r="0.47" fill="#d23a68" opacity="0.62"/>
<circle cx="1146.8" cy="301.5" r="0.47" fill="#8c9aa2" opacity="0.77"/>
<circle cx="1219.5" cy="311.6" r="0.72" fill="#b0dbe8" opacity="0.61"/>
<circle cx="1158.2" cy="262.7" r="0.52" fill="#8c9aa2" opacity="0.70"/>
<circle cx="1199.8" cy="275.7" r="0.48" fill="#d23a68" opacity="0.40"/>
<circle cx="1132.1" cy="261.9" r="0.57" fill="#d23a68" opacity="0.64"/>
<circle cx="1163.1" cy="252.7" r="0.43" fill="#b0dbe8" opacity="0.79"/>
<circle cx="1208.0" cy="298.8" r="0.45" fill="#b0dbe8" opacity="0.58"/>
<circle cx="1222.3" cy="270.4" r="0.56" fill="#d23a68" opacity="0.63"/>
<circle cx="1203.2" cy="290.4" r="0.51" fill="#d23a68" opacity="0.37"/>
<circle cx="1222.6" cy="251.3" r="0.60" fill="#d23a68" opacity="0.37"/>
<circle cx="1210.7" cy="268.7" r="0.54" fill="#d23a68" opacity="0.78"/>
<circle cx="1223.5" cy="293.0" r="0.49" fill="#d23a68" opacity="0.76"/>
<circle cx="1202.8" cy="297.0" r="0.49" fill="#d23a68" opacity="0.44"/>
<circle cx="1158.0" cy="281.3" r="0.54" fill="#d23a68" opacity="0.44"/>
<circle cx="1228.3" cy="229.6" r="0.45" fill="#d23a68" opacity="0.57"/>
<circle cx="1200.5" cy="266.1" r="0.41" fill="#8c9aa2" opacity="0.38"/>
<circle cx="1187.6" cy="255.1" r="0.54" fill="#8c9aa2" opacity="0.40"/>
<circle cx="1217.4" cy="260.8" r="0.43" fill="#d23a68" opacity="0.61"/>
<circle cx="1194.9" cy="287.7" r="0.62" fill="#b0dbe8" opacity="0.76"/>
<circle cx="1205.0" cy="290.5" r="0.69" fill="#8c9aa2" opacity="0.73"/>
<circle cx="1192.2" cy="250.8" r="0.49" fill="#d23a68" opacity="0.38"/>
<circle cx="1146.8" cy="270.2" r="0.45" fill="#d23a68" opacity="0.49"/>
<circle cx="1177.4" cy="294.7" r="0.54" fill="#b0dbe8" opacity="0.51"/>
<circle cx="1140.0" cy="283.1" r="0.71" fill="#d23a68" opacity="0.78"/>
<circle cx="1220.2" cy="274.5" r="0.52" fill="#d23a68" opacity="0.49"/>
<circle cx="1225.0" cy="270.4" r="0.67" fill="#8c9aa2" opacity="0.42"/>
<circle cx="1194.0" cy="286.5" r="0.41" fill="#8c9aa2" opacity="0.66"/>
<circle cx="1184.2" cy="260.1" r="0.63" fill="#8c9aa2" opacity="0.65"/>
<circle cx="1184.5" cy="275.2" r="0.46" fill="#d23a68" opacity="0.43"/>
<circle cx="1180.1" cy="271.3" r="0.46" fill="#d23a68" opacity="0.81"/>
<circle cx="1203.8" cy="297.2" r="0.71" fill="#8c9aa2" opacity="0.47"/>
<circle cx="1207.1" cy="318.1" r="0.65" fill="#d23a68" opacity="0.82"/>
<circle cx="1232.0" cy="262.2" r="0.73" fill="#8c9aa2" opacity="0.56"/>
<circle cx="1171.6" cy="272.0" r="0.47" fill="#d23a68" opacity="0.52"/>
<circle cx="1173.1" cy="256.7" r="0.58" fill="#8c9aa2" opacity="0.76"/>
<circle cx="1124.1" cy="273.6" r="0.42" fill="#b0dbe8" opacity="0.75"/>
<circle cx="1204.9" cy="280.6" r="0.55" fill="#d23a68" opacity="0.76"/>
<circle cx="1179.8" cy="253.3" r="0.53" fill="#d23a68" opacity="0.63"/>
<circle cx="1129.3" cy="276.3" r="0.51" fill="#d23a68" opacity="0.36"/>
<circle cx="1152.4" cy="286.7" r="0.42" fill="#8c9aa2" opacity="0.61"/>
<circle cx="1160.3" cy="269.5" r="0.67" fill="#8c9aa2" opacity="0.59"/>
<circle cx="1162.4" cy="267.5" r="0.66" fill="#d23a68" opacity="0.68"/>
<circle cx="1161.7" cy="278.1" r="0.65" fill="#b0dbe8" opacity="0.54"/>
<circle cx="1204.3" cy="277.7" r="0.72" fill="#d23a68" opacity="0.53"/>
<circle cx="1144.1" cy="274.0" r="0.61" fill="#d23a68" opacity="0.65"/>
<circle cx="1167.9" cy="299.3" r="0.63" fill="#8c9aa2" opacity="0.35"/>
<circle cx="1163.0" cy="282.4" r="0.48" fill="#8c9aa2" opacity="0.79"/>
<circle cx="1158.2" cy="284.2" r="0.73" fill="#d23a68" opacity="0.65"/>
<circle cx="1225.9" cy="287.1" r="0.72" fill="#8c9aa2" opacity="0.69"/>
<circle cx="1141.8" cy="267.5" r="0.61" fill="#d23a68" opacity="0.52"/>
<circle cx="1198.8" cy="283.4" r="0.61" fill="#d23a68" opacity="0.82"/>
<circle cx="1212.7" cy="282.1" r="0.57" fill="#8c9aa2" opacity="0.66"/>
<circle cx="1191.0" cy="287.4" r="0.73" fill="#8c9aa2" opacity="0.75"/>
<circle cx="1163.5" cy="279.0" r="0.43" fill="#8c9aa2" opacity="0.52"/>
<circle cx="1129.9" cy="277.8" r="0.73" fill="#d23a68" opacity="0.53"/>
<circle cx="1149.8" cy="271.3" r="0.56" fill="#d23a68" opacity="0.43"/>
<circle cx="1213.2" cy="279.4" r="0.50" fill="#d23a68" opacity="0.79"/>
<circle cx="1180.7" cy="279.7" r="0.54" fill="#b0dbe8" opacity="0.61"/>
<circle cx="1218.8" cy="255.6" r="0.70" fill="#b0dbe8" opacity="0.70"/>
<circle cx="1231.1" cy="280.8" r="0.68" fill="#d23a68" opacity="0.38"/>
<circle cx="1133.7" cy="268.4" r="0.58" fill="#d23a68" opacity="0.43"/>
<circle cx="1145.5" cy="261.8" r="0.61" fill="#8c9aa2" opacity="0.78"/>
<circle cx="1146.3" cy="272.9" r="0.56" fill="#8c9aa2" opacity="0.56"/>
<circle cx="1138.6" cy="268.8" r="0.56" fill="#b0dbe8" opacity="0.60"/>
<circle cx="1169.7" cy="265.5" r="0.51" fill="#d23a68" opacity="0.49"/>
<circle cx="1210.5" cy="277.2" r="0.60" fill="#d23a68" opacity="0.36"/>
<circle cx="1194.5" cy="236.9" r="0.56" fill="#8c9aa2" opacity="0.42"/>
<circle cx="1192.9" cy="295.0" r="0.57" fill="#d23a68" opacity="0.83"/>
<circle cx="1195.4" cy="268.7" r="0.44" fill="#d23a68" opacity="0.46"/>
<circle cx="1200.4" cy="276.1" r="0.59" fill="#d23a68" opacity="0.42"/>
<circle cx="1144.2" cy="279.0" r="0.56" fill="#d23a68" opacity="0.53"/>
<circle cx="1163.4" cy="264.1" r="0.66" fill="#8c9aa2" opacity="0.74"/>
<circle cx="1220.8" cy="257.9" r="0.40" fill="#8c9aa2" opacity="0.52"/>
<circle cx="1206.4" cy="238.5" r="0.64" fill="#b0dbe8" opacity="0.59"/>
<circle cx="1132.6" cy="276.1" r="0.52" fill="#d23a68" opacity="0.75"/>
<circle cx="1201.7" cy="257.8" r="0.67" fill="#b0dbe8" opacity="0.74"/>
<circle cx="1194.0" cy="262.8" r="0.74" fill="#d23a68" opacity="0.45"/>
<circle cx="1174.1" cy="274.1" r="0.40" fill="#b0dbe8" opacity="0.58"/>
<circle cx="1231.2" cy="282.8" r="0.71" fill="#d23a68" opacity="0.64"/>
<circle cx="1127.8" cy="274.1" r="0.43" fill="#d23a68" opacity="0.66"/>
<circle cx="1157.6" cy="295.0" r="0.57" fill="#b0dbe8" opacity="0.67"/>
<circle cx="1177.2" cy="254.2" r="0.71" fill="#d23a68" opacity="0.74"/>
<circle cx="1219.3" cy="227.6" r="0.60" fill="#d23a68" opacity="0.48"/>
<circle cx="1177.6" cy="278.2" r="0.55" fill="#b0dbe8" opacity="0.50"/>
<circle cx="1131.3" cy="276.0" r="0.69" fill="#8c9aa2" opacity="0.41"/>
<circle cx="1223.4" cy="247.0" r="0.49" fill="#d23a68" opacity="0.68"/>
<circle cx="1123.5" cy="260.8" r="0.41" fill="#d23a68" opacity="0.75"/>
<circle cx="1216.6" cy="275.0" r="0.45" fill="#d23a68" opacity="0.57"/>
<circle cx="1196.9" cy="263.9" r="0.42" fill="#d23a68" opacity="0.65"/>
<circle cx="1222.6" cy="280.6" r="0.55" fill="#d23a68" opacity="0.60"/>
<circle cx="1193.8" cy="284.8" r="0.45" fill="#d23a68" opacity="0.38"/>
<circle cx="1163.7" cy="292.8" r="0.57" fill="#d23a68" opacity="0.83"/>
<circle cx="1210.2" cy="263.1" r="0.71" fill="#8c9aa2" opacity="0.82"/>
<circle cx="1135.7" cy="283.9" r="0.72" fill="#d23a68" opacity="0.71"/>
<circle cx="1158.8" cy="271.6" r="0.53" fill="#8c9aa2" opacity="0.74"/>
<circle cx="1204.4" cy="300.6" r="0.55" fill="#d23a68" opacity="0.57"/>
<circle cx="1196.6" cy="290.3" r="0.41" fill="#d23a68" opacity="0.49"/>
<circle cx="1191.5" cy="284.9" r="0.44" fill="#8c9aa2" opacity="0.51"/>
<circle cx="1179.5" cy="289.4" r="0.56" fill="#8c9aa2" opacity="0.47"/>
<circle cx="1147.7" cy="262.2" r="0.42" fill="#d23a68" opacity="0.79"/>
<circle cx="1190.9" cy="286.0" r="0.52" fill="#d23a68" opacity="0.37"/>
<circle cx="1231.4" cy="286.0" r="0.73" fill="#d23a68" opacity="0.67"/>
<circle cx="1217.4" cy="288.5" r="0.46" fill="#d23a68" opacity="0.42"/>
<circle cx="1201.2" cy="253.6" r="0.51" fill="#d23a68" opacity="0.51"/>
<circle cx="1222.3" cy="294.0" r="0.48" fill="#d23a68" opacity="0.70"/>
<circle cx="1201.3" cy="262.4" r="0.71" fill="#d23a68" opacity="0.54"/>
<circle cx="1152.2" cy="273.4" r="0.50" fill="#8c9aa2" opacity="0.64"/>
<circle cx="1218.0" cy="331.6" r="0.64" fill="#d23a68" opacity="0.44"/>
<circle cx="1230.4" cy="283.3" r="0.71" fill="#d23a68" opacity="0.50"/>
<circle cx="1228.1" cy="269.2" r="0.44" fill="#d23a68" opacity="0.78"/>
<circle cx="1172.8" cy="297.3" r="0.70" fill="#8c9aa2" opacity="0.50"/>
<circle cx="1173.8" cy="263.0" r="0.45" fill="#8c9aa2" opacity="0.45"/>
<circle cx="1130.7" cy="272.7" r="0.46" fill="#b0dbe8" opacity="0.65"/>
<circle cx="1168.9" cy="285.9" r="0.51" fill="#d23a68" opacity="0.61"/>
<circle cx="1134.3" cy="263.0" r="0.57" fill="#b0dbe8" opacity="0.69"/>
<circle cx="1212.0" cy="279.8" r="0.67" fill="#d23a68" opacity="0.73"/>
<circle cx="1205.0" cy="229.3" r="0.68" fill="#b0dbe8" opacity="0.78"/>
<circle cx="1175.5" cy="268.2" r="0.69" fill="#d23a68" opacity="0.71"/>
<circle cx="1220.8" cy="292.4" r="0.61" fill="#d23a68" opacity="0.42"/>
<circle cx="1187.7" cy="310.8" r="0.54" fill="#d23a68" opacity="0.79"/>
<circle cx="1148.4" cy="262.9" r="0.48" fill="#b0dbe8" opacity="0.45"/>
<circle cx="1117.1" cy="269.0" r="0.42" fill="#8c9aa2" opacity="0.39"/>
<circle cx="1225.3" cy="330.3" r="0.42" fill="#d23a68" opacity="0.47"/>
<circle cx="1217.0" cy="298.1" r="0.42" fill="#8c9aa2" opacity="0.59"/>
<circle cx="1192.2" cy="268.9" r="0.71" fill="#d23a68" opacity="0.74"/>
<circle cx="1209.8" cy="284.6" r="0.61" fill="#8c9aa2" opacity="0.68"/>
<circle cx="1219.4" cy="271.8" r="0.66" fill="#8c9aa2" opacity="0.49"/>
<circle cx="1184.5" cy="261.3" r="0.71" fill="#d23a68" opacity="0.70"/>
<circle cx="1216.9" cy="260.7" r="0.62" fill="#b0dbe8" opacity="0.73"/>
<circle cx="1222.1" cy="341.0" r="0.55" fill="#8c9aa2" opacity="0.62"/>
<circle cx="1137.1" cy="277.9" r="0.74" fill="#8c9aa2" opacity="0.59"/>
<circle cx="1222.0" cy="307.2" r="0.63" fill="#8c9aa2" opacity="0.81"/>
<circle cx="1217.4" cy="260.5" r="0.46" fill="#d23a68" opacity="0.54"/>
<circle cx="1184.5" cy="316.5" r="0.51" fill="#b0dbe8" opacity="0.72"/>
<circle cx="1220.5" cy="305.4" r="0.51" fill="#d23a68" opacity="0.43"/>
<circle cx="1210.7" cy="312.6" r="0.67" fill="#d23a68" opacity="0.75"/>
<circle cx="1131.5" cy="278.4" r="0.43" fill="#d23a68" opacity="0.80"/>
<circle cx="1231.1" cy="319.5" r="0.45" fill="#d23a68" opacity="0.37"/>
<circle cx="1208.6" cy="277.8" r="0.52" fill="#d23a68" opacity="0.51"/>
<circle cx="1140.3" cy="274.3" r="0.58" fill="#8c9aa2" opacity="0.72"/>
<circle cx="1232.7" cy="246.1" r="0.68" fill="#8c9aa2" opacity="0.73"/>
<circle cx="1187.4" cy="329.2" r="0.64" fill="#d23a68" opacity="0.49"/>
<circle cx="1176.8" cy="282.2" r="0.53" fill="#d23a68" opacity="0.45"/>
<circle cx="1222.4" cy="265.5" r="0.65" fill="#d23a68" opacity="0.53"/>
<circle cx="1161.9" cy="269.6" r="0.49" fill="#d23a68" opacity="0.50"/>
<circle cx="1225.2" cy="282.6" r="0.46" fill="#d23a68" opacity="0.67"/>
<circle cx="1203.8" cy="285.1" r="0.63" fill="#d23a68" opacity="0.79"/>
<circle cx="1208.0" cy="220.0" r="0.58" fill="#8c9aa2" opacity="0.62"/>
<circle cx="1202.1" cy="312.1" r="0.42" fill="#b0dbe8" opacity="0.55"/>
<circle cx="1212.1" cy="289.1" r="0.58" fill="#8c9aa2" opacity="0.83"/>
<circle cx="1223.2" cy="327.4" r="0.48" fill="#b0dbe8" opacity="0.52"/>
<circle cx="1233.0" cy="264.6" r="0.40" fill="#8c9aa2" opacity="0.43"/>
<circle cx="1208.8" cy="254.4" r="0.57" fill="#8c9aa2" opacity="0.81"/>
<circle cx="1145.2" cy="284.7" r="0.47" fill="#d23a68" opacity="0.64"/>
<circle cx="1165.8" cy="276.2" r="0.46" fill="#d23a68" opacity="0.58"/>
<circle cx="1157.0" cy="296.7" r="0.64" fill="#d23a68" opacity="0.36"/>
<circle cx="1186.0" cy="268.4" r="0.42" fill="#d23a68" opacity="0.37"/>
<circle cx="1156.4" cy="280.3" r="0.68" fill="#d23a68" opacity="0.54"/>
<circle cx="1178.3" cy="301.6" r="0.58" fill="#d23a68" opacity="0.49"/>
<circle cx="1206.7" cy="259.5" r="0.48" fill="#8c9aa2" opacity="0.66"/>
<circle cx="1110.8" cy="277.3" r="0.52" fill="#8c9aa2" opacity="0.45"/>
<circle cx="1217.9" cy="284.6" r="0.45" fill="#8c9aa2" opacity="0.68"/>
<circle cx="1224.1" cy="345.9" r="0.45" fill="#8c9aa2" opacity="0.64"/>
<circle cx="1116.6" cy="274.9" r="0.73" fill="#8c9aa2" opacity="0.60"/>
<circle cx="1179.6" cy="290.9" r="0.45" fill="#b0dbe8" opacity="0.63"/>
<circle cx="1191.6" cy="271.0" r="0.45" fill="#d23a68" opacity="0.48"/>
<circle cx="1198.7" cy="283.6" r="0.58" fill="#d23a68" opacity="0.64"/>
<circle cx="1145.2" cy="279.9" r="0.71" fill="#8c9aa2" opacity="0.74"/>
<circle cx="1174.2" cy="276.9" r="0.51" fill="#d23a68" opacity="0.79"/>
<circle cx="1182.9" cy="292.7" r="0.52" fill="#d23a68" opacity="0.50"/>
<circle cx="1181.7" cy="269.4" r="0.40" fill="#b0dbe8" opacity="0.36"/>
<circle cx="1178.7" cy="260.0" r="0.69" fill="#d23a68" opacity="0.45"/>
<circle cx="1227.8" cy="267.4" r="0.68" fill="#d23a68" opacity="0.45"/>
<circle cx="1196.7" cy="306.0" r="0.64" fill="#d23a68" opacity="0.41"/>
<circle cx="1185.9" cy="305.7" r="0.68" fill="#d23a68" opacity="0.40"/>
<circle cx="1163.9" cy="283.6" r="0.70" fill="#d23a68" opacity="0.44"/>
<circle cx="1175.2" cy="255.6" r="0.52" fill="#d23a68" opacity="0.71"/>
<circle cx="1177.8" cy="299.0" r="0.52" fill="#d23a68" opacity="0.43"/>
<circle cx="1193.3" cy="239.0" r="0.63" fill="#b0dbe8" opacity="0.52"/>
<circle cx="1158.1" cy="290.4" r="0.68" fill="#8c9aa2" opacity="0.41"/>
<circle cx="1188.8" cy="269.7" r="0.58" fill="#8c9aa2" opacity="0.37"/>
<circle cx="1231.6" cy="257.5" r="0.53" fill="#d23a68" opacity="0.75"/>
<circle cx="1230.8" cy="281.5" r="0.59" fill="#d23a68" opacity="0.72"/>
<circle cx="1204.7" cy="252.7" r="0.59" fill="#8c9aa2" opacity="0.78"/>
<circle cx="1196.5" cy="285.0" r="0.73" fill="#b0dbe8" opacity="0.54"/>
<circle cx="1169.9" cy="260.7" r="0.69" fill="#d23a68" opacity="0.69"/>
<circle cx="1228.8" cy="291.1" r="0.57" fill="#d23a68" opacity="0.51"/>
<circle cx="1223.4" cy="297.5" r="0.61" fill="#d23a68" opacity="0.82"/>
<circle cx="1219.0" cy="295.6" r="0.46" fill="#b0dbe8" opacity="0.81"/>
<circle cx="1222.6" cy="263.3" r="0.54" fill="#d23a68" opacity="0.56"/>
<circle cx="1131.7" cy="273.2" r="0.48" fill="#8c9aa2" opacity="0.57"/>
<circle cx="1219.7" cy="264.6" r="0.51" fill="#d23a68" opacity="0.51"/>
<circle cx="1204.4" cy="280.6" r="0.57" fill="#d23a68" opacity="0.47"/>
<circle cx="1214.1" cy="336.6" r="0.42" fill="#d23a68" opacity="0.80"/>
<circle cx="1217.0" cy="257.8" r="0.74" fill="#d23a68" opacity="0.47"/>
<circle cx="1196.4" cy="289.3" r="0.60" fill="#b0dbe8" opacity="0.58"/>
<circle cx="1112.9" cy="276.8" r="0.42" fill="#b0dbe8" opacity="0.70"/>
<circle cx="1133.8" cy="279.7" r="0.49" fill="#d23a68" opacity="0.38"/>
<circle cx="1170.5" cy="272.4" r="0.75" fill="#b0dbe8" opacity="0.69"/>
<circle cx="1221.8" cy="271.1" r="0.48" fill="#d23a68" opacity="0.67"/>
<circle cx="1189.5" cy="290.5" r="0.65" fill="#d23a68" opacity="0.44"/>
<circle cx="1233.4" cy="237.4" r="0.65" fill="#d23a68" opacity="0.49"/>
<circle cx="1157.4" cy="285.6" r="0.70" fill="#d23a68" opacity="0.75"/>
<circle cx="1224.6" cy="292.2" r="0.66" fill="#d23a68" opacity="0.76"/>
<circle cx="1136.9" cy="295.8" r="0.64" fill="#d23a68" opacity="0.49"/>
<circle cx="1168.0" cy="261.5" r="0.63" fill="#d23a68" opacity="0.66"/>
<circle cx="1208.8" cy="291.1" r="0.50" fill="#8c9aa2" opacity="0.83"/>
<circle cx="1177.5" cy="295.1" r="0.74" fill="#d23a68" opacity="0.45"/>
<circle cx="1110.1" cy="274.4" r="0.57" fill="#d23a68" opacity="0.69"/>
<circle cx="1180.3" cy="278.8" r="0.41" fill="#d23a68" opacity="0.59"/>
<circle cx="1147.3" cy="261.9" r="0.74" fill="#8c9aa2" opacity="0.61"/>
<circle cx="1233.7" cy="282.6" r="0.41" fill="#d23a68" opacity="0.66"/>
<circle cx="1213.4" cy="276.5" r="0.55" fill="#d23a68" opacity="0.80"/>
<circle cx="1200.4" cy="271.6" r="0.43" fill="#d23a68" opacity="0.49"/>
</g>
<path d="M981.3,289.2 L985.3,261.2" stroke="#2a8060" stroke-width="2.6" opacity="0.9"/>
<path d="M999.2,287.9 L1003.2,262.5" stroke="#2a8060" stroke-width="2.6" opacity="0.9"/>
<path d="M1017.1,286.5 L1021.1,263.8" stroke="#2a8060" stroke-width="2.6" opacity="0.9"/>
<path d="M1034.1,285.3 L1038.1,265.0" stroke="#2a8060" stroke-width="2.6" opacity="0.9"/>
<path d="M1052.0,284.0 L1056.0,266.3" stroke="#2a8060" stroke-width="2.6" opacity="0.9"/>
<path d="M1069.0,282.8 L1073.0,267.6" stroke="#2a8060" stroke-width="2.6" opacity="0.9"/>
<rect x="977.9" y="288" width="4.4" height="48" fill="#b48624"/>
<rect x="979.3" y="288" width="1.3" height="48" fill="#e2bc58" opacity="0.8"/>
<path d="M984.8,262.2 Q984.8,247.5 993.4,247.5 Q1001.0,248.5 1000.0,261.5 L998.8,297.0 Q998.5,301.0 997.0,300.5" fill="none" stroke="#8c7a34" stroke-width="4.2" stroke-linecap="round"/>
<path d="M984.8,262.2 Q984.8,247.5 993.4,247.5 Q1001.0,248.5 1000.0,261.5 L998.8,297.0 Q998.5,301.0 997.0,300.5" fill="none" stroke="#d6c27a" stroke-width="2.5" stroke-linecap="round"/>
<path d="M984.8,262.2 Q984.8,247.5 993.4,247.5 Q1001.0,248.5 1000.0,261.5 L998.8,297.0 Q998.5,301.0 997.0,300.5" fill="none" stroke="#f2e6b0" stroke-width="0.8" stroke-linecap="round" opacity="0.7"/>
<path d="M1002.7,263.5 Q1002.7,250.0 1010.9,250.0 Q1018.0,251.0 1017.0,264.0 L1015.8,294.3 Q1015.5,298.3 1014.0,297.8" fill="none" stroke="#8c7a34" stroke-width="4.2" stroke-linecap="round"/>
<path d="M1002.7,263.5 Q1002.7,250.0 1010.9,250.0 Q1018.0,251.0 1017.0,264.0 L1015.8,294.3 Q1015.5,298.3 1014.0,297.8" fill="none" stroke="#d6c27a" stroke-width="2.5" stroke-linecap="round"/>
<path d="M1002.7,263.5 Q1002.7,250.0 1010.9,250.0 Q1018.0,251.0 1017.0,264.0 L1015.8,294.3 Q1015.5,298.3 1014.0,297.8" fill="none" stroke="#f2e6b0" stroke-width="0.8" stroke-linecap="round" opacity="0.7"/>
<path d="M1020.6,264.8 Q1020.6,252.5 1027.8,252.5 Q1034.0,253.5 1033.0,266.5 L1031.8,291.5 Q1031.5,295.5 1030.0,295.0" fill="none" stroke="#8c7a34" stroke-width="4.2" stroke-linecap="round"/>
<path d="M1020.6,264.8 Q1020.6,252.5 1027.8,252.5 Q1034.0,253.5 1033.0,266.5 L1031.8,291.5 Q1031.5,295.5 1030.0,295.0" fill="none" stroke="#d6c27a" stroke-width="2.5" stroke-linecap="round"/>
<path d="M1020.6,264.8 Q1020.6,252.5 1027.8,252.5 Q1034.0,253.5 1033.0,266.5 L1031.8,291.5 Q1031.5,295.5 1030.0,295.0" fill="none" stroke="#f2e6b0" stroke-width="0.8" stroke-linecap="round" opacity="0.7"/>
<path d="M1037.6,266.0 Q1037.6,255.0 1045.7,255.0 Q1052.7,256.0 1051.7,269.0 L1050.5,287.7 Q1050.2,291.7 1048.7,291.2" fill="none" stroke="#8c7a34" stroke-width="4.2" stroke-linecap="round"/>
<path d="M1037.6,266.0 Q1037.6,255.0 1045.7,255.0 Q1052.7,256.0 1051.7,269.0 L1050.5,287.7 Q1050.2,291.7 1048.7,291.2" fill="none" stroke="#d6c27a" stroke-width="2.5" stroke-linecap="round"/>
<path d="M1037.6,266.0 Q1037.6,255.0 1045.7,255.0 Q1052.7,256.0 1051.7,269.0 L1050.5,287.7 Q1050.2,291.7 1048.7,291.2" fill="none" stroke="#f2e6b0" stroke-width="0.8" stroke-linecap="round" opacity="0.7"/>
<path d="M1055.5,267.3 Q1055.5,258.0 1062.6,258.0 Q1068.7,259.0 1067.7,272.0 L1066.5,285.0 Q1066.2,289.0 1064.7,288.5" fill="none" stroke="#8c7a34" stroke-width="4.2" stroke-linecap="round"/>
<path d="M1055.5,267.3 Q1055.5,258.0 1062.6,258.0 Q1068.7,259.0 1067.7,272.0 L1066.5,285.0 Q1066.2,289.0 1064.7,288.5" fill="none" stroke="#d6c27a" stroke-width="2.5" stroke-linecap="round"/>
<path d="M1055.5,267.3 Q1055.5,258.0 1062.6,258.0 Q1068.7,259.0 1067.7,272.0 L1066.5,285.0 Q1066.2,289.0 1064.7,288.5" fill="none" stroke="#f2e6b0" stroke-width="0.8" stroke-linecap="round" opacity="0.7"/>
<path d="M1072.5,268.6 Q1073.5,262.0 1077.2,262.0 Q1081.0,262.0 1082.0,266.0" fill="none" stroke="#8c7a34" stroke-width="4.2" stroke-linecap="round"/>
<path d="M1072.5,268.6 Q1073.5,262.0 1077.2,262.0 Q1081.0,262.0 1082.0,266.0" fill="none" stroke="#d6c27a" stroke-width="2.5" stroke-linecap="round"/>
<path d="M1072.5,268.6 Q1073.5,262.0 1077.2,262.0 Q1081.0,262.0 1082.0,266.0" fill="none" stroke="#f2e6b0" stroke-width="0.8" stroke-linecap="round" opacity="0.7"/>
<text transform="translate(121.5,109.1) scale(1.0,1)" font-family="Liberation Sans, sans-serif" font-weight="bold" font-size="31.1" text-anchor="middle" fill="#000">Ordering</text>
<text transform="translate(121.6,142.8) scale(1.0,1)" font-family="Liberation Sans, sans-serif" font-weight="bold" font-size="31.1" text-anchor="middle" fill="#000">capillary</text>
<text transform="translate(332.3,138.8) scale(1.0,1)" font-family="Liberation Sans, sans-serif" font-weight="bold" font-size="31.1" text-anchor="middle" fill="#000">Sheath</text>
<text transform="translate(332.8,172.9) scale(1.0,1)" font-family="Liberation Sans, sans-serif" font-weight="bold" font-size="31.1" text-anchor="middle" fill="#000">liquid</text>
<text transform="translate(68.6,425.2)" font-family="Liberation Sans, sans-serif" font-weight="bold" font-size="31.4" fill="#000">N</text>
<text transform="translate(90.4,430.2)" font-family="Liberation Sans, sans-serif" font-weight="bold" font-size="19" fill="#000">2</text>
<text transform="translate(197.5,756.5) scale(1.0,1)" font-family="Liberation Sans, sans-serif" font-weight="bold" font-size="31.1" text-anchor="middle" fill="#000">Cell suspension</text>
<text transform="translate(631.3,759.2) scale(1.0,1)" font-family="Liberation Sans, sans-serif" font-weight="bold" font-size="31.1" text-anchor="middle" fill="#000">Ice bath ultrasonication</text>
<text transform="translate(1107.4,156.7) scale(1.0,1)" font-family="Liberation Sans, sans-serif" font-weight="bold" font-size="31.1" text-anchor="middle" fill="#000">Non-contact ESI</text>
<text transform="translate(994.9,368.7) scale(1.0,1)" font-family="Liberation Sans, sans-serif" font-weight="bold" font-size="31.1" text-anchor="middle" fill="#000">HV</text>
<text transform="translate(1232.5,719.5) scale(1.0,1)" font-family="Liberation Sans, sans-serif" font-weight="bold" font-size="31.1" text-anchor="start" fill="#000">Time</text>
<text transform="translate(1106.1,760.0) scale(1.0,1)" font-family="Liberation Sans, sans-serif" font-weight="bold" font-size="31.1" text-anchor="middle" fill="#000">Extended analysis time</text>
<text transform="translate(1673.5,303.3) scale(1.0,1)" font-family="Liberation Sans, sans-serif" font-weight="bold" font-size="31.1" text-anchor="start" fill="#000">m/z</text>
<text transform="translate(1546.3,343.9) scale(1.0,1)" font-family="Liberation Sans, sans-serif" font-weight="bold" font-size="31.1" text-anchor="middle" fill="#000">MS/MS identification</text>
<text transform="translate(1549.1,496.9) scale(1.03,1)" font-family="Liberation Sans, sans-serif" font-weight="bold" font-size="26" text-anchor="middle" fill="#000">HCD</text>
<text transform="translate(1487.0,715.3) scale(1.0,1)" font-family="Liberation Sans, sans-serif" font-weight="bold" font-size="31.1" text-anchor="start" fill="#000">m/z</text>
<text transform="translate(1673.0,715.3) scale(1.0,1)" font-family="Liberation Sans, sans-serif" font-weight="bold" font-size="31.1" text-anchor="start" fill="#000">m/z</text>
<text transform="translate(1546.8,762.8) scale(1.0,1)" font-family="Liberation Sans, sans-serif" font-weight="bold" font-size="31.1" text-anchor="middle" fill="#000">Isomer discrimination</text>
<polyline points="923.4,676.6 924.4,676.6 925.4,676.6 926.4,676.6 927.4,676.6 928.4,676.6 929.4,676.6 930.4,676.6 931.4,676.6 932.4,676.6 933.4,676.6 934.4,676.6 935.4,676.6 936.4,676.6 937.4,676.6 938.4,676.6 939.4,676.6 940.4,676.6 941.4,676.6 942.4,676.6 943.4,676.6 944.4,676.6 945.4,676.6 946.4,676.6 947.4,676.6 948.4,676.5 949.4,676.5 950.4,676.4 951.4,676.3 952.4,676.1 953.4,675.9 954.4,675.5 955.4,675.0 956.4,674.4 957.4,673.5 958.4,672.4 959.4,671.0 960.4,669.2 961.4,666.9 962.4,664.3 963.4,661.2 964.4,657.6 965.4,653.5 966.4,649.0 967.4,644.1 968.4,638.8 969.4,633.3 970.4,627.7 971.4,622.0 972.4,616.4 973.4,611.0 974.4,605.8 975.4,601.1 976.4,596.9 977.4,593.2 978.4,590.1 979.4,587.5 980.4,585.6 981.4,584.2 982.4,583.3 983.4,582.8 984.4,582.6 985.4,582.6 986.4,582.7 987.4,583.2 988.4,584.0 989.4,585.3 990.4,587.1 991.4,589.5 992.4,592.5 993.4,596.1 994.4,600.2 995.4,604.9 996.4,609.9 997.4,615.3 998.4,620.9 999.4,626.5 1000.4,632.2 1001.4,637.7 1002.4,643.1 1003.4,648.1 1004.4,652.7 1005.4,656.8 1006.4,660.5 1007.4,663.7 1008.4,666.5 1009.4,668.7 1010.4,670.6 1011.4,672.1 1012.4,673.3 1013.4,674.2 1014.4,674.9 1015.4,675.4 1016.4,675.8 1017.4,676.1 1018.4,676.3 1019.4,676.4 1020.4,676.5 1021.4,676.5 1022.4,676.5 1023.4,676.6 1024.4,676.6 1025.4,676.6 1026.4,676.6 1027.4,676.6 1028.4,676.6 1029.4,676.6 1030.4,676.6 1031.4,676.6 1032.4,676.6 1033.4,676.6 1034.4,676.6 1035.4,676.5 1036.4,676.5 1037.4,676.4 1038.4,676.3 1039.4,676.2 1040.4,676.0 1041.4,675.7 1042.4,675.2 1043.4,674.7 1044.4,673.9 1045.4,673.0 1046.4,671.7 1047.4,670.1 1048.4,668.1 1049.4,665.7 1050.4,662.7 1051.4,659.2 1052.4,655.1 1053.4,650.4 1054.4,645.0 1055.4,639.0 1056.4,632.5 1057.4,625.4 1058.4,617.8 1059.4,609.9 1060.4,601.7 1061.4,593.4 1062.4,585.1 1063.4,576.9 1064.4,569.0 1065.4,561.5 1066.4,554.6 1067.4,548.2 1068.4,542.5 1069.4,537.6 1070.4,533.5 1071.4,530.1 1072.4,527.4 1073.4,525.5 1074.4,524.2 1075.4,523.5 1076.4,523.2 1077.4,523.1 1078.4,523.2 1079.4,523.6 1080.4,524.4 1081.4,525.8 1082.4,527.9 1083.4,530.7 1084.4,534.2 1085.4,538.5 1086.4,543.6 1087.4,549.4 1088.4,555.9 1089.4,563.0 1090.4,570.6 1091.4,578.5 1092.4,586.7 1093.4,595.1 1094.4,603.4 1095.4,611.5 1096.4,619.4 1097.4,626.8 1098.4,633.8 1099.4,640.3 1100.4,646.1 1101.4,651.4 1102.4,656.0 1103.4,660.0 1104.4,663.4 1105.4,666.2 1106.4,668.6 1107.4,670.5 1108.4,672.0 1109.4,673.2 1110.4,674.1 1111.4,674.8 1112.4,675.3 1113.4,675.7 1114.4,676.0 1115.4,676.2 1116.4,676.3 1117.4,676.4 1118.4,676.5 1119.4,676.5 1120.4,676.6 1121.4,676.6 1122.4,676.6 1123.4,676.6 1124.4,676.6 1125.4,676.6 1126.4,676.6 1127.4,676.6 1128.4,676.6 1129.4,676.6 1130.4,676.6 1131.4,676.6 1132.4,676.5 1133.4,676.5 1134.4,676.5 1135.4,676.4 1136.4,676.2 1137.4,676.0 1138.4,675.7 1139.4,675.3 1140.4,674.8 1141.4,674.0 1142.4,673.0 1143.4,671.7 1144.4,670.1 1145.4,668.0 1146.4,665.6 1147.4,662.7 1148.4,659.3 1149.4,655.5 1150.4,651.3 1151.4,646.7 1152.4,641.8 1153.4,636.7 1154.4,631.5 1155.4,626.4 1156.4,621.3 1157.4,616.5 1158.4,612.0 1159.4,607.9 1160.4,604.4 1161.4,601.4 1162.4,598.9 1163.4,597.0 1164.4,595.7 1165.4,594.8 1166.4,594.3 1167.4,594.1 1168.4,594.1 1169.4,594.2 1170.4,594.6 1171.4,595.4 1172.4,596.7 1173.4,598.5 1174.4,600.8 1175.4,603.7 1176.4,607.2 1177.4,611.2 1178.4,615.6 1179.4,620.3 1180.4,625.3 1181.4,630.5 1182.4,635.7 1183.4,640.8 1184.4,645.8 1185.4,650.4 1186.4,654.7 1187.4,658.6 1188.4,662.1 1189.4,665.1 1190.4,667.6 1191.4,669.7 1192.4,671.4 1193.4,672.8 1194.4,673.8 1195.4,674.6 1196.4,675.2 1197.4,675.7 1198.4,676.0 1199.4,676.2 1200.4,676.3 1201.4,676.4 1202.4,676.5 1203.4,676.5 1204.4,676.6 1205.4,676.6 1206.4,676.6 1207.4,676.6 1208.4,676.6 1209.4,676.6 1210.4,676.6 1211.4,676.6 1212.4,676.6 1213.4,676.6 1214.4,676.6 1215.4,676.6 1216.4,676.6 1217.4,676.6 1218.4,676.6 1219.4,676.6 1220.4,676.6 1221.4,676.6 1222.4,676.6 1223.4,676.6 1224.4,676.6 1225.4,676.6 1226.4,676.6 1227.4,676.6 1228.4,676.6" fill="none" stroke="#e2616c" stroke-width="3.2" stroke-linejoin="round"/>
<line x1="923" y1="708" x2="1233" y2="708" stroke="#e2616c" stroke-width="4"/>
<line x1="1113.6" y1="436" x2="1113.6" y2="476" stroke="#000" stroke-width="2"/>
<path d="M1107.8,474 L1119.4,474 L1113.6,486 Z" fill="#000"/>
<path d="M1277,556.8 H1328.6 M1328.6,223.8 V614.7 M1328.6,223.8 H1352 M1328.6,614.7 H1352" fill="none" stroke="#000" stroke-width="2"/>
<path d="M1350,218.5 L1360.5,223.8 L1350,229.1 Z M1350,609.4 L1360.5,614.7 L1350,620 Z" fill="#000"/>
<line x1="1379.7" y1="296.8" x2="1670" y2="296.8" stroke="#000" stroke-width="3.3"/>
<line x1="1435.8" y1="243.7" x2="1435.8" y2="297" stroke="#000" stroke-width="3.2"/>
<line x1="1490.7" y1="114" x2="1490.7" y2="297" stroke="#000" stroke-width="3.2"/>
<line x1="1526" y1="147" x2="1526" y2="297" stroke="#000" stroke-width="3.2"/>
<line x1="1609.3" y1="210.7" x2="1609.3" y2="297" stroke="#000" stroke-width="3.2"/>
<circle cx="1421.9" cy="106" r="11.6" fill="#f0505f"/>
<line x1="1421.7" y1="122" x2="1421.7" y2="152" stroke="#000" stroke-width="2"/>
<path d="M1416.5,150 L1426.9,150 L1421.7,160.5 Z" fill="#000"/>
<circle cx="1421.8" cy="175" r="10.4" fill="#fff" stroke="#d9505e" stroke-width="1.6"/>
<line x1="1389.1" y1="465.8" x2="1411.6" y2="447.1" stroke="#ee5866" stroke-width="2.6"/>
<line x1="1411.6" y1="447.1" x2="1430.3" y2="465.2" stroke="#ee5866" stroke-width="2.6"/>
<line x1="1430.3" y1="465.2" x2="1458.4" y2="447.1" stroke="#ee5866" stroke-width="2.6"/>
<line x1="1458.4" y1="447.1" x2="1481.6" y2="465.2" stroke="#ee5866" stroke-width="2.6"/>
<line x1="1481.6" y1="465.2" x2="1505.7" y2="447.1" stroke="#ee5866" stroke-width="2.6"/>
<line x1="1481.6" y1="465.2" x2="1481.6" y2="496.3" stroke="#ee5866" stroke-width="2.6"/>
<circle cx="1389.1" cy="465.8" r="5.2" fill="#ee5866"/>
<circle cx="1411.6" cy="447.1" r="5.2" fill="#ee5866"/>
<circle cx="1430.3" cy="465.2" r="5.2" fill="#ee5866"/>
<circle cx="1458.4" cy="447.1" r="5.2" fill="#ee5866"/>
<circle cx="1481.6" cy="465.2" r="5.2" fill="#ee5866"/>
<circle cx="1505.7" cy="447.1" r="5.2" fill="#ee5866"/>
<circle cx="1481.6" cy="496.3" r="5.2" fill="#ee5866"/>
<line x1="1398.1" y1="535.9" x2="1421.3" y2="541.2" stroke="#1a9ad8" stroke-width="2.6"/>
<line x1="1395.7" y1="551" x2="1421.3" y2="541.2" stroke="#1a9ad8" stroke-width="2.6"/>
<line x1="1421.3" y1="541.2" x2="1444.4" y2="525.9" stroke="#1a9ad8" stroke-width="2.6"/>
<line x1="1444.4" y1="525.9" x2="1470.5" y2="545.2" stroke="#1a9ad8" stroke-width="2.6"/>
<line x1="1470.5" y1="545.2" x2="1498.2" y2="525.9" stroke="#1a9ad8" stroke-width="2.6"/>
<line x1="1470.5" y1="545.2" x2="1470.5" y2="573.1" stroke="#1a9ad8" stroke-width="2.6"/>
<circle cx="1398.1" cy="535.9" r="5.2" fill="#1a9ad8"/>
<circle cx="1395.7" cy="551" r="5.2" fill="#1a9ad8"/>
<circle cx="1421.3" cy="541.2" r="5.2" fill="#1a9ad8"/>
<circle cx="1444.4" cy="525.9" r="5.2" fill="#1a9ad8"/>
<circle cx="1470.5" cy="545.2" r="5.2" fill="#1a9ad8"/>
<circle cx="1498.2" cy="525.9" r="5.2" fill="#1a9ad8"/>
<circle cx="1470.5" cy="573.1" r="5.2" fill="#1a9ad8"/>
<line x1="1606.7" y1="477.7" x2="1638.3" y2="449.1" stroke="#ee5866" stroke-width="2.6"/>
<line x1="1638.3" y1="449.1" x2="1663.5" y2="478.9" stroke="#ee5866" stroke-width="2.6"/>
<line x1="1663.5" y1="478.9" x2="1693.2" y2="452.1" stroke="#ee5866" stroke-width="2.6"/>
<circle cx="1606.7" cy="477.7" r="5.2" fill="#ee5866"/>
<circle cx="1638.3" cy="449.1" r="5.2" fill="#ee5866"/>
<circle cx="1663.5" cy="478.9" r="5.2" fill="#ee5866"/>
<circle cx="1693.2" cy="452.1" r="5.2" fill="#ee5866"/>
<line x1="1661.4" y1="520.9" x2="1631.9" y2="547.6" stroke="#1a9ad8" stroke-width="2.6"/>
<line x1="1631.9" y1="547.6" x2="1661.4" y2="573.2" stroke="#1a9ad8" stroke-width="2.6"/>
<circle cx="1661.4" cy="520.9" r="5.2" fill="#1a9ad8"/>
<circle cx="1631.9" cy="547.6" r="5.2" fill="#1a9ad8"/>
<circle cx="1661.4" cy="573.2" r="5.2" fill="#1a9ad8"/>
<defs><linearGradient id="hcdg" x1="0" x2="1"><stop offset="0" stop-color="#000" stop-opacity="0"/><stop offset="0.45" stop-color="#000"/></linearGradient></defs>
<rect x="1513" y="508.7" width="68" height="2.4" fill="url(#hcdg)"/>
<path d="M1578,504.6 L1588.5,509.9 L1578,515.2 Z" fill="#000"/>
<line x1="1366.8" y1="709.3" x2="1484" y2="709.3" stroke="#000" stroke-width="4.2"/>
<line x1="1562.8" y1="710" x2="1671" y2="710" stroke="#000" stroke-width="3.3"/>
<path d="M1415.1,708 Q1418.7099999999998,655.75 1422.8,587.5 L1426.3999999999999,587.5 Q1430.49,655.75 1434.1,708 Z" fill="#ef5a6a" opacity="1"/>
<path d="M1418.8,708 Q1421.156,678.25 1423.8,632.5 L1426.2,632.5 Q1428.844,678.25 1431.2,708 Z" fill="#6a7ab8" opacity="0.85"/>
<path d="M1589.8,709 Q1592.536,680.75 1595.8,636.5 L1598.2,636.5 Q1601.464,680.75 1604.2,709 Z" fill="#1c9fe0" opacity="1"/>
<path d="M1622.5,709 Q1625.54,662.4 1629.2,599.8 L1631.8,599.8 Q1635.46,662.4 1638.5,709 Z" fill="#f05a6a" opacity="1"/>
</svg></body></html>
